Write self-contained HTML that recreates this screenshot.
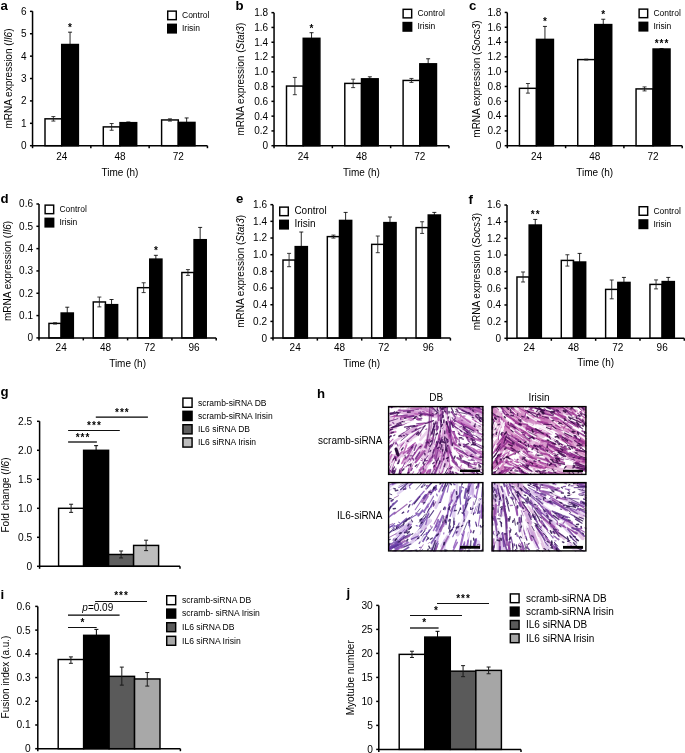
<!DOCTYPE html><html><head><meta charset="utf-8"><style>html,body{margin:0;padding:0;background:#fff;width:685px;height:753px;overflow:hidden;}svg text{font-family:"Liberation Sans",sans-serif;}</style></head><body><svg width="685" height="753" viewBox="0 0 685 753" font-family='"Liberation Sans", sans-serif' style="position:absolute;left:0;top:0;will-change:transform"><defs><filter id="bl" x="0" y="0" width="1" height="1"><feGaussianBlur stdDeviation="0.55"/></filter></defs>
<clipPath id="cp1"><rect x="388" y="406" width="95.5" height="69"/></clipPath>
<g clip-path="url(#cp1)"><g filter="url(#bl)" stroke-linecap="round">
<rect x="386" y="404" width="99.5" height="73" fill="#fff"/>
<path d="M462 406.2l9.1 7" stroke="#c880c8" stroke-width="4.5" opacity="0.5"/>
<path d="M442.5 470.6l7.5 -18" stroke="#d8a0d8" stroke-width="3" opacity="0.5"/>
<path d="M446 433.1l9 14.8" stroke="#c880c8" stroke-width="3.2" opacity="0.5"/>
<path d="M452.1 421.7l11 9.7" stroke="#d8a0d8" stroke-width="2.7" opacity="0.5"/>
<path d="M418.2 477.3l14.2 -21" stroke="#d8a0d8" stroke-width="4.6" opacity="0.5"/>
<path d="M426.7 455.9l1.3 -20.8" stroke="#d090d0" stroke-width="3.3" opacity="0.5"/>
<path d="M390.3 422.3l10.7 -2.2" stroke="#d8a0d8" stroke-width="4.5" opacity="0.5"/>
<path d="M445.6 452.4l1.8 -12.2" stroke="#d8a0d8" stroke-width="3.6" opacity="0.5"/>
<path d="M460 424.1l8.9 6.8" stroke="#c880c8" stroke-width="2.7" opacity="0.5"/>
<path d="M417.3 458.3l9.3 -17" stroke="#d8a0d8" stroke-width="4.6" opacity="0.5"/>
<path d="M463.8 410l21 12.8" stroke="#d8a0d8" stroke-width="4.5" opacity="0.5"/>
<path d="M448.9 436.5l0.8 16.2" stroke="#d8a0d8" stroke-width="3.7" opacity="0.5"/>
<path d="M416.1 404.7l22.7 11.4" stroke="#c880c8" stroke-width="3.1" opacity="0.5"/>
<path d="M472.3 474.5l17.1 4.4" stroke="#c880c8" stroke-width="4.1" opacity="0.5"/>
<path d="M396.1 404.2l17.1 -0.7" stroke="#d8a0d8" stroke-width="2.7" opacity="0.5"/>
<path d="M477.3 406.7l16.2 5.8" stroke="#c880c8" stroke-width="3.3" opacity="0.5"/>
<path d="M452.9 442.6l6 8.7" stroke="#d090d0" stroke-width="2.5" opacity="0.5"/>
<path d="M377.1 457.8l16.6 -13.9" stroke="#d8a0d8" stroke-width="3.3" opacity="0.5"/>
<path d="M457 467.8l19.2 8.4" stroke="#d090d0" stroke-width="4.8" opacity="0.5"/>
<path d="M431.8 396.7l7.9 14" stroke="#d8a0d8" stroke-width="2.5" opacity="0.5"/>
<path d="M466.8 451.5l17.7 12.6" stroke="#d090d0" stroke-width="4" opacity="0.5"/>
<path d="M436.6 447.2l2.3 -11.2" stroke="#c880c8" stroke-width="2.6" opacity="0.5"/>
<path d="M431.9 476.3l4.8 -11.3" stroke="#c880c8" stroke-width="4" opacity="0.5"/>
<path d="M415.1 461.2l4.9 -16.2" stroke="#d8a0d8" stroke-width="4.5" opacity="0.5"/>
<path d="M405.3 416.2l22.4 -6.7" stroke="#c880c8" stroke-width="4.6" opacity="0.5"/>
<path d="M457.9 406.8l23.2 8.7" stroke="#d090d0" stroke-width="4.6" opacity="0.5"/>
<path d="M448.9 428.3l0.2 23.4" stroke="#d090d0" stroke-width="5" opacity="0.5"/>
<path d="M442.8 457.7l-0.6 -13" stroke="#d090d0" stroke-width="4.4" opacity="0.5"/>
<path d="M398.3 411.6l19.8 3.4" stroke="#c880c8" stroke-width="3.6" opacity="0.5"/>
<path d="M410.8 405.4l22.3 6.2" stroke="#c880c8" stroke-width="3.1" opacity="0.5"/>
<path d="M392.1 426.8l19.9 -7.2" stroke="#c880c8" stroke-width="3.8" opacity="0.5"/>
<path d="M465.1 451.7l14.6 7.9" stroke="#d090d0" stroke-width="4.7" opacity="0.5"/>
<path d="M428.9 462.3l6 -20.7" stroke="#c880c8" stroke-width="4.5" opacity="0.5"/>
<path d="M402 435.5l13.4 -6.6" stroke="#d090d0" stroke-width="4.9" opacity="0.5"/>
<path d="M403.9 463l13.6 -11.9" stroke="#d090d0" stroke-width="2.6" opacity="0.5"/>
<path d="M386.5 470.1l6.8 -13.8" stroke="#d8a0d8" stroke-width="4.5" opacity="0.5"/>
<path d="M435.1 465.8l5.1 -23.5" stroke="#c880c8" stroke-width="3.9" opacity="0.5"/>
<path d="M441.1 437.9l1.9 -23.4" stroke="#d8a0d8" stroke-width="4.8" opacity="0.5"/>
<path d="M408.2 411.5l13.9 3.5" stroke="#d090d0" stroke-width="3.7" opacity="0.5"/>
<path d="M441.3 445.2l2.1 -10.9" stroke="#d090d0" stroke-width="3.8" opacity="0.5"/>
<path d="M399.1 447l20 -14.1" stroke="#d090d0" stroke-width="4.8" opacity="0.5"/>
<path d="M417.3 401.1l19.9 7.3" stroke="#d8a0d8" stroke-width="4.9" opacity="0.5"/>
<path d="M389.7 465.9l9.1 -15.7" stroke="#d8a0d8" stroke-width="3.1" opacity="0.5"/>
<path d="M435.5 427.7l7.6 -17.1" stroke="#d8a0d8" stroke-width="4" opacity="0.5"/>
<path d="M467.3 420.3l21.5 12.4" stroke="#d8a0d8" stroke-width="3" opacity="0.5"/>
<path d="M405 462.4l6.8 -9.4" stroke="#d090d0" stroke-width="4.6" opacity="0.5"/>
<path d="M438.1 465.8l4.5 -19.5" stroke="#d8a0d8" stroke-width="4.5" opacity="0.5"/>
<path d="M470 474.9l17.9 2.4" stroke="#c880c8" stroke-width="4.4" opacity="0.5"/>
<path d="M447.5 477.8l0.3 -13" stroke="#d8a0d8" stroke-width="2.8" opacity="0.5"/>
<path d="M472.8 399.8l15.5 19.9" stroke="#d8a0d8" stroke-width="3.7" opacity="0.5"/>
<path d="M423.6 457.6l9.6 -18.9" stroke="#d8a0d8" stroke-width="4.6" opacity="0.5"/>
<path d="M419.1 477.4l6.1 -9.8" stroke="#d090d0" stroke-width="4.5" opacity="0.5"/>
<path d="M465 445.7l17.3 9.3" stroke="#d090d0" stroke-width="3.8" opacity="0.5"/>
<path d="M385.7 429.5l10 -2.1" stroke="#c880c8" stroke-width="3.4" opacity="0.5"/>
<path d="M467.8 398.9l20.5 14.9" stroke="#d8a0d8" stroke-width="3.2" opacity="0.5"/>
<path d="M456.9 418.3l7.8 7.4" stroke="#d090d0" stroke-width="3" opacity="0.5"/>
<path d="M377.4 425.5l14 -6.6" stroke="#d090d0" stroke-width="3.9" opacity="0.5"/>
<path d="M384.6 481.3l6.7 -16.2" stroke="#d090d0" stroke-width="2.9" opacity="0.5"/>
<path d="M437.3 456.3l5.8 -17" stroke="#d090d0" stroke-width="3.2" opacity="0.5"/>
<path d="M409.7 460.9l6.5 -7.9" stroke="#d8a0d8" stroke-width="3.1" opacity="0.5"/>
<path d="M446.5 429.2l6.5 8.7" stroke="#d090d0" stroke-width="3.3" opacity="0.5"/>
<path d="M460.1 443.9l17.9 8.8" stroke="#d8a0d8" stroke-width="3.6" opacity="0.5"/>
<path d="M467.7 424.4l11.9 10.4" stroke="#d090d0" stroke-width="2.8" opacity="0.5"/>
<path d="M444 443.6l0.9 -18.5" stroke="#d090d0" stroke-width="5" opacity="0.5"/>
<path d="M449.8 414.7l21.1 11.9" stroke="#c880c8" stroke-width="4.5" opacity="0.5"/>
<path d="M445.7 463.9l3.1 -12.7" stroke="#d8a0d8" stroke-width="3.2" opacity="0.5"/>
<path d="M474.2 467.6l10.5 3.3" stroke="#d090d0" stroke-width="3.2" opacity="0.5"/>
<path d="M468 408.4l22.3 12.7" stroke="#d090d0" stroke-width="3.7" opacity="0.5"/>
<path d="M463 400.3l16.7 15.8" stroke="#d8a0d8" stroke-width="4.1" opacity="0.5"/>
<path d="M412.7 411.8l23 4.4" stroke="#d090d0" stroke-width="4" opacity="0.5"/>
<path d="M420.4 439.7l15.6 -18.3" stroke="#d8a0d8" stroke-width="2.7" opacity="0.5"/>
<path d="M446 466.4l1.4 -22.2" stroke="#d8a0d8" stroke-width="3.3" opacity="0.5"/>
<path d="M396.6 460l19.3 -15.1" stroke="#d090d0" stroke-width="3.3" opacity="0.5"/>
<path d="M461.6 420.1l12 11.2" stroke="#c880c8" stroke-width="4.8" opacity="0.5"/>
<path d="M437.6 472l4.8 -11.9" stroke="#d090d0" stroke-width="4.4" opacity="0.5"/>
<path d="M384.1 415l10.3 -0.8" stroke="#d090d0" stroke-width="4.6" opacity="0.5"/>
<path d="M435.9 468l4.2 -14.8" stroke="#c880c8" stroke-width="4.9" opacity="0.5"/>
<path d="M414.2 402.6l11.4 0.5" stroke="#c880c8" stroke-width="3.7" opacity="0.5"/>
<path d="M462.8 430.5l9.3 8.1" stroke="#c880c8" stroke-width="4.4" opacity="0.5"/>
<path d="M394.1 441.9l21.3 -14.1" stroke="#d090d0" stroke-width="2.6" opacity="0.5"/>
<path d="M448.9 420.1l22.1 11" stroke="#d090d0" stroke-width="4.8" opacity="0.5"/>
<path d="M460.8 421.9l13 8.8" stroke="#c880c8" stroke-width="4" opacity="0.5"/>
<path d="M455.6 446.3l6 2.8" stroke="#903898" stroke-width="1.2" opacity="0.8"/>
<path d="M446.1 481.5l5.9 -14.8" stroke="#7a2a8a" stroke-width="1.5" opacity="0.8"/>
<path d="M481.5 438.5l4.5 1.4" stroke="#7a2a8a" stroke-width="2.1" opacity="0.8"/>
<path d="M457.3 457.9l14.4 8.9" stroke="#7a2a8a" stroke-width="2" opacity="0.8"/>
<path d="M474 434.3l8.6 4.9" stroke="#7a2a8a" stroke-width="2" opacity="0.8"/>
<path d="M408 474.5l5 -11.9" stroke="#b858b0" stroke-width="2.2" opacity="0.8"/>
<path d="M437.1 403.3l0.7 6.5" stroke="#903898" stroke-width="1.1" opacity="0.8"/>
<path d="M408.2 461.1l6.7 -8.4" stroke="#6a2080" stroke-width="1.5" opacity="0.8"/>
<path d="M439.8 444.2l1.1 -6.5" stroke="#a848a8" stroke-width="1.1" opacity="0.8"/>
<path d="M378.8 436.1l16.7 -4.3" stroke="#b858b0" stroke-width="2.1" opacity="0.8"/>
<path d="M410.6 408.3l10.5 0.1" stroke="#b858b0" stroke-width="1.8" opacity="0.8"/>
<path d="M458.5 408l14.2 7.5" stroke="#7a2a8a" stroke-width="1.8" opacity="0.8"/>
<path d="M403.2 453.6l3.4 -8.6" stroke="#b858b0" stroke-width="1.6" opacity="0.8"/>
<path d="M440.6 413.7l2 -9.1" stroke="#b858b0" stroke-width="1" opacity="0.8"/>
<path d="M416.6 467.9l3 -5.2" stroke="#903898" stroke-width="0.9" opacity="0.8"/>
<path d="M467.9 446l6.5 3.1" stroke="#a848a8" stroke-width="1" opacity="0.8"/>
<path d="M423.6 466.9l10.3 -11.6" stroke="#903898" stroke-width="2.1" opacity="0.8"/>
<path d="M466.3 428.2l6.5 7.3" stroke="#7a2a8a" stroke-width="0.8" opacity="0.8"/>
<path d="M407 480.6l3.9 -6.6" stroke="#b858b0" stroke-width="1.1" opacity="0.8"/>
<path d="M464 444.5l11.8 8.8" stroke="#6a2080" stroke-width="2.1" opacity="0.8"/>
<path d="M440.1 411.5l5.4 -13.9" stroke="#7a2a8a" stroke-width="1" opacity="0.8"/>
<path d="M414.4 477.1l6.7 -8" stroke="#903898" stroke-width="1" opacity="0.8"/>
<path d="M387 478.6l5.8 -13.2" stroke="#b858b0" stroke-width="2.1" opacity="0.8"/>
<path d="M401.1 445.7l3.2 -3.1" stroke="#903898" stroke-width="1.1" opacity="0.8"/>
<path d="M382 418l6 -0.6" stroke="#6a2080" stroke-width="1.3" opacity="0.8"/>
<path d="M463.7 431.7l4.5 3" stroke="#6a2080" stroke-width="1.3" opacity="0.8"/>
<path d="M475.5 443.9l7.4 3" stroke="#7a2a8a" stroke-width="2" opacity="0.8"/>
<path d="M426.7 472.6l3.8 -2.8" stroke="#7a2a8a" stroke-width="1.8" opacity="0.8"/>
<path d="M414.2 450.3l2.1 -5.3" stroke="#6a2080" stroke-width="1.4" opacity="0.8"/>
<path d="M440.3 419.5l4.3 -8.9" stroke="#a848a8" stroke-width="1" opacity="0.8"/>
<path d="M391 467.9l5.1 -10.4" stroke="#a848a8" stroke-width="2.1" opacity="0.8"/>
<path d="M381 417.7l9.4 -4.2" stroke="#903898" stroke-width="1.5" opacity="0.8"/>
<path d="M419.5 448.9l2.4 -3.7" stroke="#b858b0" stroke-width="2.1" opacity="0.8"/>
<path d="M453.8 442.6l5.4 4.9" stroke="#a848a8" stroke-width="2.1" opacity="0.8"/>
<path d="M477.7 418.4l13 9.8" stroke="#7a2a8a" stroke-width="1.3" opacity="0.8"/>
<path d="M438.6 420.2l-0.6 -17.7" stroke="#903898" stroke-width="2.1" opacity="0.8"/>
<path d="M451.7 421.5l3.2 4.2" stroke="#7a2a8a" stroke-width="2.2" opacity="0.8"/>
<path d="M439 437.8l1.4 -6.1" stroke="#903898" stroke-width="2.2" opacity="0.8"/>
<path d="M421.5 475.5l4.3 -4.9" stroke="#b858b0" stroke-width="1.6" opacity="0.8"/>
<path d="M440.9 429l-0.2 -14.1" stroke="#6a2080" stroke-width="1.2" opacity="0.8"/>
<path d="M442.5 471.7l1.8 -5.9" stroke="#7a2a8a" stroke-width="0.8" opacity="0.8"/>
<path d="M457 465.8l4.3 3.6" stroke="#6a2080" stroke-width="1" opacity="0.8"/>
<path d="M443.8 459.7l0.7 -4.7" stroke="#b858b0" stroke-width="1.4" opacity="0.8"/>
<path d="M451 437.6l1 7.4" stroke="#6a2080" stroke-width="1.5" opacity="0.8"/>
<path d="M461.6 405.6l8.6 3.1" stroke="#a848a8" stroke-width="1.1" opacity="0.8"/>
<path d="M446.8 418.4l-0.9 -11.3" stroke="#a848a8" stroke-width="2.2" opacity="0.8"/>
<path d="M407.9 474.8l1.1 -9.4" stroke="#7a2a8a" stroke-width="1.2" opacity="0.8"/>
<path d="M448.6 417.1l-2 15.9" stroke="#a848a8" stroke-width="1.4" opacity="0.8"/>
<path d="M473.4 426l15.6 8.4" stroke="#a848a8" stroke-width="1.7" opacity="0.8"/>
<path d="M401.6 434.1l8.1 -5.7" stroke="#6a2080" stroke-width="1.1" opacity="0.8"/>
<path d="M464.8 433.6l5.8 10.9" stroke="#7a2a8a" stroke-width="1.9" opacity="0.8"/>
<path d="M450.5 465.8l8.2 4.5" stroke="#b858b0" stroke-width="0.9" opacity="0.8"/>
<path d="M418.1 423.7l6.5 -0.6" stroke="#7a2a8a" stroke-width="1.2" opacity="0.8"/>
<path d="M399 410.2l14.2 0.4" stroke="#903898" stroke-width="1.9" opacity="0.8"/>
<path d="M382.9 427.7l5 -1.5" stroke="#b858b0" stroke-width="2" opacity="0.8"/>
<path d="M449.3 422.2l8.5 6.7" stroke="#6a2080" stroke-width="1.1" opacity="0.8"/>
<path d="M444.3 409.7l3 -9.5" stroke="#903898" stroke-width="1.6" opacity="0.8"/>
<path d="M426.3 411.1l8.2 3.6" stroke="#b858b0" stroke-width="0.9" opacity="0.8"/>
<path d="M417.4 419.4l4.2 -1" stroke="#6a2080" stroke-width="1.7" opacity="0.8"/>
<path d="M454.8 448l12.9 9.3" stroke="#b858b0" stroke-width="1.6" opacity="0.8"/>
<path d="M403.7 453.3l8.3 -5.5" stroke="#a848a8" stroke-width="1.3" opacity="0.8"/>
<path d="M408.4 462.9l9.5 -14" stroke="#903898" stroke-width="1.1" opacity="0.8"/>
<path d="M415.6 462.2l9 -11.2" stroke="#903898" stroke-width="2.1" opacity="0.8"/>
<path d="M472.3 419l13.5 8.3" stroke="#b858b0" stroke-width="1.2" opacity="0.8"/>
<path d="M472.7 405.8l7.3 4.4" stroke="#b858b0" stroke-width="1.3" opacity="0.8"/>
<path d="M447.1 430l2.7 7.4" stroke="#7a2a8a" stroke-width="2" opacity="0.8"/>
<path d="M421.2 473.6l4.3 -4" stroke="#b858b0" stroke-width="1.5" opacity="0.8"/>
<path d="M383.5 451.8l3.9 -6.5" stroke="#6a2080" stroke-width="1.1" opacity="0.8"/>
<path d="M381.7 447.1l3.3 -6.6" stroke="#6a2080" stroke-width="1.5" opacity="0.8"/>
<path d="M403.4 411.5l15.1 -2.2" stroke="#7a2a8a" stroke-width="1.1" opacity="0.8"/>
<path d="M396.1 454.2l7.8 -9" stroke="#b858b0" stroke-width="1.3" opacity="0.8"/>
<path d="M434.7 458.5l1.9 -13.8" stroke="#903898" stroke-width="2.1" opacity="0.8"/>
<path d="M435.7 460.3l2.6 -12.4" stroke="#7a2a8a" stroke-width="1.4" opacity="0.8"/>
<path d="M433.7 469.4l5.7 -12.8" stroke="#b858b0" stroke-width="1.2" opacity="0.8"/>
<path d="M399.8 472.8l5.4 -10.6" stroke="#7a2a8a" stroke-width="1" opacity="0.8"/>
<path d="M458.3 420.9l5.4 4.2" stroke="#b858b0" stroke-width="1.7" opacity="0.8"/>
<path d="M401.4 417l12.2 -1" stroke="#903898" stroke-width="2.1" opacity="0.8"/>
<path d="M406.4 459l6.7 -11.7" stroke="#903898" stroke-width="1" opacity="0.8"/>
<path d="M455.4 408.6l5.4 5.9" stroke="#a848a8" stroke-width="1.8" opacity="0.8"/>
<path d="M468.3 467l4.8 1.1" stroke="#b858b0" stroke-width="1.4" opacity="0.8"/>
<path d="M404.5 459.4l4.4 -4.1" stroke="#903898" stroke-width="1.6" opacity="0.8"/>
<path d="M390.2 416.6l17 -1.4" stroke="#7a2a8a" stroke-width="1.2" opacity="0.8"/>
<path d="M407.8 448.7l7.5 -5.9" stroke="#a848a8" stroke-width="1.3" opacity="0.8"/>
<path d="M402.2 406.7l16.5 -0.5" stroke="#a848a8" stroke-width="1.2" opacity="0.8"/>
<path d="M376.2 429.2l14.9 -2.3" stroke="#7a2a8a" stroke-width="2.2" opacity="0.8"/>
<path d="M463.3 429.1l9.4 6.9" stroke="#6a2080" stroke-width="1.7" opacity="0.8"/>
<path d="M406.1 417.6l7.3 -1.5" stroke="#6a2080" stroke-width="1.9" opacity="0.8"/>
<path d="M398.9 404.3l5.6 0.5" stroke="#b858b0" stroke-width="0.9" opacity="0.8"/>
<path d="M382.5 448.9l6.4 -8.3" stroke="#a848a8" stroke-width="2" opacity="0.8"/>
<path d="M391.4 481.2l4.8 -13" stroke="#6a2080" stroke-width="1.2" opacity="0.8"/>
<path d="M383.2 450.3l5 -8" stroke="#b858b0" stroke-width="1.3" opacity="0.8"/>
<path d="M449.2 421.2l2.2 16.5" stroke="#a848a8" stroke-width="1.3" opacity="0.8"/>
<path d="M408.7 419l4.6 -0.4" stroke="#b858b0" stroke-width="1" opacity="0.8"/>
<path d="M389.3 413.8l10 -0.9" stroke="#6a2080" stroke-width="0.8" opacity="0.8"/>
<path d="M468.2 460l6.4 0.7" stroke="#6a2080" stroke-width="0.9" opacity="0.8"/>
<path d="M426.5 480.1l3.8 -8.9" stroke="#903898" stroke-width="1.8" opacity="0.8"/>
<path d="M461.4 403.5l14.4 8.8" stroke="#b858b0" stroke-width="2" opacity="0.8"/>
<path d="M386.5 453.7l5.1 -8.8" stroke="#7a2a8a" stroke-width="1.8" opacity="0.8"/>
<path d="M433.1 452.8l6.4 -14.4" stroke="#7a2a8a" stroke-width="1.8" opacity="0.8"/>
<path d="M466.1 437.7l9.9 5.9" stroke="#a848a8" stroke-width="0.9" opacity="0.8"/>
<path d="M438.4 439.1l0.6 -4.6" stroke="#b858b0" stroke-width="0.9" opacity="0.8"/>
<path d="M480.7 456.5l13.7 4.1" stroke="#7a2a8a" stroke-width="2.2" opacity="0.8"/>
<path d="M469.7 407.7l15.6 6.5" stroke="#903898" stroke-width="1.9" opacity="0.8"/>
<path d="M431.6 484l10.8 -12" stroke="#b858b0" stroke-width="1.8" opacity="0.8"/>
<path d="M437 431l1.1 -4" stroke="#7a2a8a" stroke-width="1.4" opacity="0.8"/>
<path d="M473.9 462.2l9 1.6" stroke="#a848a8" stroke-width="0.9" opacity="0.8"/>
<path d="M477.4 472.9l6.8 4.4" stroke="#6a2080" stroke-width="1.4" opacity="0.8"/>
<path d="M447.5 479.9l1.1 -17.8" stroke="#b858b0" stroke-width="1.1" opacity="0.8"/>
<path d="M469 455.5l12.6 4.5" stroke="#a848a8" stroke-width="1.4" opacity="0.8"/>
<path d="M398.2 449.2l6 -5.1" stroke="#b858b0" stroke-width="1.2" opacity="0.8"/>
<path d="M445.3 420.9l4 17.5" stroke="#b858b0" stroke-width="1.8" opacity="0.8"/>
<path d="M399.7 407.5l9.2 1" stroke="#b858b0" stroke-width="1.7" opacity="0.8"/>
<path d="M416.7 461.3l5.8 -10.6" stroke="#b858b0" stroke-width="1.2" opacity="0.8"/>
<path d="M450.2 416.5l2.4 6.4" stroke="#903898" stroke-width="1.4" opacity="0.8"/>
<path d="M426.8 405.7l7.1 3.5" stroke="#b858b0" stroke-width="1.4" opacity="0.8"/>
<path d="M451.5 419.3l4.6 3.7" stroke="#b858b0" stroke-width="2.1" opacity="0.8"/>
<path d="M416.2 426l15.6 -4.7" stroke="#a848a8" stroke-width="1.9" opacity="0.8"/>
<path d="M473.4 406.9l7.9 4.8" stroke="#b858b0" stroke-width="1.8" opacity="0.8"/>
<path d="M451.6 411.7l3.6 5.2" stroke="#7a2a8a" stroke-width="1.5" opacity="0.8"/>
<path d="M419.6 470.1l10.2 -9.3" stroke="#a848a8" stroke-width="2.2" opacity="0.8"/>
<path d="M434.4 468l2.1 -4.9" stroke="#a848a8" stroke-width="1.9" opacity="0.8"/>
<path d="M449.6 466.5l-1.8 -15.3" stroke="#a848a8" stroke-width="1.8" opacity="0.8"/>
<path d="M424.3 413.3l8.9 2.2" stroke="#a848a8" stroke-width="2" opacity="0.8"/>
<path d="M392.5 480.8l1.2 -4.8" stroke="#a848a8" stroke-width="1.1" opacity="0.8"/>
<path d="M436.3 429.7l1 -7.4" stroke="#7a2a8a" stroke-width="1.6" opacity="0.8"/>
<path d="M428.2 452.5l4.9 -15.1" stroke="#6a2080" stroke-width="0.9" opacity="0.8"/>
<path d="M397.6 480.6l3.8 -8.9" stroke="#a848a8" stroke-width="1.7" opacity="0.8"/>
<path d="M456.2 413.3l3.8 2.3" stroke="#b858b0" stroke-width="1" opacity="0.8"/>
<path d="M462.1 429.7l5.1 4.8" stroke="#7a2a8a" stroke-width="1.6" opacity="0.8"/>
<path d="M432.2 434.8l2.2 -10.1" stroke="#6a2080" stroke-width="0.9" opacity="0.8"/>
<path d="M386.3 446l6.7 -6.8" stroke="#a848a8" stroke-width="1.1" opacity="0.8"/>
<path d="M417.5 479.2l7 -9" stroke="#b858b0" stroke-width="1.8" opacity="0.8"/>
<path d="M423.2 481.4l5.4 -11.1" stroke="#b858b0" stroke-width="2.1" opacity="0.8"/>
<path d="M381.9 417.5l14.5 -2" stroke="#a848a8" stroke-width="1.3" opacity="0.8"/>
<path d="M479.8 451.3l5.2 0.7" stroke="#a848a8" stroke-width="1.6" opacity="0.8"/>
<path d="M463.4 424.5l14.3 5.9" stroke="#b858b0" stroke-width="1.9" opacity="0.8"/>
<path d="M386.5 466.3l5.3 -11.6" stroke="#b858b0" stroke-width="1.6" opacity="0.8"/>
<path d="M380.9 464.6l5.9 -12.2" stroke="#a848a8" stroke-width="2.2" opacity="0.8"/>
<path d="M385.1 429.4l16.7 -4.5" stroke="#b858b0" stroke-width="1" opacity="0.8"/>
<path d="M420 467.6l8 -12" stroke="#6a2080" stroke-width="1" opacity="0.8"/>
<path d="M453.8 431.8l2.6 10.2" stroke="#903898" stroke-width="1.9" opacity="0.8"/>
<path d="M415.8 458.8l3.8 -6.6" stroke="#6a2080" stroke-width="1.8" opacity="0.8"/>
<path d="M402.7 425.2l14.5 -8.3" stroke="#903898" stroke-width="0.9" opacity="0.8"/>
<path d="M428.1 446.1l6.1 -13.2" stroke="#b858b0" stroke-width="0.9" opacity="0.8"/>
<path d="M414.8 413.8l10.7 1.7" stroke="#b858b0" stroke-width="1.4" opacity="0.8"/>
<path d="M460.9 415.8l9.3 6.7" stroke="#a848a8" stroke-width="1.7" opacity="0.8"/>
<path d="M391.4 416.3l17.9 1.4" stroke="#b858b0" stroke-width="1.3" opacity="0.8"/>
<path d="M457.6 422l4.1 1.4" stroke="#b858b0" stroke-width="1.6" opacity="0.8"/>
<path d="M451.3 421.1l4.1 6.5" stroke="#a848a8" stroke-width="0.9" opacity="0.8"/>
<path d="M433.7 476.3l6 -14.9" stroke="#6a2080" stroke-width="2" opacity="0.8"/>
<path d="M390 470.1l5.1 -13.6" stroke="#6a2080" stroke-width="1.8" opacity="0.8"/>
<path d="M385.6 480.4l6.7 -13.4" stroke="#7a2a8a" stroke-width="1.1" opacity="0.8"/>
<path d="M450.9 424.1l8.9 9.4" stroke="#b858b0" stroke-width="1.2" opacity="0.8"/>
<path d="M454.5 420.2l13.4 10.6" stroke="#903898" stroke-width="2.1" opacity="0.8"/>
<path d="M388.4 454.9l2.6 -3.5" stroke="#6a2080" stroke-width="1.6" opacity="0.8"/>
<path d="M387.1 414l13.6 -1.8" stroke="#6a2080" stroke-width="0.8" opacity="0.8"/>
<path d="M392.6 474.3l-0.1 -7.1" stroke="#903898" stroke-width="1.2" opacity="0.8"/>
<path d="M379.8 443.6l11.2 -7.7" stroke="#6a2080" stroke-width="1.7" opacity="0.8"/>
<path d="M397.9 475.5l3.7 -7.3" stroke="#a848a8" stroke-width="1.2" opacity="0.8"/>
<path d="M459.9 451l7.8 4.9" stroke="#903898" stroke-width="2.1" opacity="0.8"/>
<path d="M411.8 432.1l13.3 -6.5" stroke="#6a2080" stroke-width="1.2" opacity="0.8"/>
<path d="M477.9 432.6l6.3 2.9" stroke="#903898" stroke-width="1.4" opacity="0.8"/>
<path d="M461 423.1l9.1 9.5" stroke="#6a2080" stroke-width="1.2" opacity="0.8"/>
<path d="M380.1 427.3l10.9 -2.2" stroke="#903898" stroke-width="1.8" opacity="0.8"/>
<path d="M452.3 460.6l3.4 3.8" stroke="#903898" stroke-width="1.9" opacity="0.8"/>
<path d="M441.4 415.5l0.6 -4.9" stroke="#7a2a8a" stroke-width="0.9" opacity="0.8"/>
<path d="M402 484l11.4 -12.2" stroke="#a848a8" stroke-width="1.6" opacity="0.8"/>
<path d="M382.9 442.1l3.6 -3.3" stroke="#903898" stroke-width="2.1" opacity="0.8"/>
<path d="M386.9 415.6l6.9 -1.8" stroke="#903898" stroke-width="1.2" opacity="0.8"/>
<path d="M455.8 472.7l4.9 3.2" stroke="#7a2a8a" stroke-width="1.7" opacity="0.8"/>
<path d="M456.6 450.7l5.7 6.3" stroke="#b858b0" stroke-width="1.6" opacity="0.8"/>
<path d="M440 468.6l5.7 -16.3" stroke="#903898" stroke-width="0.9" opacity="0.8"/>
<path d="M473.9 449.4l14.9 9.1" stroke="#a848a8" stroke-width="1.7" opacity="0.8"/>
<path d="M464 434.9l16.2 5.9" stroke="#a848a8" stroke-width="2.2" opacity="0.8"/>
<path d="M405.1 406.2l15.5 -0.5" stroke="#a848a8" stroke-width="2.1" opacity="0.8"/>
<path d="M435.5 455.4l0.3 -6.6" stroke="#b858b0" stroke-width="0.8" opacity="0.8"/>
<path d="M441.5 461.9l1.5 -14.3" stroke="#903898" stroke-width="1" opacity="0.8"/>
<path d="M424.8 447.2l4.6 -7.4" stroke="#903898" stroke-width="2.1" opacity="0.8"/>
<path d="M448.6 430.5l7.5 15.1" stroke="#b858b0" stroke-width="1.9" opacity="0.8"/>
<path d="M399.3 477.1l1 -5.3" stroke="#b858b0" stroke-width="1.8" opacity="0.8"/>
<path d="M448.1 426.6l9.5 12.7" stroke="#a848a8" stroke-width="1.6" opacity="0.8"/>
<path d="M407 441.2l11.4 -10.1" stroke="#7a2a8a" stroke-width="1.1" opacity="0.8"/>
<path d="M434.4 443.3l3.6 -16.9" stroke="#7a2a8a" stroke-width="1.5" opacity="0.8"/>
<path d="M449.6 451.1l3 7.6" stroke="#903898" stroke-width="1.7" opacity="0.8"/>
<path d="M460.7 461.9l15.1 3" stroke="#903898" stroke-width="1.2" opacity="0.8"/>
<path d="M448.2 445.7l5.4 16.3" stroke="#903898" stroke-width="2" opacity="0.8"/>
<path d="M390.8 463.5l11.2 -11.6" stroke="#a848a8" stroke-width="1.9" opacity="0.8"/>
<path d="M449.9 435.4l0.9 8.9" stroke="#903898" stroke-width="0.8" opacity="0.8"/>
<path d="M431.9 481.9l7.7 -10" stroke="#903898" stroke-width="1" opacity="0.8"/>
<path d="M448.5 469l13.7 10" stroke="#b858b0" stroke-width="2.1" opacity="0.8"/>
<path d="M437.9 451.7l2.6 -10.2" stroke="#a848a8" stroke-width="0.9" opacity="0.8"/>
<path d="M406.6 428.7l4 -2.5" stroke="#6a2080" stroke-width="1.3" opacity="0.8"/>
<path d="M474.6 406.5l9.8 4.2" stroke="#6a2080" stroke-width="1.4" opacity="0.8"/>
<path d="M432.1 477.7l7.4 -6.6" stroke="#a848a8" stroke-width="0.8" opacity="0.8"/>
<path d="M401.8 463.5l2.6 -5.5" stroke="#b858b0" stroke-width="1.6" opacity="0.8"/>
<path d="M378.8 406.8l17.7 0.3" stroke="#903898" stroke-width="2.1" opacity="0.8"/>
<path d="M481.2 469l4.6 2" stroke="#6a2080" stroke-width="1.2" opacity="0.8"/>
<path d="M447.9 409l-0.1 -5.8" stroke="#7a2a8a" stroke-width="0.9" opacity="0.8"/>
<path d="M456.6 447.9l6.7 3.2" stroke="#6a2080" stroke-width="1.8" opacity="0.8"/>
<path d="M450.1 420.2l0.2 15.7" stroke="#6a2080" stroke-width="1.8" opacity="0.8"/>
<path d="M450.5 452.5l6.5 12.6" stroke="#7a2a8a" stroke-width="2.1" opacity="0.8"/>
<path d="M407.8 453.1l5.4 -7.9" stroke="#903898" stroke-width="2.2" opacity="0.8"/>
<path d="M459.5 434.8l4.5 1.4" stroke="#7a2a8a" stroke-width="1.1" opacity="0.8"/>
<path d="M453.5 425.6l9.1 5.6" stroke="#6a2080" stroke-width="1.2" opacity="0.8"/>
<path d="M418.9 413l14.3 2.9" stroke="#6a2080" stroke-width="1.6" opacity="0.8"/>
<path d="M441.3 446.8l1.7 -8.8" stroke="#fff" stroke-width="1" opacity="0.85"/>
<path d="M446.5 472.8l2.4 -10.4" stroke="#fff" stroke-width="1.1" opacity="0.85"/>
<path d="M399 451l5.7 -6.5" stroke="#fff" stroke-width="1.3" opacity="0.85"/>
<path d="M476.9 441.8l11.6 7" stroke="#fff" stroke-width="1.2" opacity="0.85"/>
<path d="M413.5 458.1l6.4 -8.8" stroke="#fff" stroke-width="1.6" opacity="0.85"/>
<path d="M421.3 427.1l6.1 -4.5" stroke="#fff" stroke-width="1.3" opacity="0.85"/>
<path d="M449.7 412.9l2.1 6.8" stroke="#fff" stroke-width="1.7" opacity="0.85"/>
<path d="M474.5 422.1l5.3 2.3" stroke="#fff" stroke-width="0.9" opacity="0.85"/>
<path d="M454.8 421.9l7.5 4.7" stroke="#fff" stroke-width="1.5" opacity="0.85"/>
<path d="M388 468.2l5.3 -11.4" stroke="#fff" stroke-width="1" opacity="0.85"/>
<path d="M418.1 468.8l4.3 -4.5" stroke="#fff" stroke-width="1.3" opacity="0.85"/>
<path d="M412.9 439.8l10.2 -6.5" stroke="#fff" stroke-width="1.4" opacity="0.85"/>
<path d="M404.2 421.5l10.2 -0.2" stroke="#fff" stroke-width="1" opacity="0.85"/>
<path d="M476.4 427.6l7.4 4" stroke="#fff" stroke-width="1.2" opacity="0.85"/>
<path d="M451.3 414.3l2.7 7" stroke="#fff" stroke-width="1.5" opacity="0.85"/>
<path d="M405.4 472.4l6.5 -10.9" stroke="#fff" stroke-width="1" opacity="0.85"/>
<path d="M452 406.3l9.3 5.8" stroke="#fff" stroke-width="0.9" opacity="0.85"/>
<path d="M464.1 441l8.5 5" stroke="#fff" stroke-width="0.9" opacity="0.85"/>
<path d="M476.5 444.3l11 6.1" stroke="#fff" stroke-width="0.9" opacity="0.85"/>
<path d="M392.3 408.2l10.9 -1.5" stroke="#fff" stroke-width="1" opacity="0.85"/>
<path d="M451.3 425.2l6.2 6" stroke="#fff" stroke-width="1.1" opacity="0.85"/>
<path d="M441 434.3l1.2 -7.5" stroke="#fff" stroke-width="1" opacity="0.85"/>
<path d="M384.9 429.3l9.2 -3.7" stroke="#fff" stroke-width="1.1" opacity="0.85"/>
<path d="M396.8 468.2l4 -7.7" stroke="#fff" stroke-width="1.3" opacity="0.85"/>
<path d="M455.4 446.4l9.3 5.1" stroke="#fff" stroke-width="1.5" opacity="0.85"/>
<path d="M434.2 438.1l3.2 -7.2" stroke="#fff" stroke-width="1.3" opacity="0.85"/>
<path d="M436.7 466.5l4.4 -12.1" stroke="#fff" stroke-width="1" opacity="0.85"/>
<path d="M388 427.3l4.2 -1" stroke="#fff" stroke-width="1.6" opacity="0.85"/>
<path d="M403.2 471.3l6.2 -10.7" stroke="#fff" stroke-width="1.5" opacity="0.85"/>
<path d="M452 453.6l4 7.5" stroke="#fff" stroke-width="1.2" opacity="0.85"/>
<path d="M477 466.8l11.3 5" stroke="#fff" stroke-width="0.9" opacity="0.85"/>
<path d="M408.9 476.9l5.3 -7.8" stroke="#fff" stroke-width="1.3" opacity="0.85"/>
<path d="M436.6 476.6l1.4 -4.5" stroke="#fff" stroke-width="1.8" opacity="0.85"/>
<path d="M385.5 417.4l7.6 -2.3" stroke="#fff" stroke-width="1.4" opacity="0.85"/>
<path d="M472.6 433.2l10.2 5.6" stroke="#fff" stroke-width="1.4" opacity="0.85"/>
<path d="M442.8 422.2l1.6 -8.5" stroke="#fff" stroke-width="1.7" opacity="0.85"/>
<path d="M429.2 446.9l3 -6.7" stroke="#fff" stroke-width="1.4" opacity="0.85"/>
<path d="M448.3 404.1l0.1 6.2" stroke="#fff" stroke-width="1.5" opacity="0.85"/>
<path d="M455.3 425.1l11 8" stroke="#fff" stroke-width="1.4" opacity="0.85"/>
<path d="M395.9 452.7l3.5 -5.6" stroke="#fff" stroke-width="1.6" opacity="0.85"/>
<path d="M387.5 408.4l12 -0.1" stroke="#fff" stroke-width="0.9" opacity="0.85"/>
<path d="M404.5 408.4l5.6 -0.8" stroke="#fff" stroke-width="1.3" opacity="0.85"/>
<path d="M411.2 465.6l3.2 -4.9" stroke="#fff" stroke-width="1.4" opacity="0.85"/>
<path d="M445.8 472.5l1.9 -4" stroke="#fff" stroke-width="1.4" opacity="0.85"/>
<path d="M410.7 457.9l2.8 -5.1" stroke="#fff" stroke-width="1.3" opacity="0.85"/>
<path d="M477.6 420.7l5.7 3.7" stroke="#fff" stroke-width="1.7" opacity="0.85"/>
<path d="M402.4 423.1l6.8 -1.4" stroke="#fff" stroke-width="1.6" opacity="0.85"/>
<path d="M451 469.9l7.8 7.4" stroke="#fff" stroke-width="1.4" opacity="0.85"/>
<path d="M431.8 407.1l6.6 6" stroke="#fff" stroke-width="1.2" opacity="0.85"/>
<path d="M438.5 411.5l0.4 -4.3" stroke="#fff" stroke-width="1.8" opacity="0.85"/>
<path d="M398.5 452.3l7.3 -10.9" stroke="#fff" stroke-width="1" opacity="0.85"/>
<path d="M434.2 446.1l3.2 -11.2" stroke="#fff" stroke-width="1.4" opacity="0.85"/>
<path d="M451.7 408.2l10.9 6.3" stroke="#fff" stroke-width="0.8" opacity="0.85"/>
<path d="M401.1 441.9l10.1 -7.3" stroke="#fff" stroke-width="1.4" opacity="0.85"/>
<path d="M452.6 405.3l8.8 8.5" stroke="#fff" stroke-width="0.9" opacity="0.85"/>
<path d="M401.4 408.7l4.3 -0.3" stroke="#fff" stroke-width="1.7" opacity="0.85"/>
<path d="M390.8 469.1l3.3 -9.4" stroke="#fff" stroke-width="1.7" opacity="0.85"/>
<path d="M388.2 414.5l6.7 -1.5" stroke="#fff" stroke-width="1" opacity="0.85"/>
<path d="M448.7 414.8l0.8 5.6" stroke="#fff" stroke-width="1.3" opacity="0.85"/>
<path d="M419.3 414.8l9.2 3" stroke="#fff" stroke-width="1.3" opacity="0.85"/>
<path d="M390.5 451.1l2.7 -5.3" stroke="#fff" stroke-width="1.1" opacity="0.85"/>
<path d="M386.2 471.4l5.4 -8.3" stroke="#fff" stroke-width="1.2" opacity="0.85"/>
<path d="M395.4 434.4l10.4 -3.8" stroke="#fff" stroke-width="1.2" opacity="0.85"/>
<path d="M453.8 467.3l3.5 2.7" stroke="#fff" stroke-width="1.1" opacity="0.85"/>
<path d="M456.9 451.4l11.9 5.8" stroke="#fff" stroke-width="1" opacity="0.85"/>
<path d="M422.8 470l5.5 -10.3" stroke="#fff" stroke-width="0.9" opacity="0.85"/>
<path d="M466.7 427.9l8 6.1" stroke="#fff" stroke-width="1.8" opacity="0.85"/>
<path d="M468 442.8l11.4 6" stroke="#fff" stroke-width="1.8" opacity="0.85"/>
<path d="M476.5 413.5l6.4 4.9" stroke="#fff" stroke-width="1.4" opacity="0.85"/>
<path d="M399.5 461.9l2.1 -4.1" stroke="#fff" stroke-width="1.4" opacity="0.85"/>
<path d="M446 423.4l-0 -8.5" stroke="#fff" stroke-width="1.7" opacity="0.85"/>
<path d="M482.7 420.2l8.4 4.6" stroke="#501868" stroke-width="0.8" opacity="0.85"/>
<path d="M416.9 402.7l4 -0.1" stroke="#501868" stroke-width="0.9" opacity="0.85"/>
<path d="M431.5 444.6l2 -7.2" stroke="#501868" stroke-width="1.3" opacity="0.85"/>
<path d="M432.1 457.7l1.8 -8.3" stroke="#501868" stroke-width="0.9" opacity="0.85"/>
<path d="M450.3 471.3l3.5 8.1" stroke="#501868" stroke-width="1.2" opacity="0.85"/>
<path d="M483 406l3.8 2" stroke="#501868" stroke-width="1" opacity="0.85"/>
<path d="M383.4 420.9l4.9 -1.9" stroke="#501868" stroke-width="0.7" opacity="0.85"/>
<path d="M465.6 426.6l8.3 4.3" stroke="#501868" stroke-width="1.2" opacity="0.85"/>
<path d="M450.3 473.5l8.2 6.1" stroke="#501868" stroke-width="1.1" opacity="0.85"/>
<path d="M396.5 424.1l6.3 -2.7" stroke="#40105a" stroke-width="1" opacity="0.85"/>
<path d="M484.2 460.4l6.1 4.6" stroke="#501868" stroke-width="1.1" opacity="0.85"/>
<path d="M433.6 436.2l1 -6.8" stroke="#40105a" stroke-width="1.4" opacity="0.85"/>
<path d="M389.1 421.4l8.8 -2.8" stroke="#501868" stroke-width="0.9" opacity="0.85"/>
<path d="M383.4 472.1l2 -4.6" stroke="#40105a" stroke-width="0.8" opacity="0.85"/>
<path d="M442.6 417l0.2 -5.5" stroke="#501868" stroke-width="1.4" opacity="0.85"/>
<path d="M397.4 463.7l2 -3.8" stroke="#501868" stroke-width="1.2" opacity="0.85"/>
<path d="M466.5 470.3l7.5 2.7" stroke="#501868" stroke-width="0.9" opacity="0.85"/>
<path d="M446.5 421.5l3.2 10.8" stroke="#40105a" stroke-width="1.3" opacity="0.85"/>
<path d="M436.4 446.6l1.8 -5.1" stroke="#40105a" stroke-width="1.1" opacity="0.85"/>
<path d="M478.4 417.2l6.6 4.7" stroke="#40105a" stroke-width="0.9" opacity="0.85"/>
<path d="M418.1 435.4l6.8 -9.6" stroke="#40105a" stroke-width="1.1" opacity="0.85"/>
<path d="M463.8 460.8l5.4 2.3" stroke="#501868" stroke-width="1.4" opacity="0.85"/>
<path d="M461.9 410.2l6.9 3.4" stroke="#501868" stroke-width="1.1" opacity="0.85"/>
<path d="M404.5 427.2l10.3 -1.5" stroke="#501868" stroke-width="1.3" opacity="0.85"/>
<path d="M443.1 456.3l4.5 -10.9" stroke="#40105a" stroke-width="1.1" opacity="0.85"/>
<path d="M431.2 406.4l6.9 6.7" stroke="#501868" stroke-width="1.4" opacity="0.85"/>
<path d="M477.6 462.2l7.2 3" stroke="#501868" stroke-width="0.8" opacity="0.85"/>
<path d="M440.9 424.8l1.1 -7.8" stroke="#501868" stroke-width="0.9" opacity="0.85"/>
<path d="M425.1 423.7l8.4 -3.1" stroke="#40105a" stroke-width="1.2" opacity="0.85"/>
<path d="M391.6 446.9l2.2 -4.2" stroke="#40105a" stroke-width="1" opacity="0.85"/>
<path d="M411.6 427.6l6.1 -1.9" stroke="#501868" stroke-width="0.8" opacity="0.85"/>
<path d="M461.9 450.6l6.1 5.5" stroke="#501868" stroke-width="1" opacity="0.85"/>
<path d="M390.4 414.2l5.1 -1.2" stroke="#501868" stroke-width="1.4" opacity="0.85"/>
<path d="M447.3 414.1l0 -7.4" stroke="#501868" stroke-width="1" opacity="0.85"/>
<path d="M391.5 472.3l3 -5.4" stroke="#40105a" stroke-width="1.2" opacity="0.85"/>
<path d="M401 440.7l7.2 -6.1" stroke="#40105a" stroke-width="0.8" opacity="0.85"/>
<path d="M445.8 449.5l0.1 -7.9" stroke="#40105a" stroke-width="1.4" opacity="0.85"/>
<path d="M479.6 416.7l4.2 3.3" stroke="#40105a" stroke-width="0.9" opacity="0.85"/>
<path d="M476.3 436.2l5.1 4.5" stroke="#501868" stroke-width="0.9" opacity="0.85"/>
<path d="M430.8 435.1l3.1 -8.9" stroke="#501868" stroke-width="1.2" opacity="0.85"/>
<path d="M482.3 452.7l5.9 5.7" stroke="#40105a" stroke-width="1.1" opacity="0.85"/>
<path d="M452.2 417.6l2.4 4" stroke="#40105a" stroke-width="0.9" opacity="0.85"/>
<path d="M469.3 430.3l4.2 2.4" stroke="#40105a" stroke-width="0.7" opacity="0.85"/>
<path d="M478.5 416.6l7.4 2.2" stroke="#501868" stroke-width="0.8" opacity="0.85"/>
<path d="M386.2 441.5l3.2 -3.6" stroke="#40105a" stroke-width="1.4" opacity="0.85"/>
<path d="M478.6 471.2l10.8 5.2" stroke="#40105a" stroke-width="0.8" opacity="0.85"/>
<path d="M391.1 427.7l9.8 -4.3" stroke="#40105a" stroke-width="1.2" opacity="0.85"/>
<path d="M463.2 402.7l10.2 4.8" stroke="#501868" stroke-width="1.3" opacity="0.85"/>
<path d="M416.8 419.6l4.4 0.5" stroke="#501868" stroke-width="1" opacity="0.85"/>
<path d="M408.4 406.9l6.3 -0.7" stroke="#40105a" stroke-width="0.8" opacity="0.85"/>
<path d="M383.6 403.7l5.2 -1.1" stroke="#501868" stroke-width="1" opacity="0.85"/>
<path d="M444.2 474.9l3.7 -6.8" stroke="#40105a" stroke-width="1" opacity="0.85"/>
<path d="M464.4 432.7l9.9 5.2" stroke="#501868" stroke-width="1" opacity="0.85"/>
<path d="M428.8 477l5.8 -7.6" stroke="#501868" stroke-width="0.8" opacity="0.85"/>
<path d="M431.8 433.5l3.5 -10.5" stroke="#40105a" stroke-width="1.4" opacity="0.85"/>
<path d="M440.4 444l1.7 -6.9" stroke="#501868" stroke-width="1.1" opacity="0.85"/>
<path d="M392.4 427.5l9.5 -2.6" stroke="#40105a" stroke-width="1.3" opacity="0.85"/>
<path d="M451.3 422.6l1.8 4.7" stroke="#40105a" stroke-width="1.4" opacity="0.85"/>
<path d="M451.4 408l2 4.2" stroke="#40105a" stroke-width="1.3" opacity="0.85"/>
<path d="M475.4 445l6 3.2" stroke="#501868" stroke-width="1.3" opacity="0.85"/>
<path d="M455.5 411.7l11.4 2.3" stroke="#40105a" stroke-width="0.8" opacity="0.85"/>
<path d="M442.1 409.3l1.2 -2.2" stroke="#34084a" stroke-width="1.6" opacity="0.85"/>
<path d="M472.2 417.2l1.7 0.9" stroke="#34084a" stroke-width="1.1" opacity="0.85"/>
<path d="M478.9 464.9l1.8 2" stroke="#34084a" stroke-width="1.6" opacity="0.85"/>
<path d="M446.4 458.5l1.5 -0.9" stroke="#34084a" stroke-width="1.3" opacity="0.85"/>
<path d="M471.7 444.8l1.6 -1.2" stroke="#34084a" stroke-width="1.4" opacity="0.85"/>
<path d="M449.5 468.5l1.6 -0.9" stroke="#44145a" stroke-width="1.1" opacity="0.85"/>
<path d="M424.7 402.6l0.4 1.7" stroke="#44145a" stroke-width="1.7" opacity="0.85"/>
<path d="M443.6 459.7l0.2 -1.3" stroke="#44145a" stroke-width="1.4" opacity="0.85"/>
<path d="M405.8 403.1l2.4 1" stroke="#44145a" stroke-width="1.3" opacity="0.85"/>
<path d="M487 412.2l1.6 0.9" stroke="#34084a" stroke-width="1.3" opacity="0.85"/>
<path d="M486.9 460.4l0.4 2.1" stroke="#44145a" stroke-width="1.5" opacity="0.85"/>
<path d="M397.3 476.9l0 -1.6" stroke="#44145a" stroke-width="1.7" opacity="0.85"/>
<path d="M384.8 409.3l1.6 1" stroke="#34084a" stroke-width="1.4" opacity="0.85"/>
<path d="M475.9 471.5l1.5 2" stroke="#34084a" stroke-width="1.2" opacity="0.85"/>
<path d="M444.3 466.4l0.7 -2.5" stroke="#44145a" stroke-width="1.6" opacity="0.85"/>
<path d="M472.5 440.2l1.6 -0.1" stroke="#34084a" stroke-width="1.5" opacity="0.85"/>
<path d="M426.1 443l1.2 -1.2" stroke="#44145a" stroke-width="1.6" opacity="0.85"/>
<path d="M391 433.1l2.5 -1" stroke="#34084a" stroke-width="1.2" opacity="0.85"/>
<path d="M444.5 407.3l1.3 -0" stroke="#44145a" stroke-width="1.5" opacity="0.85"/>
<path d="M482.8 424.8l1.5 0.3" stroke="#34084a" stroke-width="1.2" opacity="0.85"/>
<path d="M414.6 417.4l1.7 -1" stroke="#34084a" stroke-width="1.3" opacity="0.85"/>
<path d="M407.6 412.1l2.6 -0.1" stroke="#34084a" stroke-width="1.6" opacity="0.85"/>
<path d="M440.3 407.8l-0.5 -2.6" stroke="#44145a" stroke-width="1.1" opacity="0.85"/>
<path d="M473.1 468.5l2.7 -0.4" stroke="#34084a" stroke-width="1.2" opacity="0.85"/>
<path d="M410.6 465.9l0.3 -1.8" stroke="#34084a" stroke-width="1.6" opacity="0.85"/>
<path d="M440.3 432l0.2 -1.9" stroke="#44145a" stroke-width="1.2" opacity="0.85"/>
<path d="M433.9 424.6l-0.1 -1.3" stroke="#44145a" stroke-width="1.5" opacity="0.85"/>
<path d="M472.5 442.5l2.2 0.5" stroke="#44145a" stroke-width="1.4" opacity="0.85"/>
<path d="M388.6 437.4l2.5 -1.3" stroke="#44145a" stroke-width="1.2" opacity="0.85"/>
<path d="M396.5 412.3l2.1 0.7" stroke="#34084a" stroke-width="1.6" opacity="0.85"/>
<path d="M475.6 415.9l1.6 1.7" stroke="#44145a" stroke-width="1.6" opacity="0.85"/>
<path d="M432.5 478.2l1 -1.6" stroke="#44145a" stroke-width="1.6" opacity="0.85"/>
<path d="M436.8 413.1l-0.9 1" stroke="#34084a" stroke-width="1.4" opacity="0.85"/>
<path d="M462 438.8l1.3 0.4" stroke="#44145a" stroke-width="1.3" opacity="0.85"/>
<path d="M455 456.3l-0.8 1.8" stroke="#34084a" stroke-width="1.5" opacity="0.85"/>
<path d="M473.5 444.5l1.6 0.2" stroke="#34084a" stroke-width="1.6" opacity="0.85"/>
<path d="M393.1 460l0.5 -1.2" stroke="#34084a" stroke-width="1.2" opacity="0.85"/>
<path d="M404.3 418.2l1.2 -0.2" stroke="#44145a" stroke-width="1.6" opacity="0.85"/>
<path d="M443.7 422.6l0.2 -2.7" stroke="#44145a" stroke-width="1.5" opacity="0.85"/>
<path d="M459 444.9l1.4 0.5" stroke="#34084a" stroke-width="1.5" opacity="0.85"/>
<path d="M482.7 445.9l1.5 1.6" stroke="#34084a" stroke-width="1.3" opacity="0.85"/>
<path d="M463.6 446.6l1.3 0.3" stroke="#34084a" stroke-width="1.2" opacity="0.85"/>
<path d="M402.3 470.5l1.5 -1.6" stroke="#34084a" stroke-width="1.5" opacity="0.85"/>
<path d="M446 474.4l1.2 -1.7" stroke="#44145a" stroke-width="1.3" opacity="0.85"/>
<path d="M486.3 431.4l1.7 2" stroke="#34084a" stroke-width="1.5" opacity="0.85"/>
<path d="M440.3 442.8l0.7 -1.9" stroke="#34084a" stroke-width="1.5" opacity="0.85"/>
<path d="M432.8 476.3l-0.1 -2.3" stroke="#34084a" stroke-width="1.5" opacity="0.85"/>
<path d="M383.2 453.6l1.6 -1.7" stroke="#44145a" stroke-width="1.5" opacity="0.85"/>
<path d="M436.3 443.2l0.4 -1.6" stroke="#44145a" stroke-width="1.2" opacity="0.85"/>
<path d="M459.7 455.9l1.3 2.4" stroke="#44145a" stroke-width="1.7" opacity="0.85"/>
<path d="M398.9 436.2l1.5 -0.8" stroke="#34084a" stroke-width="1.6" opacity="0.85"/>
<path d="M447 451.8l-0.7 -2.2" stroke="#34084a" stroke-width="1.4" opacity="0.85"/>
<path d="M413.5 404l2.1 1.3" stroke="#34084a" stroke-width="1.2" opacity="0.85"/>
<path d="M429.9 451.6l0.8 -1.2" stroke="#44145a" stroke-width="1.3" opacity="0.85"/>
<path d="M383.8 446.1l-0.3 -1.5" stroke="#44145a" stroke-width="1.7" opacity="0.85"/>
<path d="M479.3 419.7l1 1.7" stroke="#34084a" stroke-width="1.4" opacity="0.85"/>
<path d="M446.6 424l-0.3 -1.9" stroke="#34084a" stroke-width="1.6" opacity="0.85"/>
<path d="M407.4 476.3l1.5 0.8" stroke="#44145a" stroke-width="1.3" opacity="0.85"/>
<path d="M447 451.2l0.1 -2.8" stroke="#44145a" stroke-width="1.3" opacity="0.85"/>
<path d="M444.8 442.7l-1.9 -0.9" stroke="#34084a" stroke-width="1.7" opacity="0.85"/>
<path d="M411.5 405.5l1.4 -1.4" stroke="#34084a" stroke-width="1.6" opacity="0.85"/>
<path d="M447.7 458.5l0.7 -1.2" stroke="#34084a" stroke-width="1.1" opacity="0.85"/>
<path d="M458.3 433.5l1.2 0.9" stroke="#44145a" stroke-width="1.2" opacity="0.85"/>
<path d="M411.3 447.7l1.2 -1" stroke="#44145a" stroke-width="1.2" opacity="0.85"/>
<path d="M430.6 441.7l0.9 -1" stroke="#34084a" stroke-width="1.5" opacity="0.85"/>
<path d="M472.6 410.4l0.9 0.9" stroke="#44145a" stroke-width="1.6" opacity="0.85"/>
<path d="M472.7 444.6l2.3 0.2" stroke="#44145a" stroke-width="1.2" opacity="0.85"/>
<path d="M393.5 412.7l1.2 -0.9" stroke="#44145a" stroke-width="1.4" opacity="0.85"/>
<path d="M416.6 434.3l1.9 -1.7" stroke="#34084a" stroke-width="1.6" opacity="0.85"/>
<path d="M463.5 402.6l1.8 0.9" stroke="#44145a" stroke-width="1.2" opacity="0.85"/>
<path d="M439.8 443.2l0.6 -2.3" stroke="#44145a" stroke-width="1.4" opacity="0.85"/>
<path d="M390.2 429.9l2.5 -0.8" stroke="#34084a" stroke-width="1.3" opacity="0.85"/>
<path d="M441.3 426.6l1 -2.2" stroke="#34084a" stroke-width="1.4" opacity="0.85"/>
<path d="M387.6 461.4l0.8 -1.4" stroke="#34084a" stroke-width="1.6" opacity="0.85"/>
<path d="M443 417.4l0.2 -1.5" stroke="#44145a" stroke-width="1.6" opacity="0.85"/>
<path d="M437.4 448.3l1.9 -1.1" stroke="#44145a" stroke-width="1.4" opacity="0.85"/>
<path d="M441.6 422.4l-0.8 -2.1" stroke="#34084a" stroke-width="1.2" opacity="0.85"/>
<path d="M441 449.4l-0.2 -1.6" stroke="#34084a" stroke-width="1.3" opacity="0.85"/>
<path d="M415.4 466.2l1.6 -1.4" stroke="#44145a" stroke-width="1.4" opacity="0.85"/>
<path d="M439.6 463.6l0.5 -2.8" stroke="#44145a" stroke-width="1.1" opacity="0.85"/>
<path d="M398.5 474.7l2 -1" stroke="#34084a" stroke-width="1.4" opacity="0.85"/>
<path d="M452.7 472l0.6 2.4" stroke="#44145a" stroke-width="1.7" opacity="0.85"/>
<path d="M437.6 460.6l0.8 -2.5" stroke="#44145a" stroke-width="1.3" opacity="0.85"/>
<path d="M388.1 475l-0.1 -1.5" stroke="#34084a" stroke-width="1.6" opacity="0.85"/>
<path d="M419.5 447l1.4 -0.8" stroke="#34084a" stroke-width="1.2" opacity="0.85"/>
<path d="M468.7 412.7l1.5 0.9" stroke="#44145a" stroke-width="1.5" opacity="0.85"/>
<path d="M403.1 435.3l1.3 0.3" stroke="#44145a" stroke-width="1.2" opacity="0.85"/>
<path d="M420.6 414.6l1.3 0.3" stroke="#44145a" stroke-width="1.6" opacity="0.85"/>
<path d="M479.2 418l1.9 0.5" stroke="#44145a" stroke-width="1.3" opacity="0.85"/>
<path d="M389.7 431l1.5 -1.6" stroke="#44145a" stroke-width="1.1" opacity="0.85"/>
<path d="M433.9 467.1l0.5 -1.4" stroke="#34084a" stroke-width="1.5" opacity="0.85"/>
<path d="M454.3 413.9l2.2 0.9" stroke="#44145a" stroke-width="1.2" opacity="0.85"/>
<path d="M449.3 430.2l-0.3 1.8" stroke="#44145a" stroke-width="1.5" opacity="0.85"/>
<path d="M390.7 413.3l1.7 -0.2" stroke="#44145a" stroke-width="1.6" opacity="0.85"/>
<path d="M393.7 435.7l1.2 -0.8" stroke="#44145a" stroke-width="1.1" opacity="0.85"/>
<path d="M447 439.7l-1.3 -1.8" stroke="#34084a" stroke-width="1.4" opacity="0.85"/>
<path d="M466.2 431.7l1.3 0.9" stroke="#44145a" stroke-width="1.3" opacity="0.85"/>
<path d="M414.6 479.5l0.9 -2.3" stroke="#44145a" stroke-width="1.6" opacity="0.85"/>
<path d="M392.5 471.7l1.9 -1.2" stroke="#44145a" stroke-width="1.6" opacity="0.85"/>
<path d="M428.8 443l-1.2 -1" stroke="#34084a" stroke-width="1.5" opacity="0.85"/>
<path d="M463.4 426.9l1.3 1.5" stroke="#44145a" stroke-width="1.5" opacity="0.85"/>
<path d="M424.6 460.8l0.4 -1.9" stroke="#34084a" stroke-width="1.3" opacity="0.85"/>
<path d="M436.4 434.4l1 -1.1" stroke="#34084a" stroke-width="1.6" opacity="0.85"/>
<path d="M470.6 456.1l2.6 0.6" stroke="#34084a" stroke-width="1.4" opacity="0.85"/>
<path d="M430.8 415.2l1.5 -0.2" stroke="#34084a" stroke-width="1.2" opacity="0.85"/>
<path d="M477.1 406.7l2.2 0.8" stroke="#44145a" stroke-width="1.5" opacity="0.85"/>
<path d="M440 476.9l0.6 -2.4" stroke="#44145a" stroke-width="1.7" opacity="0.85"/>
<path d="M396 460.2l-0.9 -2.3" stroke="#34084a" stroke-width="1.5" opacity="0.85"/>
<path d="M442.4 451l0.4 -1.3" stroke="#34084a" stroke-width="1.5" opacity="0.85"/>
<path d="M424 464.5l-0.6 -1.9" stroke="#44145a" stroke-width="1.6" opacity="0.85"/>
<path d="M460.2 430.3l1.3 1.4" stroke="#44145a" stroke-width="1.2" opacity="0.85"/>
<path d="M441.6 409l2.2 -0.1" stroke="#44145a" stroke-width="1.6" opacity="0.85"/>
<path d="M448 476.5l0.6 -2.3" stroke="#34084a" stroke-width="1.6" opacity="0.85"/>
<path d="M482.7 403.6l2 1.6" stroke="#44145a" stroke-width="1.5" opacity="0.85"/>
<path d="M440.1 408.9l0.1 -2" stroke="#34084a" stroke-width="1.3" opacity="0.85"/>
<path d="M441.6 446.8l-0 -2" stroke="#44145a" stroke-width="1.7" opacity="0.85"/>
<path d="M447.8 461.3l-0.5 -1.6" stroke="#44145a" stroke-width="1.1" opacity="0.85"/>
<path d="M449 411.6l0.1 1.3" stroke="#44145a" stroke-width="1.5" opacity="0.85"/>
<path d="M471.7 438.6l1 2.6" stroke="#44145a" stroke-width="1.2" opacity="0.85"/>
<path d="M475.2 423.8l-0.7 2.7" stroke="#34084a" stroke-width="1.3" opacity="0.85"/>
<path d="M385.8 473.3l-0.1 -2.3" stroke="#34084a" stroke-width="1.1" opacity="0.85"/>
<path d="M459.4 437.9l2.2 -0.1" stroke="#44145a" stroke-width="1.6" opacity="0.85"/>
<path d="M436.5 463l-0.1 -2.1" stroke="#34084a" stroke-width="1.2" opacity="0.85"/>
<path d="M444.7 433.5l0.1 -2.4" stroke="#44145a" stroke-width="1.5" opacity="0.85"/>
<path d="M393.5 473.5l1.2 -1.8" stroke="#44145a" stroke-width="1.5" opacity="0.85"/>
<path d="M398.4 463.6l0.9 -2.6" stroke="#44145a" stroke-width="1.1" opacity="0.85"/>
<path d="M448.5 416.9l-0.2 1.2" stroke="#34084a" stroke-width="1.4" opacity="0.85"/>
<path d="M444.9 441l-0.4 -1.8" stroke="#44145a" stroke-width="1.6" opacity="0.85"/>
<path d="M392.5 472.4l1.3 -1.3" stroke="#44145a" stroke-width="1.1" opacity="0.85"/>
<path d="M401.5 450l1.6 -2.2" stroke="#34084a" stroke-width="1.3" opacity="0.85"/>
<path d="M442 442.3l0.5 -2.7" stroke="#44145a" stroke-width="1.3" opacity="0.85"/>
<path d="M391.7 407.5l0.8 -1.1" stroke="#44145a" stroke-width="1.6" opacity="0.85"/>
<path d="M448 402.6l1.6 0.8" stroke="#34084a" stroke-width="1.3" opacity="0.85"/>
<path d="M470.1 438.8l2.1 0.4" stroke="#44145a" stroke-width="1.3" opacity="0.85"/>
<path d="M419.5 415.3l1.2 0.7" stroke="#44145a" stroke-width="1.5" opacity="0.85"/>
<path d="M432.7 463.7l1.5 -1.4" stroke="#44145a" stroke-width="1.2" opacity="0.85"/>
<path d="M453 443l-0.8 2.6" stroke="#34084a" stroke-width="1.3" opacity="0.85"/>
<path d="M389.4 447.2l0.8 -1.6" stroke="#44145a" stroke-width="1.4" opacity="0.85"/>
<path d="M425 454.8l-0.3 -1.4" stroke="#44145a" stroke-width="1.5" opacity="0.85"/>
<path d="M447.6 439.5l-0.1 2.8" stroke="#44145a" stroke-width="1.6" opacity="0.85"/>
<path d="M486 405.8l1.9 -0.9" stroke="#44145a" stroke-width="1.6" opacity="0.85"/>
<path d="M476.4 414.4l2.4 0.9" stroke="#34084a" stroke-width="1.5" opacity="0.85"/>
<path d="M395.9 404.8l2 -0.5" stroke="#34084a" stroke-width="1.3" opacity="0.85"/>
<path d="M463.1 473l0.9 0.7" stroke="#7a2a8a" stroke-width="1.2" opacity="0.8"/>
<path d="M459.7 427.1l2.4 -0.8" stroke="#7a2a8a" stroke-width="1" opacity="0.8"/>
<path d="M442.1 428.8l0.8 -1" stroke="#7a2a8a" stroke-width="0.9" opacity="0.8"/>
<path d="M470.1 408l1.3 0.5" stroke="#7a2a8a" stroke-width="0.9" opacity="0.8"/>
<path d="M464.3 407.4l2.4 0.5" stroke="#7a2a8a" stroke-width="1.3" opacity="0.8"/>
<path d="M474.3 440.3l1.1 1.4" stroke="#6a2080" stroke-width="1.3" opacity="0.8"/>
<path d="M401.4 418.9l1.7 0.2" stroke="#b858b0" stroke-width="1.3" opacity="0.8"/>
<path d="M445.7 412l-1.1 -1" stroke="#34084a" stroke-width="1.2" opacity="0.8"/>
<path d="M393.5 419.7l0.8 -2.4" stroke="#b858b0" stroke-width="1.2" opacity="0.8"/>
<path d="M477.8 449.8l2.5 0" stroke="#b858b0" stroke-width="1" opacity="0.8"/>
<path d="M454.1 419.9l1.3 -1.8" stroke="#6a2080" stroke-width="1.3" opacity="0.8"/>
<path d="M400.6 435.9l1 0.5" stroke="#44145a" stroke-width="1.2" opacity="0.8"/>
<path d="M389.5 465.4l-0.2 -2" stroke="#b858b0" stroke-width="1.1" opacity="0.8"/>
<path d="M437.1 409l1.1 2" stroke="#34084a" stroke-width="1.3" opacity="0.8"/>
<path d="M482.5 433.4l0.8 0.8" stroke="#34084a" stroke-width="1.2" opacity="0.8"/>
<path d="M440.7 452.1l-1.4 -2" stroke="#a848a8" stroke-width="1.1" opacity="0.8"/>
<path d="M436.1 423.7l-0.2 -2.2" stroke="#34084a" stroke-width="0.9" opacity="0.8"/>
<path d="M466.7 436.4l2.3 -0.3" stroke="#b858b0" stroke-width="1.1" opacity="0.8"/>
<path d="M469.6 462.5l0.9 1.5" stroke="#7a2a8a" stroke-width="1" opacity="0.8"/>
<path d="M415.3 429.8l1 -0.9" stroke="#34084a" stroke-width="1.2" opacity="0.8"/>
<path d="M407.9 465.4l1.9 -0.8" stroke="#44145a" stroke-width="1.3" opacity="0.8"/>
<path d="M400.5 418.2l0.3 1.5" stroke="#6a2080" stroke-width="1.2" opacity="0.8"/>
<path d="M404.9 467.7l0.2 -1.1" stroke="#a848a8" stroke-width="0.9" opacity="0.8"/>
<path d="M418.7 448.7l-0.1 -1" stroke="#903898" stroke-width="1.2" opacity="0.8"/>
<path d="M417.4 417.4l2 1.3" stroke="#903898" stroke-width="1" opacity="0.8"/>
<path d="M397 415.4l0.3 -1.5" stroke="#34084a" stroke-width="1.3" opacity="0.8"/>
<path d="M480.6 472l1.6 1.2" stroke="#34084a" stroke-width="1" opacity="0.8"/>
<path d="M413.6 418.6l1.9 -0.6" stroke="#34084a" stroke-width="1.2" opacity="0.8"/>
<path d="M481.7 447.9l0.7 0.8" stroke="#6a2080" stroke-width="1" opacity="0.8"/>
<path d="M451.8 473.6l-0.7 2" stroke="#7a2a8a" stroke-width="1.1" opacity="0.8"/>
<path d="M440.2 440.3l-1.4 -1.2" stroke="#6a2080" stroke-width="1.4" opacity="0.8"/>
<path d="M411.2 470.3l1.1 -1.9" stroke="#6a2080" stroke-width="1.3" opacity="0.8"/>
<path d="M425.8 407.3l1.1 -2.3" stroke="#903898" stroke-width="1.3" opacity="0.8"/>
<path d="M460.5 467l1.1 -2.1" stroke="#b858b0" stroke-width="1.1" opacity="0.8"/>
<path d="M448.5 441.2l-2.1 -1" stroke="#6a2080" stroke-width="1.1" opacity="0.8"/>
<path d="M412.8 458.2l-0.8 -0.8" stroke="#b858b0" stroke-width="1.4" opacity="0.8"/>
<path d="M482.4 431.3l1.2 -1.5" stroke="#903898" stroke-width="1" opacity="0.8"/>
<path d="M421 460.2l2 0.8" stroke="#903898" stroke-width="1.2" opacity="0.8"/>
<path d="M452.9 431.5l1.6 0.1" stroke="#6a2080" stroke-width="1" opacity="0.8"/>
<path d="M454.9 420.8l1 0.3" stroke="#6a2080" stroke-width="1.3" opacity="0.8"/>
<path d="M413.6 460.1l-0.9 -1.7" stroke="#6a2080" stroke-width="1.4" opacity="0.8"/>
<path d="M454.3 437.7l2.5 0.4" stroke="#903898" stroke-width="1.2" opacity="0.8"/>
<path d="M405.9 433.9l1.4 0.5" stroke="#6a2080" stroke-width="1.1" opacity="0.8"/>
<path d="M407.7 473l1.3 -0.8" stroke="#34084a" stroke-width="1.1" opacity="0.8"/>
<path d="M456.6 409.3l1.2 1.9" stroke="#44145a" stroke-width="1.4" opacity="0.8"/>
<path d="M395.6 443.8l0.5 -1.5" stroke="#7a2a8a" stroke-width="1.4" opacity="0.8"/>
<path d="M399.4 469.4l1.5 -0.8" stroke="#a848a8" stroke-width="0.9" opacity="0.8"/>
<path d="M435.4 435.1l1.9 -1.5" stroke="#44145a" stroke-width="0.9" opacity="0.8"/>
<path d="M430.7 461.5l1.8 -1.4" stroke="#7a2a8a" stroke-width="0.9" opacity="0.8"/>
<path d="M397.7 445.2l-1.2 -1.8" stroke="#7a2a8a" stroke-width="1.1" opacity="0.8"/>
<path d="M410.6 455.8l1.8 0.1" stroke="#44145a" stroke-width="1" opacity="0.8"/>
<path d="M431.7 407.9l1.2 1.4" stroke="#a848a8" stroke-width="1.3" opacity="0.8"/>
<path d="M466 444.6l2.4 -0.9" stroke="#34084a" stroke-width="1.4" opacity="0.8"/>
<path d="M471.3 459.3l1.9 -0.1" stroke="#6a2080" stroke-width="1.3" opacity="0.8"/>
<path d="M454.5 447.9l-0.1 1.1" stroke="#b858b0" stroke-width="1.1" opacity="0.8"/>
<path d="M420.3 411.6l0.7 1.3" stroke="#7a2a8a" stroke-width="1" opacity="0.8"/>
<path d="M477.1 430.5l1.2 0.7" stroke="#34084a" stroke-width="1.2" opacity="0.8"/>
<path d="M423.1 469.9l0.5 -1.7" stroke="#44145a" stroke-width="1.3" opacity="0.8"/>
<path d="M475.8 415l0.2 2.4" stroke="#a848a8" stroke-width="1" opacity="0.8"/>
<path d="M389.6 430.4l2.4 0.9" stroke="#a848a8" stroke-width="1.1" opacity="0.8"/>
<path d="M440.4 456.1l1.7 -1.5" stroke="#b858b0" stroke-width="1" opacity="0.8"/>
<path d="M413.6 426l1.3 0.2" stroke="#34084a" stroke-width="1.2" opacity="0.8"/>
<path d="M434.2 467.6l1.7 -0.7" stroke="#b858b0" stroke-width="1.4" opacity="0.8"/>
<path d="M407.2 441l0.9 0.4" stroke="#34084a" stroke-width="1.2" opacity="0.8"/>
<path d="M466.8 437.2l0.9 0.6" stroke="#34084a" stroke-width="1.3" opacity="0.8"/>
<path d="M399.5 472.8l0.2 -2.6" stroke="#44145a" stroke-width="1.4" opacity="0.8"/>
<path d="M440.1 406.4l1.4 -0.3" stroke="#903898" stroke-width="1.3" opacity="0.8"/>
<path d="M476.7 463.6l-0.7 1.3" stroke="#a848a8" stroke-width="1.3" opacity="0.8"/>
<path d="M473.3 473.9l1.3 -1.8" stroke="#7a2a8a" stroke-width="1.3" opacity="0.8"/>
<path d="M481.4 436.3l1 0.3" stroke="#7a2a8a" stroke-width="1" opacity="0.8"/>
<path d="M470.4 455.4l1.5 -0.9" stroke="#6a2080" stroke-width="1.4" opacity="0.8"/>
<path d="M478.8 466.5l0.6 1.6" stroke="#34084a" stroke-width="0.9" opacity="0.8"/>
<path d="M468.5 406.3l1 1.1" stroke="#44145a" stroke-width="1.1" opacity="0.8"/>
<path d="M469.4 408.1l1.4 1.5" stroke="#6a2080" stroke-width="1.3" opacity="0.8"/>
<path d="M425.2 460.8l2.2 -0.2" stroke="#6a2080" stroke-width="1.4" opacity="0.8"/>
<path d="M463.6 462.1l1.6 1.4" stroke="#6a2080" stroke-width="0.9" opacity="0.8"/>
<path d="M420.5 474.7l0.1 -2.5" stroke="#44145a" stroke-width="1.3" opacity="0.8"/>
<path d="M459.9 417.8l0.8 -1" stroke="#b858b0" stroke-width="1.2" opacity="0.8"/>
<path d="M478 438.8l2.5 0.5" stroke="#7a2a8a" stroke-width="1.1" opacity="0.8"/>
<path d="M454.3 442.9l1.2 2.1" stroke="#903898" stroke-width="1.1" opacity="0.8"/>
<path d="M464.2 470.4l0.5 -1.1" stroke="#b858b0" stroke-width="1.2" opacity="0.8"/>
<path d="M389.7 457.2l0.2 -2.5" stroke="#b858b0" stroke-width="1.1" opacity="0.8"/>
<path d="M450.5 469l-0.1 -1.9" stroke="#6a2080" stroke-width="1.1" opacity="0.8"/>
<path d="M402.4 421.9l2.3 -0.1" stroke="#34084a" stroke-width="0.9" opacity="0.8"/>
<path d="M432.1 413.4l1.8 0.8" stroke="#44145a" stroke-width="1" opacity="0.8"/>
<path d="M422.8 459.6l-1.4 -1.5" stroke="#903898" stroke-width="0.9" opacity="0.8"/>
<path d="M447.1 452.7l1.1 -0.9" stroke="#a848a8" stroke-width="1.1" opacity="0.8"/>
<path d="M466.4 453l1.3 0" stroke="#a848a8" stroke-width="1" opacity="0.8"/>
<path d="M406.4 466.7l1.3 -1.5" stroke="#903898" stroke-width="1.1" opacity="0.8"/>
<path d="M459 439.4l0.3 2.5" stroke="#7a2a8a" stroke-width="1.2" opacity="0.8"/>
<path d="M468.4 463.8l0.1 2.3" stroke="#44145a" stroke-width="1.3" opacity="0.8"/>
<path d="M461.2 420.2l1.6 0.1" stroke="#903898" stroke-width="1" opacity="0.8"/>
<path d="M411.7 426.2l2.4 0.1" stroke="#44145a" stroke-width="1" opacity="0.8"/>
<path d="M422.7 411.6l1.6 0.4" stroke="#903898" stroke-width="1.1" opacity="0.8"/>
<path d="M425.8 429.5l1 -0.6" stroke="#7a2a8a" stroke-width="1.1" opacity="0.8"/>
<path d="M426.3 440.3l1.6 -0.4" stroke="#b858b0" stroke-width="1.2" opacity="0.8"/>
<path d="M387.6 419.3l0.9 1.6" stroke="#44145a" stroke-width="1.3" opacity="0.8"/>
<path d="M479.1 457.1l2 0.3" stroke="#34084a" stroke-width="1.2" opacity="0.8"/>
<path d="M444.4 438.6l0.5 -2.1" stroke="#34084a" stroke-width="1.1" opacity="0.8"/>
<path d="M440.6 473.3l-1 -0.4" stroke="#a848a8" stroke-width="1.1" opacity="0.8"/>
<path d="M439.5 415.9l1.8 -1.7" stroke="#6a2080" stroke-width="1.1" opacity="0.8"/>
<path d="M458.9 443.9l1.3 0.6" stroke="#44145a" stroke-width="1.4" opacity="0.8"/>
<path d="M420.5 436.1l0.5 -2.1" stroke="#b858b0" stroke-width="0.9" opacity="0.8"/>
<path d="M436.2 426.3l1.2 -0.4" stroke="#6a2080" stroke-width="1.1" opacity="0.8"/>
<path d="M416.9 418.4l2 1.6" stroke="#a848a8" stroke-width="1.4" opacity="0.8"/>
<path d="M474.2 463l0.9 1" stroke="#7a2a8a" stroke-width="1.4" opacity="0.8"/>
<path d="M434.8 444.8l1.2 -0.7" stroke="#b858b0" stroke-width="1.1" opacity="0.8"/>
<path d="M416.3 423.8l1.7 -0.2" stroke="#6a2080" stroke-width="0.9" opacity="0.8"/>
<path d="M450.8 412.3l1.7 0.6" stroke="#7a2a8a" stroke-width="1" opacity="0.8"/>
<path d="M463.3 416.2l1.7 -0.1" stroke="#a848a8" stroke-width="1.3" opacity="0.8"/>
<path d="M449 449.5l0.4 2.2" stroke="#903898" stroke-width="1.1" opacity="0.8"/>
<path d="M388.4 448.9l0.8 -0.7" stroke="#7a2a8a" stroke-width="1.3" opacity="0.8"/>
<path d="M475 421.1l1 0.7" stroke="#a848a8" stroke-width="1.2" opacity="0.8"/>
<path d="M462.4 424l2.4 0.7" stroke="#903898" stroke-width="1" opacity="0.8"/>
<path d="M461.5 455l1.5 1.5" stroke="#903898" stroke-width="1.3" opacity="0.8"/>
<path d="M434 411l1.1 0.1" stroke="#6a2080" stroke-width="0.9" opacity="0.8"/>
<path d="M478.8 425.8l1.7 0.4" stroke="#44145a" stroke-width="1.1" opacity="0.8"/>
<path d="M448.1 430.4l0.9 1.2" stroke="#7a2a8a" stroke-width="1" opacity="0.8"/>
<path d="M429.8 446.5l0.8 -1.2" stroke="#34084a" stroke-width="1.4" opacity="0.8"/>
<path d="M392.8 422.5l1 0.9" stroke="#7a2a8a" stroke-width="1.3" opacity="0.8"/>
<path d="M467.5 407.8l1.3 0.5" stroke="#a848a8" stroke-width="1.4" opacity="0.8"/>
<path d="M405.4 457.8l-0.4 -2.3" stroke="#34084a" stroke-width="1" opacity="0.8"/>
<path d="M433.3 439l-0.1 -1.3" stroke="#b858b0" stroke-width="1.2" opacity="0.8"/>
<path d="M430 406L429 430L426 448" stroke="#6a2078" stroke-width="1.6" fill="none" opacity="0.7"/>
<path d="M432 406L431 428L429 446" stroke="#8a3090" stroke-width="1.2" fill="none" opacity="0.6"/>
<path d="M396 449l2 6" stroke="#2a0a3a" stroke-width="3"/>
</g></g>
<rect x="388.6" y="406.6" width="94.3" height="67.8" fill="none" stroke="#000" stroke-width="1.4"/>
<clipPath id="cp2"><rect x="491.5" y="406" width="95" height="69"/></clipPath>
<g clip-path="url(#cp2)"><g filter="url(#bl)" stroke-linecap="round">
<rect x="489.5" y="404" width="99" height="73" fill="#fff"/>
<path d="M577.1 404.7l19.6 17.1" stroke="#c868b0" stroke-width="3" opacity="0.5"/>
<path d="M566.2 404.3l6.7 8.5" stroke="#c868b0" stroke-width="4.9" opacity="0.5"/>
<path d="M537.1 422.5l22.5 7.2" stroke="#b85aa8" stroke-width="4" opacity="0.5"/>
<path d="M540.9 450.6l10 10" stroke="#d080c0" stroke-width="4.9" opacity="0.5"/>
<path d="M530.8 419.8l19.5 7.9" stroke="#d080c0" stroke-width="3.6" opacity="0.5"/>
<path d="M576.5 436.5l13.9 9" stroke="#c868b0" stroke-width="4.2" opacity="0.5"/>
<path d="M513.8 425.5l10 10.8" stroke="#b85aa8" stroke-width="4" opacity="0.5"/>
<path d="M573.8 429.9l13.7 10.2" stroke="#d080c0" stroke-width="2.7" opacity="0.5"/>
<path d="M488.8 472l8.1 -11.2" stroke="#d080c0" stroke-width="2.5" opacity="0.5"/>
<path d="M536.8 425.6l14.1 6.9" stroke="#c868b0" stroke-width="3" opacity="0.5"/>
<path d="M557.6 450.6l12.7 3.4" stroke="#c868b0" stroke-width="2.8" opacity="0.5"/>
<path d="M567.4 434.7l15.7 11.4" stroke="#b85aa8" stroke-width="5" opacity="0.5"/>
<path d="M566.9 433.8l19 9.8" stroke="#c868b0" stroke-width="4.9" opacity="0.5"/>
<path d="M578.9 396.1l12.8 15.6" stroke="#c868b0" stroke-width="3.4" opacity="0.5"/>
<path d="M546.8 444.9l11.4 6" stroke="#c868b0" stroke-width="2.7" opacity="0.5"/>
<path d="M499.5 417.3l12.3 12.5" stroke="#d080c0" stroke-width="3" opacity="0.5"/>
<path d="M495.4 476.8l7.3 -10.6" stroke="#b85aa8" stroke-width="3.1" opacity="0.5"/>
<path d="M528.1 427.3l19.7 8.6" stroke="#c868b0" stroke-width="3.7" opacity="0.5"/>
<path d="M574.7 436.9l18.6 17.2" stroke="#c868b0" stroke-width="3.3" opacity="0.5"/>
<path d="M485.2 448.9l11.8 -18.9" stroke="#b85aa8" stroke-width="2.5" opacity="0.5"/>
<path d="M565.1 431.4l13 11.1" stroke="#d080c0" stroke-width="3.6" opacity="0.5"/>
<path d="M562.8 399.5l18.8 7.5" stroke="#b85aa8" stroke-width="2.9" opacity="0.5"/>
<path d="M534.7 414.1l11.3 5.4" stroke="#b85aa8" stroke-width="4.6" opacity="0.5"/>
<path d="M496.7 449.9l8.5 -12.9" stroke="#c868b0" stroke-width="4.7" opacity="0.5"/>
<path d="M521.6 449.4l11.1 5.9" stroke="#d080c0" stroke-width="2.6" opacity="0.5"/>
<path d="M534.1 464.5l14.9 5.2" stroke="#c868b0" stroke-width="4.9" opacity="0.5"/>
<path d="M530.1 456.3l23.5 9" stroke="#b85aa8" stroke-width="4.2" opacity="0.5"/>
<path d="M485.7 406.5l16.1 19.1" stroke="#d080c0" stroke-width="4.8" opacity="0.5"/>
<path d="M539.7 440l14.3 4.9" stroke="#b85aa8" stroke-width="4.2" opacity="0.5"/>
<path d="M535.5 473.1l9.4 3.5" stroke="#c868b0" stroke-width="3.1" opacity="0.5"/>
<path d="M576.9 421.6l13.3 7.1" stroke="#d080c0" stroke-width="2.8" opacity="0.5"/>
<path d="M502.2 418.2l2.5 12" stroke="#c868b0" stroke-width="3.5" opacity="0.5"/>
<path d="M534.1 416.4l12.7 5.4" stroke="#c868b0" stroke-width="3.3" opacity="0.5"/>
<path d="M506.3 409.4l11.9 9.5" stroke="#d080c0" stroke-width="2.9" opacity="0.5"/>
<path d="M486.9 438.4l14.1 -20.2" stroke="#d080c0" stroke-width="4" opacity="0.5"/>
<path d="M520.7 415l24 6.9" stroke="#d080c0" stroke-width="2.8" opacity="0.5"/>
<path d="M554.4 406.1l22.1 4.9" stroke="#c868b0" stroke-width="3.2" opacity="0.5"/>
<path d="M537.9 422.4l20 6.4" stroke="#d080c0" stroke-width="4.8" opacity="0.5"/>
<path d="M555.8 428.8l16.1 15.6" stroke="#d080c0" stroke-width="4.2" opacity="0.5"/>
<path d="M502.6 437.1l15.4 11.3" stroke="#c868b0" stroke-width="4" opacity="0.5"/>
<path d="M540.1 416.2l20.9 9.4" stroke="#c868b0" stroke-width="5" opacity="0.5"/>
<path d="M525.3 410.1l9.8 4.4" stroke="#d080c0" stroke-width="4" opacity="0.5"/>
<path d="M534.6 470l10.8 4.4" stroke="#b85aa8" stroke-width="3.8" opacity="0.5"/>
<path d="M521.4 459l23 9.9" stroke="#c868b0" stroke-width="3.8" opacity="0.5"/>
<path d="M555.3 418.8l10.4 7.3" stroke="#b85aa8" stroke-width="4.3" opacity="0.5"/>
<path d="M524.5 432.7l17.4 8.1" stroke="#c868b0" stroke-width="3.1" opacity="0.5"/>
<path d="M558.8 445.5l11.5 10.8" stroke="#b85aa8" stroke-width="2.5" opacity="0.5"/>
<path d="M542.7 422.7l18.9 10.7" stroke="#d080c0" stroke-width="3.1" opacity="0.5"/>
<path d="M507.6 443.1l13.4 5.3" stroke="#d080c0" stroke-width="4.3" opacity="0.5"/>
<path d="M575.8 451.8l10.9 6.2" stroke="#c868b0" stroke-width="4.9" opacity="0.5"/>
<path d="M524.9 427.7l18.2 8.1" stroke="#d080c0" stroke-width="4.6" opacity="0.5"/>
<path d="M585.8 407l10.7 7.8" stroke="#c868b0" stroke-width="3.5" opacity="0.5"/>
<path d="M528.6 413.6l11.4 3" stroke="#b85aa8" stroke-width="3.2" opacity="0.5"/>
<path d="M512.8 447.8l12.1 10.3" stroke="#d080c0" stroke-width="2.7" opacity="0.5"/>
<path d="M583.8 409.3l9.6 8" stroke="#d080c0" stroke-width="4.5" opacity="0.5"/>
<path d="M529.3 445.5l10.9 7.1" stroke="#b85aa8" stroke-width="3" opacity="0.5"/>
<path d="M496.3 435.4l5.5 -12.5" stroke="#d080c0" stroke-width="3.4" opacity="0.5"/>
<path d="M571.8 459.5l20.4 4.7" stroke="#d080c0" stroke-width="2.8" opacity="0.5"/>
<path d="M513.6 474l19.1 8" stroke="#b85aa8" stroke-width="4.2" opacity="0.5"/>
<path d="M499.9 405.4l17.9 18" stroke="#c868b0" stroke-width="4.8" opacity="0.5"/>
<path d="M508.5 403.2l17.8 16.8" stroke="#c868b0" stroke-width="4.4" opacity="0.5"/>
<path d="M532.9 433.9l9.5 7.6" stroke="#c868b0" stroke-width="3.8" opacity="0.5"/>
<path d="M501.2 418.4l7.6 8.5" stroke="#d080c0" stroke-width="4.4" opacity="0.5"/>
<path d="M529.7 419l19.4 2.4" stroke="#b85aa8" stroke-width="4.2" opacity="0.5"/>
<path d="M488 403.5l7 7.8" stroke="#b85aa8" stroke-width="4.9" opacity="0.5"/>
<path d="M525.3 463.6l10.9 4.5" stroke="#d080c0" stroke-width="3.7" opacity="0.5"/>
<path d="M522.5 418.7l10.2 5.4" stroke="#b85aa8" stroke-width="3.2" opacity="0.5"/>
<path d="M551.9 469.2l20.7 12.4" stroke="#c868b0" stroke-width="3.4" opacity="0.5"/>
<path d="M510.1 424.7l12.1 8.2" stroke="#c868b0" stroke-width="3.9" opacity="0.5"/>
<path d="M506.1 429.1l10.3 12.2" stroke="#d080c0" stroke-width="4.5" opacity="0.5"/>
<path d="M524.2 469.4l18.1 13.8" stroke="#c868b0" stroke-width="4.9" opacity="0.5"/>
<path d="M574.7 460.3l20 6.1" stroke="#d080c0" stroke-width="3.8" opacity="0.5"/>
<path d="M541.8 443.5l14.5 8.2" stroke="#d080c0" stroke-width="4.4" opacity="0.5"/>
<path d="M493.1 481.7l10 -11.9" stroke="#c868b0" stroke-width="4.4" opacity="0.5"/>
<path d="M485 415.4l5.6 12.2" stroke="#c868b0" stroke-width="3.5" opacity="0.5"/>
<path d="M505.1 423.8l18.4 12.3" stroke="#b85aa8" stroke-width="3.6" opacity="0.5"/>
<path d="M555.5 435.7l19.2 11.8" stroke="#c868b0" stroke-width="2.8" opacity="0.5"/>
<path d="M536.8 403.8l12.6 3.3" stroke="#c868b0" stroke-width="2.7" opacity="0.5"/>
<path d="M498.5 447.9l17.6 -12.5" stroke="#b85aa8" stroke-width="3.1" opacity="0.5"/>
<path d="M507.8 423.9l14.3 8.3" stroke="#d080c0" stroke-width="3.5" opacity="0.5"/>
<path d="M517.8 429.1l13 7.5" stroke="#d080c0" stroke-width="3.1" opacity="0.5"/>
<path d="M495.1 481.8l15.7 -18.4" stroke="#d080c0" stroke-width="5" opacity="0.5"/>
<path d="M535.9 457.9l11.2 2.6" stroke="#b85aa8" stroke-width="3.7" opacity="0.5"/>
<path d="M574.7 417l18.4 15.4" stroke="#b85aa8" stroke-width="2.5" opacity="0.5"/>
<path d="M536.2 443.3l10.3 9" stroke="#c868b0" stroke-width="2.7" opacity="0.5"/>
<path d="M505.1 405.8l19.7 9.9" stroke="#d080c0" stroke-width="3.2" opacity="0.5"/>
<path d="M539.4 464.8l12.2 2.9" stroke="#b85aa8" stroke-width="4.7" opacity="0.5"/>
<path d="M483.9 478.6l14.9 -19" stroke="#c868b0" stroke-width="4.3" opacity="0.5"/>
<path d="M553.3 420.6l21.3 14.1" stroke="#c868b0" stroke-width="4.3" opacity="0.5"/>
<path d="M496.4 450.1l21.9 -3.7" stroke="#d080c0" stroke-width="4" opacity="0.5"/>
<path d="M573 433.5l15.4 11.9" stroke="#b85aa8" stroke-width="4.6" opacity="0.5"/>
<path d="M528.9 416.6l20.7 5.7" stroke="#d080c0" stroke-width="3.2" opacity="0.5"/>
<path d="M503.8 419.8l18.1 11.8" stroke="#d080c0" stroke-width="3.1" opacity="0.5"/>
<path d="M493.5 465.9l11.2 -20.8" stroke="#b85aa8" stroke-width="3.7" opacity="0.5"/>
<path d="M482.6 458.2l14.7 -18.1" stroke="#c868b0" stroke-width="2.8" opacity="0.5"/>
<path d="M530.4 460.9l21 10.8" stroke="#b85aa8" stroke-width="3.6" opacity="0.5"/>
<path d="M567.2 466.7l14.5 2" stroke="#c868b0" stroke-width="3.8" opacity="0.5"/>
<path d="M572.5 455.9l18 9" stroke="#c868b0" stroke-width="4.5" opacity="0.5"/>
<path d="M505.8 437.7l9.4 6.2" stroke="#d080c0" stroke-width="4.8" opacity="0.5"/>
<path d="M516.1 437.4l14.2 2.9" stroke="#b85aa8" stroke-width="3.5" opacity="0.5"/>
<path d="M551.5 406.5l19.3 16.2" stroke="#b85aa8" stroke-width="3.1" opacity="0.5"/>
<path d="M579.5 474.6l20.5 6.4" stroke="#d080c0" stroke-width="3.5" opacity="0.5"/>
<path d="M561.3 473.9l10.6 1.8" stroke="#c868b0" stroke-width="4.8" opacity="0.5"/>
<path d="M583.8 418.8l14 7.4" stroke="#c868b0" stroke-width="3.4" opacity="0.5"/>
<path d="M551.3 400.9l20.1 11" stroke="#b85aa8" stroke-width="3" opacity="0.5"/>
<path d="M510.8 393.5l13 18.2" stroke="#c868b0" stroke-width="4.9" opacity="0.5"/>
<path d="M503.8 465.7l15.6 13.5" stroke="#c868b0" stroke-width="4.1" opacity="0.5"/>
<path d="M564.1 454.3l14.6 9.8" stroke="#b85aa8" stroke-width="2.8" opacity="0.5"/>
<path d="M562.5 439.1l19.2 8.1" stroke="#c868b0" stroke-width="3.7" opacity="0.5"/>
<path d="M560.4 450l18.3 8" stroke="#d080c0" stroke-width="3.2" opacity="0.5"/>
<path d="M572.6 435.8l10.1 3.6" stroke="#c868b0" stroke-width="4.4" opacity="0.5"/>
<path d="M554.4 468l22.6 5.3" stroke="#d080c0" stroke-width="3.4" opacity="0.5"/>
<path d="M571.3 447.1l16.2 8.1" stroke="#c868b0" stroke-width="3.3" opacity="0.5"/>
<path d="M487.7 433l2.9 -11.9" stroke="#d080c0" stroke-width="3" opacity="0.5"/>
<path d="M531.5 429.2l11.9 3.9" stroke="#d080c0" stroke-width="4.2" opacity="0.5"/>
<path d="M520.1 457.1l10.3 5.1" stroke="#b85aa8" stroke-width="2.6" opacity="0.5"/>
<path d="M556.8 421.8l19.8 11.2" stroke="#c868b0" stroke-width="4.8" opacity="0.5"/>
<path d="M517.2 421.7l12.7 6.5" stroke="#b85aa8" stroke-width="4.3" opacity="0.5"/>
<path d="M537.8 462.7l9.6 5.9" stroke="#c868b0" stroke-width="3.9" opacity="0.5"/>
<path d="M501.8 460.6l5 -9.9" stroke="#d080c0" stroke-width="2.7" opacity="0.5"/>
<path d="M539.3 412.1l14.2 1.6" stroke="#b85aa8" stroke-width="4.7" opacity="0.5"/>
<path d="M500.2 468.3l6.2 -10" stroke="#c868b0" stroke-width="4.5" opacity="0.5"/>
<path d="M489.8 407.2l10.5 8.1" stroke="#c868b0" stroke-width="5" opacity="0.5"/>
<path d="M568 475.4l10.8 3.1" stroke="#d080c0" stroke-width="3.4" opacity="0.5"/>
<path d="M481.5 460.2l10.5 -19.2" stroke="#b85aa8" stroke-width="3.4" opacity="0.5"/>
<path d="M511.3 441.7l14.8 6.6" stroke="#c868b0" stroke-width="3.6" opacity="0.5"/>
<path d="M489.8 434.8l-0.1 -21.4" stroke="#c868b0" stroke-width="4.4" opacity="0.5"/>
<path d="M530.8 441.9l16.6 5" stroke="#d080c0" stroke-width="4.2" opacity="0.5"/>
<path d="M549.4 403.9l22.7 9.4" stroke="#b85aa8" stroke-width="4.1" opacity="0.5"/>
<path d="M549.6 475.9l11.2 2.9" stroke="#c868b0" stroke-width="4.1" opacity="0.5"/>
<path d="M546.4 464.3l11.3 1.4" stroke="#b85aa8" stroke-width="4.1" opacity="0.5"/>
<path d="M547 404.3l20.4 10.3" stroke="#b85aa8" stroke-width="3.6" opacity="0.5"/>
<path d="M552.8 398.7l18.5 9.2" stroke="#d080c0" stroke-width="4.4" opacity="0.5"/>
<path d="M507.5 428.6l15.8 14.3" stroke="#c868b0" stroke-width="4.7" opacity="0.5"/>
<path d="M518.5 408.8l16.5 6.3" stroke="#d080c0" stroke-width="4.5" opacity="0.5"/>
<path d="M506.2 405.1l13 12.4" stroke="#d080c0" stroke-width="2.9" opacity="0.5"/>
<path d="M503.4 420.3l2.4 14.5" stroke="#d080c0" stroke-width="4" opacity="0.5"/>
<path d="M504.9 442.7l12.9 6.9" stroke="#c868b0" stroke-width="4.1" opacity="0.5"/>
<path d="M545.5 413.1l15.4 2.9" stroke="#c868b0" stroke-width="4.5" opacity="0.5"/>
<path d="M555.7 448.8l10.4 6.3" stroke="#d080c0" stroke-width="3.2" opacity="0.5"/>
<path d="M542.9 410.4l12 1.9" stroke="#d080c0" stroke-width="2.8" opacity="0.5"/>
<path d="M520.2 415.4l17.6 8.6" stroke="#d080c0" stroke-width="3.6" opacity="0.5"/>
<path d="M511.1 423.8l6.9 7.2" stroke="#7a2080" stroke-width="2.1" opacity="0.8"/>
<path d="M518 402.4l8.3 5.1" stroke="#8a2a8a" stroke-width="0.9" opacity="0.8"/>
<path d="M540.8 462.6l14.3 2.1" stroke="#7a2080" stroke-width="1.4" opacity="0.8"/>
<path d="M497.6 446.9l8 -7.3" stroke="#a83a98" stroke-width="1.5" opacity="0.8"/>
<path d="M562.9 449.4l4.1 1.1" stroke="#7a2080" stroke-width="2.1" opacity="0.8"/>
<path d="M500 459.9l14.3 -6.4" stroke="#9a3090" stroke-width="1.6" opacity="0.8"/>
<path d="M556.4 446.5l13 10.1" stroke="#9a3090" stroke-width="0.9" opacity="0.8"/>
<path d="M522.6 443l14.2 7.2" stroke="#a83a98" stroke-width="0.9" opacity="0.8"/>
<path d="M501.7 472.7l8.2 -4.5" stroke="#7a2080" stroke-width="1.7" opacity="0.8"/>
<path d="M556.5 398.9l15.9 7.3" stroke="#9a3090" stroke-width="1.4" opacity="0.8"/>
<path d="M501.4 411.6l5.7 4.5" stroke="#7a2080" stroke-width="1.8" opacity="0.8"/>
<path d="M534.3 403.3l10.4 2" stroke="#b050a8" stroke-width="1.7" opacity="0.8"/>
<path d="M522.2 453.7l6.9 4" stroke="#b050a8" stroke-width="0.9" opacity="0.8"/>
<path d="M549.3 455.6l11 9.6" stroke="#9a3090" stroke-width="2" opacity="0.8"/>
<path d="M482.2 480.8l9.2 -15.3" stroke="#b050a8" stroke-width="1.9" opacity="0.8"/>
<path d="M531.1 465.3l10.1 2.8" stroke="#a83a98" stroke-width="1.3" opacity="0.8"/>
<path d="M492.6 477l2.3 -3.5" stroke="#7a2080" stroke-width="1.6" opacity="0.8"/>
<path d="M527.9 464l4.1 2.1" stroke="#a83a98" stroke-width="1.4" opacity="0.8"/>
<path d="M579 402.1l3 3.1" stroke="#a83a98" stroke-width="1" opacity="0.8"/>
<path d="M576.5 437.7l15.3 7.9" stroke="#9a3090" stroke-width="1" opacity="0.8"/>
<path d="M569.6 456.1l15.3 3.9" stroke="#8a2a8a" stroke-width="2" opacity="0.8"/>
<path d="M490 456.3l11.7 -12.7" stroke="#b050a8" stroke-width="1.8" opacity="0.8"/>
<path d="M517.3 469.4l7.3 6.9" stroke="#b050a8" stroke-width="1.4" opacity="0.8"/>
<path d="M537.1 421.2l11.1 3.3" stroke="#8a2a8a" stroke-width="1.4" opacity="0.8"/>
<path d="M515.2 438.7l11.3 7.2" stroke="#7a2080" stroke-width="1.5" opacity="0.8"/>
<path d="M526.9 412.8l5 0.6" stroke="#9a3090" stroke-width="1.1" opacity="0.8"/>
<path d="M570 399.1l11.9 11.6" stroke="#7a2080" stroke-width="0.9" opacity="0.8"/>
<path d="M578.3 418.1l11.5 10.8" stroke="#9a3090" stroke-width="1.2" opacity="0.8"/>
<path d="M586.1 448.5l3.4 2.1" stroke="#b050a8" stroke-width="1.4" opacity="0.8"/>
<path d="M502.1 407.9l11.6 12.8" stroke="#8a2a8a" stroke-width="1.1" opacity="0.8"/>
<path d="M526 429.3l14 3.7" stroke="#7a2080" stroke-width="1.2" opacity="0.8"/>
<path d="M535.3 414.2l5.4 1.3" stroke="#a83a98" stroke-width="1.1" opacity="0.8"/>
<path d="M512.7 418.9l9.1 11.7" stroke="#7a2080" stroke-width="0.9" opacity="0.8"/>
<path d="M578.8 417.7l11.8 8.4" stroke="#b050a8" stroke-width="1.2" opacity="0.8"/>
<path d="M565.1 437.8l6.7 4" stroke="#9a3090" stroke-width="1.6" opacity="0.8"/>
<path d="M483.1 470.6l14.3 -10.4" stroke="#a83a98" stroke-width="0.9" opacity="0.8"/>
<path d="M551.6 451.7l13 3.9" stroke="#7a2080" stroke-width="2" opacity="0.8"/>
<path d="M526.5 428l3.7 2.9" stroke="#9a3090" stroke-width="1.7" opacity="0.8"/>
<path d="M576.3 439.3l5.9 2.3" stroke="#b050a8" stroke-width="2.2" opacity="0.8"/>
<path d="M517.8 459.4l6.4 3.2" stroke="#b050a8" stroke-width="1.8" opacity="0.8"/>
<path d="M518.1 443.8l8.8 5.5" stroke="#9a3090" stroke-width="1.7" opacity="0.8"/>
<path d="M506.3 462.2l9.6 4" stroke="#9a3090" stroke-width="1.7" opacity="0.8"/>
<path d="M571.5 454.3l14.5 6.2" stroke="#b050a8" stroke-width="2" opacity="0.8"/>
<path d="M567.8 472.8l9.8 4.9" stroke="#9a3090" stroke-width="0.9" opacity="0.8"/>
<path d="M582.3 461.6l12.4 1.7" stroke="#9a3090" stroke-width="1.5" opacity="0.8"/>
<path d="M485.7 443l5.5 -10.1" stroke="#8a2a8a" stroke-width="1.6" opacity="0.8"/>
<path d="M541.6 421.9l6.1 1.6" stroke="#a83a98" stroke-width="1.9" opacity="0.8"/>
<path d="M542.3 474.1l11.6 5.6" stroke="#8a2a8a" stroke-width="1.1" opacity="0.8"/>
<path d="M485.2 436.8l6.9 -10.5" stroke="#8a2a8a" stroke-width="1.2" opacity="0.8"/>
<path d="M555.4 449.8l16.5 5.4" stroke="#7a2080" stroke-width="2" opacity="0.8"/>
<path d="M541.2 453.2l7.8 1.5" stroke="#9a3090" stroke-width="2" opacity="0.8"/>
<path d="M557 474.1l7.5 2" stroke="#8a2a8a" stroke-width="1.7" opacity="0.8"/>
<path d="M496.3 466.6l7.8 -9.5" stroke="#8a2a8a" stroke-width="1.7" opacity="0.8"/>
<path d="M501.3 442.4l3.7 -5.3" stroke="#a83a98" stroke-width="1.5" opacity="0.8"/>
<path d="M567.6 415.2l6.8 4.3" stroke="#8a2a8a" stroke-width="1.4" opacity="0.8"/>
<path d="M486.7 415.7l6.1 11.9" stroke="#8a2a8a" stroke-width="1.5" opacity="0.8"/>
<path d="M583.5 470.1l9.9 4.1" stroke="#8a2a8a" stroke-width="2.1" opacity="0.8"/>
<path d="M505.4 459.5l13.1 8.8" stroke="#a83a98" stroke-width="1.4" opacity="0.8"/>
<path d="M548.2 443.9l9.6 7.1" stroke="#9a3090" stroke-width="1.9" opacity="0.8"/>
<path d="M494.8 461.8l6.9 -8.3" stroke="#a83a98" stroke-width="1.2" opacity="0.8"/>
<path d="M530 435.6l8.9 4.9" stroke="#9a3090" stroke-width="2" opacity="0.8"/>
<path d="M506.1 456l6.8 4.2" stroke="#b050a8" stroke-width="1.2" opacity="0.8"/>
<path d="M565.7 441.1l5 3.5" stroke="#b050a8" stroke-width="1.3" opacity="0.8"/>
<path d="M547.2 447.6l12.6 10.1" stroke="#9a3090" stroke-width="1.1" opacity="0.8"/>
<path d="M582.2 430.9l14.1 6.9" stroke="#7a2080" stroke-width="1.7" opacity="0.8"/>
<path d="M498.8 477.1l3.1 -6.2" stroke="#7a2080" stroke-width="1.9" opacity="0.8"/>
<path d="M486.9 482.8l8.2 -10.9" stroke="#9a3090" stroke-width="1.7" opacity="0.8"/>
<path d="M521.4 471.3l6.8 1.4" stroke="#9a3090" stroke-width="1.1" opacity="0.8"/>
<path d="M543.6 413.2l9.6 2.5" stroke="#7a2080" stroke-width="1.6" opacity="0.8"/>
<path d="M531.8 414.8l12.7 4" stroke="#a83a98" stroke-width="1.1" opacity="0.8"/>
<path d="M573.1 467.2l10.5 2.5" stroke="#7a2080" stroke-width="2" opacity="0.8"/>
<path d="M539.8 448.9l5.7 2.4" stroke="#9a3090" stroke-width="1" opacity="0.8"/>
<path d="M495 469.1l7.5 -9.8" stroke="#9a3090" stroke-width="1.4" opacity="0.8"/>
<path d="M586.2 467.1l7.7 0.7" stroke="#9a3090" stroke-width="1.4" opacity="0.8"/>
<path d="M551.1 403.8l15.6 4.3" stroke="#9a3090" stroke-width="2.1" opacity="0.8"/>
<path d="M545.5 417.2l15.6 1.7" stroke="#9a3090" stroke-width="2.1" opacity="0.8"/>
<path d="M561 420.5l10.6 6.6" stroke="#b050a8" stroke-width="2.1" opacity="0.8"/>
<path d="M500.1 421.5l11.5 8.7" stroke="#9a3090" stroke-width="1.5" opacity="0.8"/>
<path d="M541.9 440.5l12.9 3.4" stroke="#8a2a8a" stroke-width="1.5" opacity="0.8"/>
<path d="M516.1 443.8l6.1 4.5" stroke="#7a2080" stroke-width="1.7" opacity="0.8"/>
<path d="M502.4 445.4l13.3 6.9" stroke="#9a3090" stroke-width="2" opacity="0.8"/>
<path d="M540.1 465.5l4.6 3.8" stroke="#b050a8" stroke-width="1.1" opacity="0.8"/>
<path d="M556.2 403.7l3.9 2.2" stroke="#8a2a8a" stroke-width="0.9" opacity="0.8"/>
<path d="M513.6 404.8l13.1 7.7" stroke="#a83a98" stroke-width="1.1" opacity="0.8"/>
<path d="M563.7 458.3l10.6 1.9" stroke="#7a2080" stroke-width="1.4" opacity="0.8"/>
<path d="M579.7 465.9l15.7 7.2" stroke="#a83a98" stroke-width="1.2" opacity="0.8"/>
<path d="M586.1 417.6l4.7 2.8" stroke="#7a2080" stroke-width="1.1" opacity="0.8"/>
<path d="M488.8 434.3l2.7 -3.3" stroke="#9a3090" stroke-width="0.8" opacity="0.8"/>
<path d="M555.5 425.2l4.3 2" stroke="#9a3090" stroke-width="1.4" opacity="0.8"/>
<path d="M500.9 476.7l9.9 -8.6" stroke="#b050a8" stroke-width="1.5" opacity="0.8"/>
<path d="M545.9 458.3l4.4 5.3" stroke="#7a2080" stroke-width="2.1" opacity="0.8"/>
<path d="M491.4 452.4l2.9 -7.8" stroke="#b050a8" stroke-width="1.1" opacity="0.8"/>
<path d="M508.5 462.8l14 3.8" stroke="#b050a8" stroke-width="2.1" opacity="0.8"/>
<path d="M493.4 462.8l7.4 -8.8" stroke="#9a3090" stroke-width="1.9" opacity="0.8"/>
<path d="M519.9 461.5l9.3 7.1" stroke="#8a2a8a" stroke-width="2" opacity="0.8"/>
<path d="M525.5 428l16.2 2.6" stroke="#9a3090" stroke-width="1" opacity="0.8"/>
<path d="M530.9 456.5l13.5 7" stroke="#b050a8" stroke-width="1.7" opacity="0.8"/>
<path d="M499.5 417.5l6.3 7.1" stroke="#b050a8" stroke-width="1.9" opacity="0.8"/>
<path d="M575.9 401.4l3.8 4.4" stroke="#7a2080" stroke-width="2" opacity="0.8"/>
<path d="M513.4 419.7l7.9 5.8" stroke="#9a3090" stroke-width="1.6" opacity="0.8"/>
<path d="M497.5 444.4l4 -5.2" stroke="#9a3090" stroke-width="2.1" opacity="0.8"/>
<path d="M496.5 454.8l8.5 -14.8" stroke="#b050a8" stroke-width="2" opacity="0.8"/>
<path d="M562 439.4l3.8 1.4" stroke="#a83a98" stroke-width="1.4" opacity="0.8"/>
<path d="M540.1 458.6l8.2 1.8" stroke="#8a2a8a" stroke-width="1" opacity="0.8"/>
<path d="M500.1 449.5l7.7 -8.3" stroke="#8a2a8a" stroke-width="1.4" opacity="0.8"/>
<path d="M511.4 409.1l4.1 6" stroke="#b050a8" stroke-width="0.9" opacity="0.8"/>
<path d="M516.3 416l3.4 3.1" stroke="#b050a8" stroke-width="1" opacity="0.8"/>
<path d="M543 433.3l12.6 7.4" stroke="#8a2a8a" stroke-width="1.6" opacity="0.8"/>
<path d="M491.8 413.8l4.9 4.2" stroke="#b050a8" stroke-width="1.6" opacity="0.8"/>
<path d="M524.5 449.8l7.7 2.8" stroke="#b050a8" stroke-width="1.1" opacity="0.8"/>
<path d="M518.2 464.7l8.1 4.4" stroke="#a83a98" stroke-width="1.2" opacity="0.8"/>
<path d="M507 447.5l4.2 1.1" stroke="#b050a8" stroke-width="1.4" opacity="0.8"/>
<path d="M561.9 417.6l13.4 8.7" stroke="#7a2080" stroke-width="0.8" opacity="0.8"/>
<path d="M523.4 400.4l9.8 5.8" stroke="#7a2080" stroke-width="1.5" opacity="0.8"/>
<path d="M555.6 440.6l11 7.4" stroke="#7a2080" stroke-width="1.2" opacity="0.8"/>
<path d="M545.6 440.5l10.9 4.3" stroke="#a83a98" stroke-width="1.1" opacity="0.8"/>
<path d="M549.2 406.1l4.2 0.8" stroke="#8a2a8a" stroke-width="1.3" opacity="0.8"/>
<path d="M577.5 413.2l7.4 4.5" stroke="#9a3090" stroke-width="1.2" opacity="0.8"/>
<path d="M577.4 431.6l7.5 4.4" stroke="#7a2080" stroke-width="1.5" opacity="0.8"/>
<path d="M560 404.1l11.2 11.3" stroke="#7a2080" stroke-width="1.5" opacity="0.8"/>
<path d="M552.1 426.7l15.5 6" stroke="#9a3090" stroke-width="0.9" opacity="0.8"/>
<path d="M534.3 445.2l9 3.9" stroke="#7a2080" stroke-width="2.1" opacity="0.8"/>
<path d="M563.4 446.9l5.5 2.3" stroke="#a83a98" stroke-width="2.2" opacity="0.8"/>
<path d="M574.8 452.3l3.8 2.7" stroke="#b050a8" stroke-width="1.3" opacity="0.8"/>
<path d="M495.7 480.9l10 -12.5" stroke="#9a3090" stroke-width="1.7" opacity="0.8"/>
<path d="M570.1 406l5.6 5.5" stroke="#8a2a8a" stroke-width="1.2" opacity="0.8"/>
<path d="M546.2 418.2l12 0.7" stroke="#b050a8" stroke-width="1.5" opacity="0.8"/>
<path d="M555.6 472.6l14.9 6.5" stroke="#9a3090" stroke-width="1.3" opacity="0.8"/>
<path d="M541.2 433.6l10.7 -0" stroke="#b050a8" stroke-width="2" opacity="0.8"/>
<path d="M574.9 433.8l8.1 8.4" stroke="#8a2a8a" stroke-width="0.9" opacity="0.8"/>
<path d="M511.1 447.8l8.2 5.1" stroke="#9a3090" stroke-width="2.1" opacity="0.8"/>
<path d="M556.7 411.9l10.4 9.4" stroke="#9a3090" stroke-width="1" opacity="0.8"/>
<path d="M507.7 409.1l15 9.7" stroke="#a83a98" stroke-width="0.8" opacity="0.8"/>
<path d="M493.8 453.3l2.7 -5.1" stroke="#b050a8" stroke-width="1" opacity="0.8"/>
<path d="M489.9 471l7.6 -5.2" stroke="#a83a98" stroke-width="2.1" opacity="0.8"/>
<path d="M497 464.8l7.3 -9.3" stroke="#a83a98" stroke-width="1.1" opacity="0.8"/>
<path d="M580.5 411.7l10.4 9.1" stroke="#8a2a8a" stroke-width="1.2" opacity="0.8"/>
<path d="M529.9 407.5l16.8 3.4" stroke="#b050a8" stroke-width="1.7" opacity="0.8"/>
<path d="M506.7 402l3.2 3.4" stroke="#7a2080" stroke-width="1.4" opacity="0.8"/>
<path d="M555.4 441.8l11.4 4.9" stroke="#8a2a8a" stroke-width="1.5" opacity="0.8"/>
<path d="M582 406.1l3.4 3.1" stroke="#8a2a8a" stroke-width="1.6" opacity="0.8"/>
<path d="M503.9 460.6l14.2 10.1" stroke="#b050a8" stroke-width="1.5" opacity="0.8"/>
<path d="M503.4 432.6l15.6 7.1" stroke="#7a2080" stroke-width="1" opacity="0.8"/>
<path d="M495.3 415.3l7 8.6" stroke="#b050a8" stroke-width="0.8" opacity="0.8"/>
<path d="M543.4 405.2l14.4 4.6" stroke="#a83a98" stroke-width="0.9" opacity="0.8"/>
<path d="M574.8 448.4l13.3 5.1" stroke="#a83a98" stroke-width="1.4" opacity="0.8"/>
<path d="M502.8 422.6l2 4.6" stroke="#b050a8" stroke-width="0.8" opacity="0.8"/>
<path d="M509.6 466.6l11.8 4" stroke="#a83a98" stroke-width="2" opacity="0.8"/>
<path d="M534.6 407.2l13.5 6.6" stroke="#b050a8" stroke-width="1" opacity="0.8"/>
<path d="M549.3 455.4l6.7 3.6" stroke="#a83a98" stroke-width="0.8" opacity="0.8"/>
<path d="M498.2 438.1l1.7 -7" stroke="#8a2a8a" stroke-width="1" opacity="0.8"/>
<path d="M566.4 432l15.3 7.8" stroke="#b050a8" stroke-width="1.4" opacity="0.8"/>
<path d="M572.5 452.3l13.1 8.9" stroke="#9a3090" stroke-width="1.3" opacity="0.8"/>
<path d="M570.7 422.3l7.8 5" stroke="#b050a8" stroke-width="2.1" opacity="0.8"/>
<path d="M519.5 470.4l8 3.9" stroke="#7a2080" stroke-width="1.4" opacity="0.8"/>
<path d="M488.8 413l5.7 8.3" stroke="#a83a98" stroke-width="1.5" opacity="0.8"/>
<path d="M501.8 434.8l15.6 7.8" stroke="#b050a8" stroke-width="2" opacity="0.8"/>
<path d="M574 436.9l9.7 5" stroke="#9a3090" stroke-width="1.1" opacity="0.8"/>
<path d="M526.7 468.7l7.5 2.8" stroke="#b050a8" stroke-width="1.8" opacity="0.8"/>
<path d="M504.7 467l6 -0.7" stroke="#8a2a8a" stroke-width="2" opacity="0.8"/>
<path d="M514 467.6l11.3 5.6" stroke="#8a2a8a" stroke-width="2.2" opacity="0.8"/>
<path d="M506.1 431.9l3.6 6.5" stroke="#8a2a8a" stroke-width="1.3" opacity="0.8"/>
<path d="M571.5 421.8l8.8 3.8" stroke="#7a2080" stroke-width="2.2" opacity="0.8"/>
<path d="M557.8 416.9l7.3 3" stroke="#9a3090" stroke-width="1.3" opacity="0.8"/>
<path d="M531.8 408.1l12 2.2" stroke="#8a2a8a" stroke-width="2" opacity="0.8"/>
<path d="M517.2 440.6l8.5 4.3" stroke="#9a3090" stroke-width="0.9" opacity="0.8"/>
<path d="M525 437.2l3.6 3.1" stroke="#9a3090" stroke-width="1.4" opacity="0.8"/>
<path d="M550.8 475.5l5.3 1" stroke="#7a2080" stroke-width="1.6" opacity="0.8"/>
<path d="M582.2 449.3l11.8 5.7" stroke="#7a2080" stroke-width="0.9" opacity="0.8"/>
<path d="M570 452.3l9.9 6" stroke="#7a2080" stroke-width="1.4" opacity="0.8"/>
<path d="M504.5 415l9.6 4.7" stroke="#a83a98" stroke-width="1.6" opacity="0.8"/>
<path d="M544.3 466.6l5.3 3.4" stroke="#7a2080" stroke-width="1" opacity="0.8"/>
<path d="M500.2 463.8l8.7 -10.4" stroke="#a83a98" stroke-width="1.3" opacity="0.8"/>
<path d="M552.4 444.2l14.4 8.6" stroke="#a83a98" stroke-width="1.3" opacity="0.8"/>
<path d="M571.9 454.8l14.5 4.9" stroke="#9a3090" stroke-width="1.1" opacity="0.8"/>
<path d="M528.5 435.3l7.5 3.7" stroke="#8a2a8a" stroke-width="2" opacity="0.8"/>
<path d="M510.8 461.2l7.4 1.2" stroke="#a83a98" stroke-width="1.6" opacity="0.8"/>
<path d="M513.4 415.5l8.8 6.1" stroke="#a83a98" stroke-width="1" opacity="0.8"/>
<path d="M578.9 440.9l7 3" stroke="#9a3090" stroke-width="1.4" opacity="0.8"/>
<path d="M540.7 445.1l12.3 8" stroke="#a83a98" stroke-width="1.4" opacity="0.8"/>
<path d="M542 471.1l14 2.2" stroke="#8a2a8a" stroke-width="1.1" opacity="0.8"/>
<path d="M563.2 413.3l14.4 7.4" stroke="#9a3090" stroke-width="0.8" opacity="0.8"/>
<path d="M502.1 439.1l2.5 -5.2" stroke="#8a2a8a" stroke-width="1.7" opacity="0.8"/>
<path d="M550.6 400.8l14.7 4" stroke="#7a2080" stroke-width="1.9" opacity="0.8"/>
<path d="M520.5 428.3l6.8 5.3" stroke="#a83a98" stroke-width="1.8" opacity="0.8"/>
<path d="M559.9 476.9l5.1 -0.6" stroke="#7a2080" stroke-width="2" opacity="0.8"/>
<path d="M534.3 428.8l5.4 2.4" stroke="#b050a8" stroke-width="1.1" opacity="0.8"/>
<path d="M493.8 479.4l8.7 -8.8" stroke="#7a2080" stroke-width="0.9" opacity="0.8"/>
<path d="M498.8 457.5l10.7 -5.8" stroke="#b050a8" stroke-width="1.1" opacity="0.8"/>
<path d="M527 461.4l8.8 2.6" stroke="#a83a98" stroke-width="1.8" opacity="0.8"/>
<path d="M523.5 451.5l12.9 9.5" stroke="#9a3090" stroke-width="2.1" opacity="0.8"/>
<path d="M552.7 413.2l12.6 4" stroke="#9a3090" stroke-width="2.2" opacity="0.8"/>
<path d="M539.7 471.7l16.5 5.8" stroke="#9a3090" stroke-width="0.9" opacity="0.8"/>
<path d="M521.4 472.5l14.4 2.9" stroke="#7a2080" stroke-width="1" opacity="0.8"/>
<path d="M514.4 459.1l3.9 3.2" stroke="#b050a8" stroke-width="1" opacity="0.8"/>
<path d="M525.8 429.7l7.8 4.3" stroke="#b050a8" stroke-width="1.7" opacity="0.8"/>
<path d="M543.8 434.1l11.6 6.6" stroke="#a83a98" stroke-width="1.5" opacity="0.8"/>
<path d="M564.9 407.4l12.1 8.8" stroke="#9a3090" stroke-width="1.8" opacity="0.8"/>
<path d="M585.9 465.7l3.7 1.7" stroke="#8a2a8a" stroke-width="1.4" opacity="0.8"/>
<path d="M515.6 465.1l3.9 3.6" stroke="#7a2080" stroke-width="1.4" opacity="0.8"/>
<path d="M547.2 451.2l13 8" stroke="#9a3090" stroke-width="0.9" opacity="0.8"/>
<path d="M513.5 465.2l15.8 8.4" stroke="#8a2a8a" stroke-width="1.1" opacity="0.8"/>
<path d="M504.9 439.9l9.3 4.9" stroke="#7a2080" stroke-width="1.5" opacity="0.8"/>
<path d="M511.5 405.6l2.6 3.9" stroke="#b050a8" stroke-width="1.7" opacity="0.8"/>
<path d="M514.7 474l13 4.7" stroke="#b050a8" stroke-width="0.9" opacity="0.8"/>
<path d="M583.1 399.8l8.9 8.2" stroke="#7a2080" stroke-width="2.2" opacity="0.8"/>
<path d="M528.9 409.3l4.6 1.5" stroke="#a83a98" stroke-width="1.5" opacity="0.8"/>
<path d="M553.4 469.2l11.7 4.4" stroke="#b050a8" stroke-width="0.9" opacity="0.8"/>
<path d="M498.1 399.5l6.4 14.9" stroke="#7a2080" stroke-width="1.7" opacity="0.8"/>
<path d="M561.4 477.3l4.4 0.9" stroke="#8a2a8a" stroke-width="0.8" opacity="0.8"/>
<path d="M577.4 400.9l12.6 8.9" stroke="#8a2a8a" stroke-width="1" opacity="0.8"/>
<path d="M515.5 423.2l12 1.3" stroke="#9a3090" stroke-width="1.6" opacity="0.8"/>
<path d="M502.6 436.9l10.1 7.4" stroke="#7a2080" stroke-width="1" opacity="0.8"/>
<path d="M517.6 402.5l8.5 3.2" stroke="#b050a8" stroke-width="1.7" opacity="0.8"/>
<path d="M574.9 462.1l12.9 6.1" stroke="#a83a98" stroke-width="1.7" opacity="0.8"/>
<path d="M567 428.4l4.3 3.6" stroke="#9a3090" stroke-width="0.9" opacity="0.8"/>
<path d="M507.4 399.2l12.4 7" stroke="#b050a8" stroke-width="1.4" opacity="0.8"/>
<path d="M554.1 456.9l9 2.8" stroke="#8a2a8a" stroke-width="1.5" opacity="0.8"/>
<path d="M576 463.4l15 8.6" stroke="#8a2a8a" stroke-width="2.2" opacity="0.8"/>
<path d="M512.9 474.7l8.2 6.2" stroke="#a83a98" stroke-width="1.3" opacity="0.8"/>
<path d="M556.9 459.8l7.1 3.2" stroke="#9a3090" stroke-width="2.2" opacity="0.8"/>
<path d="M514.9 403.4l15.6 3.5" stroke="#a83a98" stroke-width="1.6" opacity="0.8"/>
<path d="M527.1 425.8l9.2 4.8" stroke="#8a2a8a" stroke-width="1.8" opacity="0.8"/>
<path d="M515.3 431.8l11.6 11.7" stroke="#b050a8" stroke-width="2.1" opacity="0.8"/>
<path d="M519.1 425.8l6.3 6.2" stroke="#a83a98" stroke-width="1.5" opacity="0.8"/>
<path d="M544.3 405.4l15.8 7" stroke="#7a2080" stroke-width="1.6" opacity="0.8"/>
<path d="M555.8 433.7l6.5 4.2" stroke="#7a2080" stroke-width="1.6" opacity="0.8"/>
<path d="M525.1 463.6l17 4.2" stroke="#8a2a8a" stroke-width="0.9" opacity="0.8"/>
<path d="M517.5 459.6l6.8 4.3" stroke="#8a2a8a" stroke-width="2" opacity="0.8"/>
<path d="M544.5 471.7l16.6 4.7" stroke="#8a2a8a" stroke-width="1.7" opacity="0.8"/>
<path d="M530.6 445.4l7.3 4.2" stroke="#a83a98" stroke-width="1.8" opacity="0.8"/>
<path d="M494.1 405.3l4.5 4.6" stroke="#a83a98" stroke-width="1.2" opacity="0.8"/>
<path d="M510.9 405.4l4.5 2.4" stroke="#9a3090" stroke-width="1.5" opacity="0.8"/>
<path d="M547.8 444.3l10.9 4.4" stroke="#7a2080" stroke-width="1.9" opacity="0.8"/>
<path d="M563.7 434.2l4.8 3.2" stroke="#7a2080" stroke-width="1" opacity="0.8"/>
<path d="M553.2 404.9l5.5 3" stroke="#b050a8" stroke-width="2.2" opacity="0.8"/>
<path d="M552.5 402.4l8.1 3.9" stroke="#7a2080" stroke-width="2" opacity="0.8"/>
<path d="M553.1 452.4l11.6 3.2" stroke="#fff" stroke-width="1" opacity="0.85"/>
<path d="M531 434.4l4.4 2.4" stroke="#fff" stroke-width="1.6" opacity="0.85"/>
<path d="M509.1 462.6l8.2 4.1" stroke="#fff" stroke-width="1" opacity="0.85"/>
<path d="M532 448.3l6.4 2.6" stroke="#fff" stroke-width="0.8" opacity="0.85"/>
<path d="M561.1 442.3l8 2.7" stroke="#fff" stroke-width="0.9" opacity="0.85"/>
<path d="M534.7 418l5.2 2.3" stroke="#fff" stroke-width="1.5" opacity="0.85"/>
<path d="M557.4 422.4l10.4 5.7" stroke="#fff" stroke-width="1.1" opacity="0.85"/>
<path d="M500.8 411.7l8.5 8.4" stroke="#fff" stroke-width="1.2" opacity="0.85"/>
<path d="M566 458.1l9.2 3.5" stroke="#fff" stroke-width="1" opacity="0.85"/>
<path d="M515.7 408.4l4.7 4" stroke="#fff" stroke-width="0.9" opacity="0.85"/>
<path d="M497.2 434.4l3.5 -8.8" stroke="#fff" stroke-width="1" opacity="0.85"/>
<path d="M527.6 430.8l5.8 3.3" stroke="#fff" stroke-width="1.5" opacity="0.85"/>
<path d="M551.9 413.7l11.1 6.1" stroke="#fff" stroke-width="1.4" opacity="0.85"/>
<path d="M528.3 423.1l4 1.4" stroke="#fff" stroke-width="1.2" opacity="0.85"/>
<path d="M510.6 428.2l3.1 2.7" stroke="#fff" stroke-width="1.6" opacity="0.85"/>
<path d="M504.8 465.4l7.7 1.3" stroke="#fff" stroke-width="1.8" opacity="0.85"/>
<path d="M529 472.6l8.8 3.6" stroke="#fff" stroke-width="1.6" opacity="0.85"/>
<path d="M526.2 414.9l10.4 5.9" stroke="#fff" stroke-width="1.4" opacity="0.85"/>
<path d="M569.4 432.6l10.2 5.3" stroke="#fff" stroke-width="0.9" opacity="0.85"/>
<path d="M576.5 443l8.5 6" stroke="#fff" stroke-width="1.7" opacity="0.85"/>
<path d="M535.4 462.2l9.1 4.1" stroke="#fff" stroke-width="0.8" opacity="0.85"/>
<path d="M500.4 419.1l2.9 9.8" stroke="#fff" stroke-width="1.7" opacity="0.85"/>
<path d="M514.2 406.3l4 2.7" stroke="#fff" stroke-width="1.5" opacity="0.85"/>
<path d="M522.1 468.2l8.1 5.2" stroke="#fff" stroke-width="1.5" opacity="0.85"/>
<path d="M563.3 445.5l12.5 5.3" stroke="#fff" stroke-width="1.4" opacity="0.85"/>
<path d="M514.3 467.9l3.9 2.2" stroke="#fff" stroke-width="1.2" opacity="0.85"/>
<path d="M573.9 470l10.7 4.2" stroke="#fff" stroke-width="1.7" opacity="0.85"/>
<path d="M567.8 415.5l8.2 4.1" stroke="#fff" stroke-width="1.4" opacity="0.85"/>
<path d="M546.6 430.3l10.1 5.7" stroke="#fff" stroke-width="1.7" opacity="0.85"/>
<path d="M529.2 413.5l9.2 2.8" stroke="#fff" stroke-width="1.6" opacity="0.85"/>
<path d="M549.3 417.6l10.9 8.7" stroke="#fff" stroke-width="1.4" opacity="0.85"/>
<path d="M533.5 459.7l4.3 1.5" stroke="#fff" stroke-width="1.1" opacity="0.85"/>
<path d="M494.5 457l4.9 -4.9" stroke="#fff" stroke-width="1.8" opacity="0.85"/>
<path d="M556.8 455l9.6 2.8" stroke="#fff" stroke-width="1.3" opacity="0.85"/>
<path d="M575 434.6l5.6 4.5" stroke="#fff" stroke-width="1.3" opacity="0.85"/>
<path d="M555.5 445.8l6.5 3.1" stroke="#fff" stroke-width="1.1" opacity="0.85"/>
<path d="M510.5 403.9l6.7 5.9" stroke="#fff" stroke-width="1.3" opacity="0.85"/>
<path d="M502.1 421.1l2 4.2" stroke="#fff" stroke-width="1.6" opacity="0.85"/>
<path d="M543.4 408.4l9.2 1.9" stroke="#fff" stroke-width="1.2" opacity="0.85"/>
<path d="M546.2 468.7l10.5 1.9" stroke="#fff" stroke-width="1.2" opacity="0.85"/>
<path d="M523.1 408.1l5.6 2.2" stroke="#fff" stroke-width="1" opacity="0.85"/>
<path d="M498.5 468.1l7.6 -9.7" stroke="#fff" stroke-width="1.1" opacity="0.85"/>
<path d="M549.2 432l7.3 4.8" stroke="#fff" stroke-width="1.2" opacity="0.85"/>
<path d="M494.6 432.1l1.5 -8.3" stroke="#fff" stroke-width="1.6" opacity="0.85"/>
<path d="M536.1 425.5l10.4 4.4" stroke="#fff" stroke-width="1.7" opacity="0.85"/>
<path d="M545 469.5l8.4 2.1" stroke="#fff" stroke-width="1.1" opacity="0.85"/>
<path d="M550.7 437.7l9.6 7" stroke="#fff" stroke-width="1.5" opacity="0.85"/>
<path d="M541.8 469.4l5.5 2.3" stroke="#fff" stroke-width="1.5" opacity="0.85"/>
<path d="M578.4 434.3l7.4 5.2" stroke="#fff" stroke-width="1.7" opacity="0.85"/>
<path d="M515.3 456.7l6.8 4.5" stroke="#fff" stroke-width="0.9" opacity="0.85"/>
<path d="M515.6 424.7l9.8 5.6" stroke="#fff" stroke-width="1.8" opacity="0.85"/>
<path d="M529 467.9l10.5 7.1" stroke="#fff" stroke-width="1.5" opacity="0.85"/>
<path d="M512.7 431.3l10.4 7.4" stroke="#fff" stroke-width="1" opacity="0.85"/>
<path d="M546.9 410l5.1 1.2" stroke="#fff" stroke-width="1.2" opacity="0.85"/>
<path d="M563.6 431.7l9.3 4.1" stroke="#fff" stroke-width="1.7" opacity="0.85"/>
<path d="M563.7 413.9l3.5 2.2" stroke="#fff" stroke-width="1.6" opacity="0.85"/>
<path d="M515.9 429.8l5.7 3.8" stroke="#fff" stroke-width="1.3" opacity="0.85"/>
<path d="M542 423.9l3.5 2.2" stroke="#fff" stroke-width="1.4" opacity="0.85"/>
<path d="M522.8 470.3l4.4 2.4" stroke="#fff" stroke-width="1" opacity="0.85"/>
<path d="M552.5 427.3l3.3 2.3" stroke="#fff" stroke-width="1.1" opacity="0.85"/>
<path d="M499.4 408.6l5 7.1" stroke="#fff" stroke-width="0.9" opacity="0.85"/>
<path d="M518.5 460.6l6.1 3.1" stroke="#fff" stroke-width="1.7" opacity="0.85"/>
<path d="M513.1 461.7l6.3 3.6" stroke="#fff" stroke-width="1.4" opacity="0.85"/>
<path d="M572.6 467.6l8 3.4" stroke="#fff" stroke-width="0.9" opacity="0.85"/>
<path d="M534.5 426.1l3.9 1.4" stroke="#fff" stroke-width="1.5" opacity="0.85"/>
<path d="M537 424.9l12.3 3.1" stroke="#fff" stroke-width="1.6" opacity="0.85"/>
<path d="M566.5 449.7l12.4 5.8" stroke="#fff" stroke-width="1.2" opacity="0.85"/>
<path d="M533.1 409l6.2 1.9" stroke="#fff" stroke-width="1.4" opacity="0.85"/>
<path d="M509.3 407.1l6.2 6.5" stroke="#fff" stroke-width="1" opacity="0.85"/>
<path d="M550.6 430.8l6.5 2.1" stroke="#fff" stroke-width="0.8" opacity="0.85"/>
<path d="M535.5 439.2l4.3 2.4" stroke="#fff" stroke-width="1.1" opacity="0.85"/>
<path d="M580.6 423.5l6.9 5.8" stroke="#fff" stroke-width="1.7" opacity="0.85"/>
<path d="M501.9 434.7l2.5 -12.3" stroke="#fff" stroke-width="1.2" opacity="0.85"/>
<path d="M537.8 459.4l11.9 4.3" stroke="#fff" stroke-width="1.6" opacity="0.85"/>
<path d="M555.4 452.2l9.6 2.6" stroke="#fff" stroke-width="1.8" opacity="0.85"/>
<path d="M562.8 406.4l8.6 5.2" stroke="#fff" stroke-width="0.9" opacity="0.85"/>
<path d="M535.6 469l4.1 2" stroke="#fff" stroke-width="1.1" opacity="0.85"/>
<path d="M558.8 456.2l6.2 2.2" stroke="#fff" stroke-width="1.5" opacity="0.85"/>
<path d="M502 460.2l4.8 -5.8" stroke="#fff" stroke-width="1.3" opacity="0.85"/>
<path d="M495.2 403.7l6.5 6.7" stroke="#fff" stroke-width="1.1" opacity="0.85"/>
<path d="M488.6 474.5l9.7 -9.2" stroke="#fff" stroke-width="1" opacity="0.85"/>
<path d="M516.1 450.4l7.8 5.5" stroke="#fff" stroke-width="1.6" opacity="0.85"/>
<path d="M563.2 422.3l7.5 6" stroke="#3a0a48" stroke-width="0.9" opacity="0.85"/>
<path d="M556.7 450.1l5.1 1.9" stroke="#3a0a48" stroke-width="1" opacity="0.85"/>
<path d="M583.2 458.9l10 2" stroke="#4a1058" stroke-width="1.1" opacity="0.85"/>
<path d="M582.5 407.5l4 3.3" stroke="#4a1058" stroke-width="0.7" opacity="0.85"/>
<path d="M564.4 433l7.4 3.4" stroke="#3a0a48" stroke-width="1.1" opacity="0.85"/>
<path d="M525.4 410.4l10.1 3.2" stroke="#4a1058" stroke-width="0.9" opacity="0.85"/>
<path d="M511.3 447.9l7 4.5" stroke="#3a0a48" stroke-width="1.1" opacity="0.85"/>
<path d="M561.7 438.5l5.9 3.3" stroke="#4a1058" stroke-width="0.8" opacity="0.85"/>
<path d="M537.5 470.3l8.5 3.5" stroke="#3a0a48" stroke-width="0.8" opacity="0.85"/>
<path d="M524.1 435.3l5.3 4" stroke="#4a1058" stroke-width="0.8" opacity="0.85"/>
<path d="M562.1 439.5l5.5 5" stroke="#3a0a48" stroke-width="0.7" opacity="0.85"/>
<path d="M575.9 450.3l10.5 1.4" stroke="#4a1058" stroke-width="1.4" opacity="0.85"/>
<path d="M575.5 462.9l10.2 3.3" stroke="#4a1058" stroke-width="1.2" opacity="0.85"/>
<path d="M584.4 414.1l4.4 3.2" stroke="#3a0a48" stroke-width="1.2" opacity="0.85"/>
<path d="M533.9 445.7l3.9 0.8" stroke="#4a1058" stroke-width="1.4" opacity="0.85"/>
<path d="M494.4 456.8l5.7 -10" stroke="#3a0a48" stroke-width="1" opacity="0.85"/>
<path d="M526.9 410.8l8.4 5.6" stroke="#4a1058" stroke-width="1.1" opacity="0.85"/>
<path d="M552 425.5l4 3.4" stroke="#3a0a48" stroke-width="1.2" opacity="0.85"/>
<path d="M584.7 468.9l4.6 1.5" stroke="#3a0a48" stroke-width="0.9" opacity="0.85"/>
<path d="M535.7 408.2l8.9 2.5" stroke="#3a0a48" stroke-width="1.3" opacity="0.85"/>
<path d="M576.9 467.1l10.7 2.9" stroke="#3a0a48" stroke-width="1.2" opacity="0.85"/>
<path d="M570.6 418l10.6 4.7" stroke="#3a0a48" stroke-width="1.2" opacity="0.85"/>
<path d="M535.7 428.8l7.4 4.9" stroke="#3a0a48" stroke-width="1.4" opacity="0.85"/>
<path d="M486.1 413.7l3.9 5.2" stroke="#3a0a48" stroke-width="1.2" opacity="0.85"/>
<path d="M552.9 462l11.6 2.4" stroke="#4a1058" stroke-width="1.3" opacity="0.85"/>
<path d="M580.2 456.8l11.1 2.3" stroke="#3a0a48" stroke-width="1.1" opacity="0.85"/>
<path d="M546.5 427.4l4.4 1.9" stroke="#3a0a48" stroke-width="1.1" opacity="0.85"/>
<path d="M554.7 441l7.1 3.6" stroke="#4a1058" stroke-width="1" opacity="0.85"/>
<path d="M587.9 435.1l4.4 3.6" stroke="#3a0a48" stroke-width="1.4" opacity="0.85"/>
<path d="M547.3 402l5.2 1.4" stroke="#3a0a48" stroke-width="1.1" opacity="0.85"/>
<path d="M506.2 436.7l8.4 6.3" stroke="#4a1058" stroke-width="1.1" opacity="0.85"/>
<path d="M546.5 410.5l8 2.3" stroke="#4a1058" stroke-width="1.3" opacity="0.85"/>
<path d="M521.8 477l6.5 2" stroke="#4a1058" stroke-width="1" opacity="0.85"/>
<path d="M585.3 422.4l4.9 3.4" stroke="#4a1058" stroke-width="0.8" opacity="0.85"/>
<path d="M567.5 445.4l7.8 2.2" stroke="#4a1058" stroke-width="1.3" opacity="0.85"/>
<path d="M523 447.5l3.6 2.7" stroke="#3a0a48" stroke-width="0.8" opacity="0.85"/>
<path d="M573.4 463.2l6.5 3.1" stroke="#4a1058" stroke-width="0.8" opacity="0.85"/>
<path d="M549.9 401l8.7 4.1" stroke="#3a0a48" stroke-width="0.8" opacity="0.85"/>
<path d="M567.5 425.9l6.1 4.1" stroke="#4a1058" stroke-width="0.8" opacity="0.85"/>
<path d="M496.3 450.3l4 -6.4" stroke="#4a1058" stroke-width="1.2" opacity="0.85"/>
<path d="M550.9 402l7.2 3.5" stroke="#3a0a48" stroke-width="0.9" opacity="0.85"/>
<path d="M558.3 452.4l5.8 4.2" stroke="#3a0a48" stroke-width="1.3" opacity="0.85"/>
<path d="M522.5 465l9.3 6.2" stroke="#4a1058" stroke-width="1.2" opacity="0.85"/>
<path d="M559.9 435.2l7.7 5.4" stroke="#3a0a48" stroke-width="1.2" opacity="0.85"/>
<path d="M530.5 473.7l4.6 2.5" stroke="#3a0a48" stroke-width="0.9" opacity="0.85"/>
<path d="M489.6 411.2l6.2 4.3" stroke="#4a1058" stroke-width="1.3" opacity="0.85"/>
<path d="M558.4 452l5.2 2.8" stroke="#3a0a48" stroke-width="1.4" opacity="0.85"/>
<path d="M528.1 431.6l8.9 4.5" stroke="#3a0a48" stroke-width="0.7" opacity="0.85"/>
<path d="M509.5 425.4l5.7 2.3" stroke="#3a0a48" stroke-width="0.9" opacity="0.85"/>
<path d="M577.7 402.3l6.4 7.7" stroke="#4a1058" stroke-width="1.2" opacity="0.85"/>
<path d="M577 424.7l5.6 4.2" stroke="#4a1058" stroke-width="1.1" opacity="0.85"/>
<path d="M587.4 403.2l5.5 5.6" stroke="#4a1058" stroke-width="1.1" opacity="0.85"/>
<path d="M542.3 416.4l6.3 1.7" stroke="#3a0a48" stroke-width="0.8" opacity="0.85"/>
<path d="M543.8 424.3l7.8 0.2" stroke="#3a0a48" stroke-width="1.1" opacity="0.85"/>
<path d="M490.7 439.5l2.4 -5.2" stroke="#3a0a48" stroke-width="1.3" opacity="0.85"/>
<path d="M558 421.5l4.2 2.8" stroke="#3a0a48" stroke-width="1" opacity="0.85"/>
<path d="M494.2 472.9l3.9 -3.5" stroke="#3a0a48" stroke-width="1" opacity="0.85"/>
<path d="M503.9 443.3l2.4 -7.4" stroke="#4a1058" stroke-width="1.2" opacity="0.85"/>
<path d="M576.2 453.7l7.6 4.1" stroke="#3a0a48" stroke-width="0.7" opacity="0.85"/>
<path d="M575.5 465.3l9.9 1.9" stroke="#4a1058" stroke-width="0.8" opacity="0.85"/>
<path d="M560.6 446.3l6.4 3.3" stroke="#4a1058" stroke-width="0.9" opacity="0.85"/>
<path d="M579.4 446.9l8 5.6" stroke="#3a0a48" stroke-width="0.9" opacity="0.85"/>
<path d="M491.4 429.4l2.4 -7.9" stroke="#3a0a48" stroke-width="1.2" opacity="0.85"/>
<path d="M578.5 418.5l5.8 4.3" stroke="#4a1058" stroke-width="0.9" opacity="0.85"/>
<path d="M492.4 458.5l3.9 -5.1" stroke="#3a0a48" stroke-width="1.2" opacity="0.85"/>
<path d="M495.1 458.7l5.4 -4.1" stroke="#3a0a48" stroke-width="0.9" opacity="0.85"/>
<path d="M568.8 420.1l5.3 3.8" stroke="#4a1058" stroke-width="1.1" opacity="0.85"/>
<path d="M574.5 440.5l8.2 5.6" stroke="#4a1058" stroke-width="1.1" opacity="0.85"/>
<path d="M571.6 421.8l6.4 5.1" stroke="#3a0a48" stroke-width="0.9" opacity="0.85"/>
<path d="M543.4 476.6l5.6 1.5" stroke="#3a0a48" stroke-width="1.2" opacity="0.85"/>
<path d="M495.6 460.5l2.5 -5.4" stroke="#4a1058" stroke-width="1.1" opacity="0.85"/>
<path d="M487.6 460.9l0.4 -1.5" stroke="#30083e" stroke-width="1.1" opacity="0.85"/>
<path d="M585.2 422.1l0.1 1.5" stroke="#30083e" stroke-width="1.2" opacity="0.85"/>
<path d="M537.1 415l1.4 -0.7" stroke="#30083e" stroke-width="1.5" opacity="0.85"/>
<path d="M489.3 454.5l1.1 -1.3" stroke="#30083e" stroke-width="1.4" opacity="0.85"/>
<path d="M555.9 458.3l2.7 0.5" stroke="#30083e" stroke-width="1.5" opacity="0.85"/>
<path d="M518.6 419.8l1.1 0.9" stroke="#401050" stroke-width="1.4" opacity="0.85"/>
<path d="M522.3 459.2l2 -0.9" stroke="#30083e" stroke-width="1.4" opacity="0.85"/>
<path d="M510.4 444.9l1.8 1.1" stroke="#30083e" stroke-width="1.5" opacity="0.85"/>
<path d="M497.7 455.7l1.3 -1.3" stroke="#30083e" stroke-width="1.2" opacity="0.85"/>
<path d="M542.9 470.9l2.7 -0.3" stroke="#401050" stroke-width="1.1" opacity="0.85"/>
<path d="M497.2 464.2l0.1 -2.2" stroke="#30083e" stroke-width="1.3" opacity="0.85"/>
<path d="M521.7 416.2l1.4 0.7" stroke="#30083e" stroke-width="1.2" opacity="0.85"/>
<path d="M536.3 415.8l1.3 1" stroke="#401050" stroke-width="1.2" opacity="0.85"/>
<path d="M577.9 415.4l2.2 0.5" stroke="#30083e" stroke-width="1.1" opacity="0.85"/>
<path d="M568.8 417l1.8 1.9" stroke="#30083e" stroke-width="1.5" opacity="0.85"/>
<path d="M532.3 437.1l1.3 1.5" stroke="#30083e" stroke-width="1.5" opacity="0.85"/>
<path d="M514.8 470.9l2.5 0.2" stroke="#401050" stroke-width="1.3" opacity="0.85"/>
<path d="M490.2 426.4l0.2 -1.4" stroke="#401050" stroke-width="1.5" opacity="0.85"/>
<path d="M532.2 449.3l0.9 -1.2" stroke="#401050" stroke-width="1.7" opacity="0.85"/>
<path d="M489.3 417.2l1.3 0.9" stroke="#30083e" stroke-width="1.2" opacity="0.85"/>
<path d="M570.4 408.8l1.6 -0" stroke="#30083e" stroke-width="1.3" opacity="0.85"/>
<path d="M526.4 465l2.5 0.6" stroke="#401050" stroke-width="1.2" opacity="0.85"/>
<path d="M507.4 477.9l2.3 1" stroke="#30083e" stroke-width="1.2" opacity="0.85"/>
<path d="M536.2 448.5l1.5 1.5" stroke="#401050" stroke-width="1.5" opacity="0.85"/>
<path d="M536 476.2l1.9 1" stroke="#401050" stroke-width="1.1" opacity="0.85"/>
<path d="M547.3 445.9l-0.2 1.6" stroke="#30083e" stroke-width="1.4" opacity="0.85"/>
<path d="M494.9 429.7l1 -1.5" stroke="#401050" stroke-width="1.1" opacity="0.85"/>
<path d="M499 474.1l0.8 -1.3" stroke="#401050" stroke-width="1.7" opacity="0.85"/>
<path d="M585.6 445.5l1.6 0.3" stroke="#30083e" stroke-width="1.3" opacity="0.85"/>
<path d="M534.2 445.4l2.2 1.5" stroke="#401050" stroke-width="1.4" opacity="0.85"/>
<path d="M573.1 457.8l1.8 -0.8" stroke="#401050" stroke-width="1.3" opacity="0.85"/>
<path d="M488.5 461l0.6 -2.6" stroke="#30083e" stroke-width="1.4" opacity="0.85"/>
<path d="M540.5 473.2l2 0.7" stroke="#30083e" stroke-width="1.5" opacity="0.85"/>
<path d="M586.2 438.6l1.7 0.7" stroke="#30083e" stroke-width="1.1" opacity="0.85"/>
<path d="M533.9 461l1.3 0.5" stroke="#401050" stroke-width="1.4" opacity="0.85"/>
<path d="M584.9 431.4l-0.4 2.1" stroke="#30083e" stroke-width="1.2" opacity="0.85"/>
<path d="M545.7 449.6l1.8 1.3" stroke="#30083e" stroke-width="1.7" opacity="0.85"/>
<path d="M491 419l2.6 1" stroke="#401050" stroke-width="1.4" opacity="0.85"/>
<path d="M487.3 462.3l1.5 0" stroke="#401050" stroke-width="1.6" opacity="0.85"/>
<path d="M524.2 442.8l1.7 -1.1" stroke="#30083e" stroke-width="1.2" opacity="0.85"/>
<path d="M576.7 422.1l1.7 2.1" stroke="#30083e" stroke-width="1.4" opacity="0.85"/>
<path d="M584.2 424l2.2 1.7" stroke="#30083e" stroke-width="1.6" opacity="0.85"/>
<path d="M519 424.5l2 -0.1" stroke="#30083e" stroke-width="1.4" opacity="0.85"/>
<path d="M571.9 431.8l1.9 1.2" stroke="#401050" stroke-width="1.2" opacity="0.85"/>
<path d="M505 403.4l1 1.5" stroke="#30083e" stroke-width="1.5" opacity="0.85"/>
<path d="M550.8 412.3l1.2 -1" stroke="#401050" stroke-width="1.3" opacity="0.85"/>
<path d="M542 410.3l1.3 1.5" stroke="#401050" stroke-width="1.4" opacity="0.85"/>
<path d="M492.5 429.1l-0.4 -2.3" stroke="#30083e" stroke-width="1.5" opacity="0.85"/>
<path d="M538.8 412.9l1.4 2.2" stroke="#401050" stroke-width="1.2" opacity="0.85"/>
<path d="M496.9 416.2l1.9 0.7" stroke="#30083e" stroke-width="1.5" opacity="0.85"/>
<path d="M574.2 435.7l1.8 0.6" stroke="#30083e" stroke-width="1.4" opacity="0.85"/>
<path d="M510.9 415.6l2.4 0.1" stroke="#401050" stroke-width="1.5" opacity="0.85"/>
<path d="M560.7 448.5l2 1.6" stroke="#30083e" stroke-width="1.5" opacity="0.85"/>
<path d="M576.5 417.2l0.5 1.3" stroke="#30083e" stroke-width="1.6" opacity="0.85"/>
<path d="M564.6 468.1l1.3 -1.6" stroke="#30083e" stroke-width="1.4" opacity="0.85"/>
<path d="M506.9 457.6l1.6 -0.4" stroke="#30083e" stroke-width="1.5" opacity="0.85"/>
<path d="M572.2 431.2l2.8 0.3" stroke="#30083e" stroke-width="1.4" opacity="0.85"/>
<path d="M558.7 423.5l2.6 -0.2" stroke="#30083e" stroke-width="1.1" opacity="0.85"/>
<path d="M552.2 460.5l1 1" stroke="#401050" stroke-width="1.4" opacity="0.85"/>
<path d="M571.5 446.3l0.8 2.3" stroke="#401050" stroke-width="1.2" opacity="0.85"/>
<path d="M582.2 425.2l1 0.8" stroke="#30083e" stroke-width="1.7" opacity="0.85"/>
<path d="M521.7 432.3l2.3 -0.1" stroke="#401050" stroke-width="1.1" opacity="0.85"/>
<path d="M526.6 465.1l1.6 1.3" stroke="#401050" stroke-width="1.3" opacity="0.85"/>
<path d="M540.4 411.5l1.4 -0.3" stroke="#30083e" stroke-width="1.7" opacity="0.85"/>
<path d="M511.2 408.2l1.8 -0.4" stroke="#401050" stroke-width="1.3" opacity="0.85"/>
<path d="M577.7 432.6l0.8 1.8" stroke="#30083e" stroke-width="1.6" opacity="0.85"/>
<path d="M518.1 467.4l1.9 1.3" stroke="#401050" stroke-width="1.4" opacity="0.85"/>
<path d="M532.1 429.6l0.9 2.4" stroke="#30083e" stroke-width="1.6" opacity="0.85"/>
<path d="M555.4 437l2.5 -0.9" stroke="#30083e" stroke-width="1.6" opacity="0.85"/>
<path d="M487.7 450.7l-0.2 -1.9" stroke="#401050" stroke-width="1.6" opacity="0.85"/>
<path d="M587.2 439.1l2.2 0.3" stroke="#401050" stroke-width="1.3" opacity="0.85"/>
<path d="M564.6 446.4l1.2 0.6" stroke="#401050" stroke-width="1.6" opacity="0.85"/>
<path d="M589.2 472.2l2.5 1" stroke="#401050" stroke-width="1.4" opacity="0.85"/>
<path d="M508.4 458l1.6 1" stroke="#30083e" stroke-width="1.3" opacity="0.85"/>
<path d="M487.8 467.6l1.4 -1.1" stroke="#401050" stroke-width="1.4" opacity="0.85"/>
<path d="M537 455.2l1.9 0.2" stroke="#401050" stroke-width="1.6" opacity="0.85"/>
<path d="M584.7 469.1l1.5 -1.5" stroke="#401050" stroke-width="1.4" opacity="0.85"/>
<path d="M588.9 452.4l1.5 1.6" stroke="#30083e" stroke-width="1.5" opacity="0.85"/>
<path d="M488.4 432l0.7 -1.3" stroke="#401050" stroke-width="1.6" opacity="0.85"/>
<path d="M568.9 447.5l1.6 1.9" stroke="#30083e" stroke-width="1.2" opacity="0.85"/>
<path d="M575.4 435.8l0.9 2.5" stroke="#401050" stroke-width="1.3" opacity="0.85"/>
<path d="M491.7 468.1l0.8 -1.3" stroke="#401050" stroke-width="1.5" opacity="0.85"/>
<path d="M556.6 440.7l1.4 0.6" stroke="#401050" stroke-width="1.4" opacity="0.85"/>
<path d="M573.5 465.5l1.1 0.5" stroke="#30083e" stroke-width="1.7" opacity="0.85"/>
<path d="M550.6 459.3l2.3 0.8" stroke="#30083e" stroke-width="1.4" opacity="0.85"/>
<path d="M508.5 476.4l1.9 1.7" stroke="#30083e" stroke-width="1.5" opacity="0.85"/>
<path d="M520.6 419.8l-0 1.8" stroke="#401050" stroke-width="1.7" opacity="0.85"/>
<path d="M494.7 417.9l1.5 1.5" stroke="#401050" stroke-width="1.6" opacity="0.85"/>
<path d="M552.6 443l2.6 1" stroke="#30083e" stroke-width="1.5" opacity="0.85"/>
<path d="M501.2 434.2l0.9 -1.6" stroke="#401050" stroke-width="1.7" opacity="0.85"/>
<path d="M572.7 472.3l1.3 1.8" stroke="#401050" stroke-width="1.1" opacity="0.85"/>
<path d="M508.7 444.3l1.7 0.8" stroke="#30083e" stroke-width="1.3" opacity="0.85"/>
<path d="M525.9 467.2l1.7 0.5" stroke="#401050" stroke-width="1.2" opacity="0.85"/>
<path d="M556.7 410.1l1.6 0.7" stroke="#401050" stroke-width="1.5" opacity="0.85"/>
<path d="M547.2 440l1.5 0.5" stroke="#30083e" stroke-width="1.4" opacity="0.85"/>
<path d="M582.8 419.8l0.3 1.3" stroke="#30083e" stroke-width="1.3" opacity="0.85"/>
<path d="M546.4 406.3l0.7 1.4" stroke="#401050" stroke-width="1.3" opacity="0.85"/>
<path d="M535.9 471.2l1.3 0.4" stroke="#30083e" stroke-width="1.6" opacity="0.85"/>
<path d="M527.4 417.1l1.1 1.2" stroke="#30083e" stroke-width="1.6" opacity="0.85"/>
<path d="M542.1 412.2l2.1 0.9" stroke="#30083e" stroke-width="1.3" opacity="0.85"/>
<path d="M539.4 445.7l1.3 0.9" stroke="#401050" stroke-width="1.7" opacity="0.85"/>
<path d="M547.8 407.8l2.4 1.1" stroke="#401050" stroke-width="1.4" opacity="0.85"/>
<path d="M538.8 471l1.9 1.8" stroke="#30083e" stroke-width="1.3" opacity="0.85"/>
<path d="M504.8 449.1l1.2 -1.1" stroke="#30083e" stroke-width="1.6" opacity="0.85"/>
<path d="M564.4 418.7l1.2 0.4" stroke="#30083e" stroke-width="1.2" opacity="0.85"/>
<path d="M552.1 469.2l1.8 1.5" stroke="#30083e" stroke-width="1.1" opacity="0.85"/>
<path d="M519.3 423.9l1.3 0.8" stroke="#401050" stroke-width="1.7" opacity="0.85"/>
<path d="M504.4 416.8l0.8 0.9" stroke="#30083e" stroke-width="1.6" opacity="0.85"/>
<path d="M486.8 445.4l0.2 -1.9" stroke="#30083e" stroke-width="1.6" opacity="0.85"/>
<path d="M501.7 435.1l0.1 -1.6" stroke="#401050" stroke-width="1.1" opacity="0.85"/>
<path d="M510.5 470.6l1.4 -0.2" stroke="#30083e" stroke-width="1.1" opacity="0.85"/>
<path d="M511.2 430.3l2 1.7" stroke="#30083e" stroke-width="1.1" opacity="0.85"/>
<path d="M552.9 411.5l1.7 -0.3" stroke="#30083e" stroke-width="1.5" opacity="0.85"/>
<path d="M579.5 443.7l1.4 2.2" stroke="#401050" stroke-width="1.6" opacity="0.85"/>
<path d="M528.3 444.6l0.2 2" stroke="#401050" stroke-width="1.7" opacity="0.85"/>
<path d="M510.5 409.6l0.2 1.5" stroke="#401050" stroke-width="1.4" opacity="0.85"/>
<path d="M549.5 465.1l1.8 -1.6" stroke="#30083e" stroke-width="1.7" opacity="0.85"/>
<path d="M558 443.8l1.5 0.6" stroke="#30083e" stroke-width="1.3" opacity="0.85"/>
<path d="M506.2 457.3l1.1 -0.4" stroke="#30083e" stroke-width="1.7" opacity="0.85"/>
<path d="M552.2 420.7l1.5 -0.3" stroke="#401050" stroke-width="1.5" opacity="0.85"/>
<path d="M525.4 445.2l1 1" stroke="#401050" stroke-width="1.1" opacity="0.85"/>
<path d="M538 406.8l1.3 0.2" stroke="#401050" stroke-width="1.3" opacity="0.85"/>
<path d="M491.1 406.5l2 1.1" stroke="#30083e" stroke-width="1.6" opacity="0.85"/>
<path d="M580.8 413.5l0.9 1" stroke="#401050" stroke-width="1.7" opacity="0.85"/>
<path d="M493.1 472.4l2.2 -0.5" stroke="#401050" stroke-width="1.3" opacity="0.85"/>
<path d="M563.5 410.7l2 1.4" stroke="#30083e" stroke-width="1.7" opacity="0.85"/>
<path d="M511.4 402.2l2 1" stroke="#30083e" stroke-width="1.7" opacity="0.85"/>
<path d="M546.8 434.5l0.9 1.7" stroke="#401050" stroke-width="1.4" opacity="0.85"/>
<path d="M490.7 435.9l1.9 -1.6" stroke="#401050" stroke-width="1.3" opacity="0.85"/>
<path d="M504.7 434.2l1.7 -2.2" stroke="#30083e" stroke-width="1.5" opacity="0.85"/>
<path d="M508.3 422.2l-0 2.3" stroke="#30083e" stroke-width="1.2" opacity="0.85"/>
<path d="M539.1 407.9l1.9 1.3" stroke="#30083e" stroke-width="1.4" opacity="0.85"/>
<path d="M577.1 445.5l2.3 0.2" stroke="#30083e" stroke-width="1.3" opacity="0.85"/>
<path d="M541.9 412.8l1.3 1.3" stroke="#401050" stroke-width="1.4" opacity="0.85"/>
<path d="M555 403.7l1.4 0.5" stroke="#401050" stroke-width="1.2" opacity="0.85"/>
<path d="M501.5 460l-1.2 -1.1" stroke="#401050" stroke-width="1.4" opacity="0.85"/>
<path d="M518.3 441.3l2.2 -0" stroke="#401050" stroke-width="1.3" opacity="0.85"/>
<path d="M563.9 454.9l1.6 1.7" stroke="#401050" stroke-width="1.3" opacity="0.85"/>
<path d="M529.3 438.3l2.2 -0.7" stroke="#401050" stroke-width="1.5" opacity="0.85"/>
<path d="M512.5 442.9l1.1 0.6" stroke="#401050" stroke-width="1.5" opacity="0.85"/>
<path d="M541.1 403.1l1.3 0.2" stroke="#401050" stroke-width="1.6" opacity="0.85"/>
<path d="M587.5 441l2.2 1.3" stroke="#30083e" stroke-width="1.7" opacity="0.85"/>
<path d="M506.6 407.4l1.8 1.7" stroke="#30083e" stroke-width="1.7" opacity="0.85"/>
<path d="M570.5 405.6l1.4 1.8" stroke="#30083e" stroke-width="1.6" opacity="0.85"/>
<path d="M586.2 415.5l1.7 1" stroke="#30083e" stroke-width="1.2" opacity="0.85"/>
<path d="M558.7 458.9l0.5 1.6" stroke="#30083e" stroke-width="1.6" opacity="0.85"/>
<path d="M510.5 412.2l1.8 0.6" stroke="#30083e" stroke-width="1.4" opacity="0.85"/>
<path d="M556.3 460.3l1.1 1.1" stroke="#30083e" stroke-width="1.5" opacity="0.85"/>
<path d="M489.2 470.4l-0 -1.4" stroke="#30083e" stroke-width="1.6" opacity="0.85"/>
<path d="M521.7 470.7l1.7 1.7" stroke="#401050" stroke-width="1.5" opacity="0.85"/>
<path d="M557.3 436.6l1.7 1.5" stroke="#30083e" stroke-width="1.4" opacity="0.85"/>
<path d="M524.7 459.6l1.9 1.6" stroke="#401050" stroke-width="1.4" opacity="0.85"/>
<path d="M522.9 457.2l2.2 0.2" stroke="#401050" stroke-width="1.2" opacity="0.85"/>
<path d="M498 424.9l1.5 -0.7" stroke="#30083e" stroke-width="1.2" opacity="0.85"/>
<path d="M551.4 413.1l1.9 1.4" stroke="#30083e" stroke-width="1.1" opacity="0.85"/>
<path d="M496.2 434.2l0.6 -1.9" stroke="#30083e" stroke-width="1.4" opacity="0.85"/>
<path d="M565.1 410.5l1.9 0.7" stroke="#401050" stroke-width="1.4" opacity="0.85"/>
<path d="M494.6 417.4l1.1 1.4" stroke="#30083e" stroke-width="1.3" opacity="0.85"/>
<path d="M578.7 458.5l1.1 -0.6" stroke="#401050" stroke-width="1.2" opacity="0.85"/>
<path d="M577.7 406.8l2.3 0.1" stroke="#30083e" stroke-width="1.4" opacity="0.85"/>
<path d="M542.3 412.6l1.7 0.7" stroke="#30083e" stroke-width="1.1" opacity="0.85"/>
<path d="M546.2 406l1.5 -0.4" stroke="#30083e" stroke-width="1.4" opacity="0.85"/>
<path d="M548.2 475.4l2.6 0.1" stroke="#30083e" stroke-width="1.4" opacity="0.85"/>
<path d="M555.8 458.7l2.2 0.5" stroke="#401050" stroke-width="1.4" opacity="0.85"/>
<path d="M530.6 402.4l0.5 1.9" stroke="#401050" stroke-width="1.5" opacity="0.85"/>
<path d="M542.4 463l0.8 1" stroke="#b050a8" stroke-width="1" opacity="0.8"/>
<path d="M544.6 449.3l2.2 0.3" stroke="#b050a8" stroke-width="1.1" opacity="0.8"/>
<path d="M576.6 461.5l1.5 -0.6" stroke="#a83a98" stroke-width="1.1" opacity="0.8"/>
<path d="M501.6 435.6l1.1 -1.6" stroke="#7a2080" stroke-width="1" opacity="0.8"/>
<path d="M525.7 419.1l2.2 -0.9" stroke="#9a3090" stroke-width="1.1" opacity="0.8"/>
<path d="M525.6 413.6l-0.6 2.1" stroke="#7a2080" stroke-width="1.1" opacity="0.8"/>
<path d="M505.9 463l1.3 -1.3" stroke="#7a2080" stroke-width="1.1" opacity="0.8"/>
<path d="M541.2 445.7l1.7 -0.7" stroke="#8a2a8a" stroke-width="1.1" opacity="0.8"/>
<path d="M578.8 416l1.2 0.5" stroke="#401050" stroke-width="1.3" opacity="0.8"/>
<path d="M493.6 415.2l2.2 1.1" stroke="#9a3090" stroke-width="1.1" opacity="0.8"/>
<path d="M498.7 456.5l2.1 0.4" stroke="#7a2080" stroke-width="0.9" opacity="0.8"/>
<path d="M529.6 457.4l1.6 0.4" stroke="#8a2a8a" stroke-width="0.9" opacity="0.8"/>
<path d="M539.9 455.2l2.6 -0.1" stroke="#30083e" stroke-width="1" opacity="0.8"/>
<path d="M511.3 469.8l1.6 -1.5" stroke="#7a2080" stroke-width="1.3" opacity="0.8"/>
<path d="M532.3 464.6l0.5 -1.3" stroke="#30083e" stroke-width="1" opacity="0.8"/>
<path d="M576.7 442.4l2.4 -0.8" stroke="#9a3090" stroke-width="1.4" opacity="0.8"/>
<path d="M520.7 441.2l0.1 1.2" stroke="#30083e" stroke-width="1.4" opacity="0.8"/>
<path d="M508.6 407.2l0.8 1.1" stroke="#a83a98" stroke-width="1.3" opacity="0.8"/>
<path d="M497.4 468.7l1.3 -0.2" stroke="#9a3090" stroke-width="1.1" opacity="0.8"/>
<path d="M527 451.2l0.8 1.8" stroke="#7a2080" stroke-width="1.1" opacity="0.8"/>
<path d="M549.9 428.7l1.1 0.8" stroke="#a83a98" stroke-width="1" opacity="0.8"/>
<path d="M528.5 443.2l1.4 -0.2" stroke="#a83a98" stroke-width="1.1" opacity="0.8"/>
<path d="M542.3 422.5l1 1.5" stroke="#8a2a8a" stroke-width="1.2" opacity="0.8"/>
<path d="M580.3 439.1l-0.5 1.3" stroke="#401050" stroke-width="1.1" opacity="0.8"/>
<path d="M582.4 457.2l1.9 1.4" stroke="#9a3090" stroke-width="1.1" opacity="0.8"/>
<path d="M527.8 411l1.4 1.4" stroke="#30083e" stroke-width="1.1" opacity="0.8"/>
<path d="M502.9 435l0 -1.7" stroke="#a83a98" stroke-width="1" opacity="0.8"/>
<path d="M502.8 462.6l0.3 -1" stroke="#9a3090" stroke-width="1.3" opacity="0.8"/>
<path d="M495.5 416.1l-0.5 1.2" stroke="#9a3090" stroke-width="1" opacity="0.8"/>
<path d="M499.1 463.9l0.5 -1.1" stroke="#a83a98" stroke-width="1" opacity="0.8"/>
<path d="M510.2 424.7l0.6 -1.7" stroke="#9a3090" stroke-width="1.2" opacity="0.8"/>
<path d="M564.2 440.2l0.4 1.3" stroke="#a83a98" stroke-width="1.2" opacity="0.8"/>
<path d="M561.4 457.2l1.3 0.1" stroke="#b050a8" stroke-width="1.1" opacity="0.8"/>
<path d="M502 413.1l-0.3 1" stroke="#b050a8" stroke-width="1" opacity="0.8"/>
<path d="M530.6 462.4l1.7 1.1" stroke="#30083e" stroke-width="1.2" opacity="0.8"/>
<path d="M551.6 442.8l1.2 -0.5" stroke="#7a2080" stroke-width="1.4" opacity="0.8"/>
<path d="M577.1 443.7l1.3 0.6" stroke="#9a3090" stroke-width="1.4" opacity="0.8"/>
<path d="M584.8 412.4l1.9 0.4" stroke="#9a3090" stroke-width="1" opacity="0.8"/>
<path d="M578 472.9l1 -0.6" stroke="#30083e" stroke-width="1.3" opacity="0.8"/>
<path d="M503.5 441l0.9 -1.3" stroke="#b050a8" stroke-width="1.3" opacity="0.8"/>
<path d="M509.4 472.6l1.7 0.9" stroke="#30083e" stroke-width="1.4" opacity="0.8"/>
<path d="M512.7 412.5l1.2 1.8" stroke="#7a2080" stroke-width="1.4" opacity="0.8"/>
<path d="M569.1 471.8l0.6 1.6" stroke="#30083e" stroke-width="0.9" opacity="0.8"/>
<path d="M529.7 440.2l-0 1.3" stroke="#8a2a8a" stroke-width="1" opacity="0.8"/>
<path d="M575.2 424l1.1 1.6" stroke="#9a3090" stroke-width="1.1" opacity="0.8"/>
<path d="M510.4 444.6l0.9 -1.9" stroke="#a83a98" stroke-width="1.1" opacity="0.8"/>
<path d="M499.8 419.2l-1.1 2.2" stroke="#b050a8" stroke-width="1.1" opacity="0.8"/>
<path d="M552.5 424.9l-0.7 1.6" stroke="#b050a8" stroke-width="1.3" opacity="0.8"/>
<path d="M577.9 444l1 -0.5" stroke="#30083e" stroke-width="1" opacity="0.8"/>
<path d="M539.6 474.3l0.9 1.3" stroke="#a83a98" stroke-width="1.3" opacity="0.8"/>
<path d="M554.5 455.2l1.9 0.4" stroke="#30083e" stroke-width="1.2" opacity="0.8"/>
<path d="M536.5 446.5l-0.3 1.1" stroke="#b050a8" stroke-width="0.9" opacity="0.8"/>
<path d="M498.8 468.9l-0.4 -1.5" stroke="#7a2080" stroke-width="1.3" opacity="0.8"/>
<path d="M563.2 455l1.2 0" stroke="#8a2a8a" stroke-width="0.9" opacity="0.8"/>
<path d="M556 417.7l1.6 1" stroke="#a83a98" stroke-width="1.1" opacity="0.8"/>
<path d="M516.1 466.1l2.2 -0.4" stroke="#a83a98" stroke-width="1.2" opacity="0.8"/>
<path d="M516.2 450.4l1.5 0.2" stroke="#b050a8" stroke-width="1.1" opacity="0.8"/>
<path d="M581.2 444.4l1.7 -0.5" stroke="#401050" stroke-width="1" opacity="0.8"/>
<path d="M493.8 407.2l2 0" stroke="#30083e" stroke-width="1.1" opacity="0.8"/>
<path d="M572.9 467.8l1.2 -0.8" stroke="#30083e" stroke-width="1.4" opacity="0.8"/>
<path d="M540.9 471.9l0.8 1" stroke="#b050a8" stroke-width="1.3" opacity="0.8"/>
<path d="M561.6 446.9l1.3 2" stroke="#8a2a8a" stroke-width="1.3" opacity="0.8"/>
<path d="M557 456.7l1.1 -0.7" stroke="#9a3090" stroke-width="1.1" opacity="0.8"/>
<path d="M534.5 461.4l1.3 0.4" stroke="#7a2080" stroke-width="1.4" opacity="0.8"/>
<path d="M543.3 449.6l2 1.3" stroke="#7a2080" stroke-width="1" opacity="0.8"/>
<path d="M581.2 411.5l-2 0.7" stroke="#a83a98" stroke-width="1.1" opacity="0.8"/>
<path d="M580.5 472l1.5 1.7" stroke="#b050a8" stroke-width="1.3" opacity="0.8"/>
<path d="M579.6 439.4l1.2 -0.9" stroke="#30083e" stroke-width="0.9" opacity="0.8"/>
<path d="M538.8 460.4l1.1 0.5" stroke="#30083e" stroke-width="1.2" opacity="0.8"/>
<path d="M535.9 465.8l1.5 0" stroke="#30083e" stroke-width="1" opacity="0.8"/>
<path d="M504.7 440.3l0.5 -1" stroke="#30083e" stroke-width="1" opacity="0.8"/>
<path d="M585.5 436.1l1.3 0.2" stroke="#7a2080" stroke-width="1.1" opacity="0.8"/>
<path d="M518.2 451.9l1.8 -0.8" stroke="#30083e" stroke-width="1.1" opacity="0.8"/>
<path d="M536.6 454.1l-1 1.1" stroke="#b050a8" stroke-width="1.4" opacity="0.8"/>
<path d="M535.6 433.4l2 -0.9" stroke="#9a3090" stroke-width="1.3" opacity="0.8"/>
<path d="M571.7 417l1.4 0.4" stroke="#401050" stroke-width="0.9" opacity="0.8"/>
<path d="M530.3 408.7l1.1 0.5" stroke="#401050" stroke-width="1" opacity="0.8"/>
<path d="M503 459l1.5 -0.8" stroke="#30083e" stroke-width="1.1" opacity="0.8"/>
<path d="M511.9 450.4l1.5 0.4" stroke="#401050" stroke-width="1.1" opacity="0.8"/>
<path d="M561.6 406.2l-0.5 1" stroke="#8a2a8a" stroke-width="1.2" opacity="0.8"/>
<path d="M585.7 453.1l1.1 1" stroke="#8a2a8a" stroke-width="1.2" opacity="0.8"/>
<path d="M517.7 413.4l0 2" stroke="#401050" stroke-width="1.2" opacity="0.8"/>
<path d="M564.5 420.3l1.7 -0.1" stroke="#401050" stroke-width="1.2" opacity="0.8"/>
<path d="M553.6 472l2 0.6" stroke="#30083e" stroke-width="1.3" opacity="0.8"/>
<path d="M580.6 446.9l0.7 1.2" stroke="#b050a8" stroke-width="1.2" opacity="0.8"/>
<path d="M575.3 452.9l1.9 -0.1" stroke="#30083e" stroke-width="1.3" opacity="0.8"/>
<path d="M558.1 460.3l0.8 1.1" stroke="#9a3090" stroke-width="1.2" opacity="0.8"/>
<path d="M516.7 445.3l0.7 0.8" stroke="#8a2a8a" stroke-width="1.1" opacity="0.8"/>
<path d="M511.7 434.8l0.9 1.3" stroke="#8a2a8a" stroke-width="1.2" opacity="0.8"/>
<path d="M526.4 463.1l1.8 0.7" stroke="#b050a8" stroke-width="1.2" opacity="0.8"/>
<path d="M563.8 427.6l1.5 -1.4" stroke="#9a3090" stroke-width="1.1" opacity="0.8"/>
<path d="M575.7 414.5l0.7 1.3" stroke="#b050a8" stroke-width="1.3" opacity="0.8"/>
<path d="M496.2 462.9l0.6 -2.2" stroke="#30083e" stroke-width="1.3" opacity="0.8"/>
<path d="M515.6 453.2l-0.6 1.3" stroke="#401050" stroke-width="1" opacity="0.8"/>
<path d="M519.2 465.3l1 -1" stroke="#7a2080" stroke-width="0.9" opacity="0.8"/>
<path d="M542.3 423.2l1.3 -0.3" stroke="#b050a8" stroke-width="1" opacity="0.8"/>
<path d="M523.4 416.8l1.2 0.2" stroke="#7a2080" stroke-width="1.4" opacity="0.8"/>
<path d="M550 446.2l1 0.8" stroke="#8a2a8a" stroke-width="1.1" opacity="0.8"/>
<path d="M508.5 414.8l-2.1 -0.2" stroke="#30083e" stroke-width="1" opacity="0.8"/>
<path d="M549.5 436.7l0.9 2.2" stroke="#401050" stroke-width="1.2" opacity="0.8"/>
<path d="M547.4 465.1l0.4 -1.8" stroke="#7a2080" stroke-width="1.4" opacity="0.8"/>
<path d="M544.2 408.8l1.2 0.8" stroke="#7a2080" stroke-width="1.3" opacity="0.8"/>
<path d="M585.7 416.6l1.5 0.4" stroke="#30083e" stroke-width="1.1" opacity="0.8"/>
<path d="M505.5 470.6l1.1 0.3" stroke="#9a3090" stroke-width="1.2" opacity="0.8"/>
<path d="M506.6 471.3l1.9 -0.3" stroke="#9a3090" stroke-width="1" opacity="0.8"/>
<path d="M563.2 429.1l0.9 -0.8" stroke="#a83a98" stroke-width="1" opacity="0.8"/>
<path d="M560.8 408.2l1.4 -2" stroke="#a83a98" stroke-width="1.2" opacity="0.8"/>
<path d="M536.4 411.6l1.5 -1.5" stroke="#30083e" stroke-width="1.2" opacity="0.8"/>
<path d="M501.1 417.4l0.7 1.8" stroke="#8a2a8a" stroke-width="1.1" opacity="0.8"/>
<path d="M495.4 459.6l1.7 -1.5" stroke="#9a3090" stroke-width="1.1" opacity="0.8"/>
<path d="M498.6 439.9l-0.1 -1.9" stroke="#9a3090" stroke-width="1" opacity="0.8"/>
<path d="M549.7 441.2l2 0.8" stroke="#401050" stroke-width="1" opacity="0.8"/>
<path d="M523.3 407.1l-0.1 1.9" stroke="#b050a8" stroke-width="0.9" opacity="0.8"/>
<path d="M577.4 462.8l2.3 -1.1" stroke="#7a2080" stroke-width="1.1" opacity="0.8"/>
<path d="M529.1 462.2l0.4 1.5" stroke="#7a2080" stroke-width="1" opacity="0.8"/>
<path d="M540.2 465.7l2.4 0.6" stroke="#b050a8" stroke-width="1.3" opacity="0.8"/>
<path d="M559.1 435.2l2.1 0.2" stroke="#a83a98" stroke-width="1.3" opacity="0.8"/>
<path d="M504 408.4l-0.6 1.1" stroke="#a83a98" stroke-width="1.1" opacity="0.8"/>
<path d="M582.6 444.6l0.4 1.1" stroke="#a83a98" stroke-width="1.3" opacity="0.8"/>
<path d="M560.1 437.6l1.2 -1.4" stroke="#a83a98" stroke-width="1.4" opacity="0.8"/>
<path d="M580.9 447.9l-1 1.5" stroke="#401050" stroke-width="0.9" opacity="0.8"/>
<path d="M577.5 448.8l1.1 1.3" stroke="#a83a98" stroke-width="1.4" opacity="0.8"/>
<path d="M585.1 469.4l1.8 0.7" stroke="#8a2a8a" stroke-width="0.9" opacity="0.8"/>
<path d="M562.9 406.3l1 -0.6" stroke="#a83a98" stroke-width="1.2" opacity="0.8"/>
<path d="M555.9 456.1l1.8 -1.8" stroke="#401050" stroke-width="1.1" opacity="0.8"/>
<path d="M490.8 474.3l1.7 -0.7" stroke="#8a2a8a" stroke-width="1" opacity="0.8"/>
<path d="M573.5 437.9l1.1 -0.1" stroke="#8a2a8a" stroke-width="1.3" opacity="0.8"/>
<path d="M566 451.6l0.4 1.4" stroke="#b050a8" stroke-width="1.2" opacity="0.8"/>
<path d="M526.8 451.3l2.5 0.4" stroke="#7a2080" stroke-width="1.3" opacity="0.8"/>
<path d="M522.6 433.9l1.4 1.1" stroke="#7a2080" stroke-width="1.1" opacity="0.8"/>
<path d="M566.8 423.6l1.8 -1.2" stroke="#b050a8" stroke-width="1.4" opacity="0.8"/>
<path d="M537.2 451.8l0.9 0.7" stroke="#401050" stroke-width="1.2" opacity="0.8"/>
<path d="M491.8 406.5l-0.5 2.1" stroke="#401050" stroke-width="1" opacity="0.8"/>
<path d="M524 434.6l1.3 -1.3" stroke="#7a2080" stroke-width="1.3" opacity="0.8"/>
<path d="M569.6 430.6l1.7 -0.8" stroke="#b050a8" stroke-width="1.2" opacity="0.8"/>
<path d="M507.5 422.7l0.7 0.8" stroke="#a83a98" stroke-width="1.3" opacity="0.8"/>
<path d="M512.5 407.2l-0.1 2.3" stroke="#b050a8" stroke-width="1.1" opacity="0.8"/>
<path d="M577.7 439.3l1.6 0.4" stroke="#7a2080" stroke-width="1.2" opacity="0.8"/>
<path d="M539 461.5l1.4 0.9" stroke="#a83a98" stroke-width="1.1" opacity="0.8"/>
<path d="M565.1 446.4l0.8 1.9" stroke="#b050a8" stroke-width="1.1" opacity="0.8"/>
<path d="M555.1 465.5l1.2 1" stroke="#401050" stroke-width="1.2" opacity="0.8"/>
<path d="M532.9 406.4l1.5 1.1" stroke="#9a3090" stroke-width="1" opacity="0.8"/>
</g></g>
<rect x="492.1" y="406.6" width="93.8" height="67.8" fill="none" stroke="#000" stroke-width="1.4"/>
<clipPath id="cp3"><rect x="388" y="482" width="95.5" height="69.5"/></clipPath>
<g clip-path="url(#cp3)"><g filter="url(#bl)" stroke-linecap="round">
<rect x="386" y="480" width="99.5" height="73.5" fill="#fff"/>
<path d="M448.3 510.4l3.4 -17.6" stroke="#b890d8" stroke-width="2.6" opacity="0.5"/>
<path d="M464.7 510.3l8.4 -20.6" stroke="#c0a0e0" stroke-width="3.1" opacity="0.5"/>
<path d="M485.5 493.7l3.6 -20.1" stroke="#b890d8" stroke-width="4.4" opacity="0.5"/>
<path d="M435.7 507.7l5.3 -11.8" stroke="#c0a0e0" stroke-width="2.8" opacity="0.5"/>
<path d="M470.4 494.6l4.7 -22.4" stroke="#c8a8e8" stroke-width="2.5" opacity="0.5"/>
<path d="M396.9 534.3l13.2 -11.6" stroke="#b890d8" stroke-width="3.4" opacity="0.5"/>
<path d="M412.5 538.6l17.4 -18" stroke="#b890d8" stroke-width="4.1" opacity="0.5"/>
<path d="M457 500.9l0 -19.8" stroke="#c0a0e0" stroke-width="2.6" opacity="0.5"/>
<path d="M474.9 556.7l2.8 -14.2" stroke="#c8a8e8" stroke-width="4.9" opacity="0.5"/>
<path d="M485.3 523.5l-2.1 -16.2" stroke="#c8a8e8" stroke-width="4.5" opacity="0.5"/>
<path d="M395.6 540.1l11.4 -12.4" stroke="#c8a8e8" stroke-width="4.8" opacity="0.5"/>
<path d="M457.6 534.3l8.9 -21.9" stroke="#b890d8" stroke-width="4.1" opacity="0.5"/>
<path d="M473.7 496.3l-2.8 -23.6" stroke="#b890d8" stroke-width="3" opacity="0.5"/>
<path d="M389.1 488.7l17.3 -14.3" stroke="#c0a0e0" stroke-width="4.5" opacity="0.5"/>
<path d="M453.6 516.2l1.3 -24.3" stroke="#c8a8e8" stroke-width="3.7" opacity="0.5"/>
<path d="M468.1 491.3l5.9 -23.1" stroke="#c8a8e8" stroke-width="4" opacity="0.5"/>
<path d="M435.4 541l5.9 -15.1" stroke="#c8a8e8" stroke-width="4.4" opacity="0.5"/>
<path d="M398.1 493.5l13 -10.4" stroke="#c8a8e8" stroke-width="2.8" opacity="0.5"/>
<path d="M401.9 485.1l12.1 -9.6" stroke="#c8a8e8" stroke-width="3.4" opacity="0.5"/>
<path d="M441.8 562.7l3.2 -22" stroke="#c8a8e8" stroke-width="3.2" opacity="0.5"/>
<path d="M482.1 517.1l7.7 -24.3" stroke="#c8a8e8" stroke-width="4.1" opacity="0.5"/>
<path d="M435.4 550.7l4.1 -23.7" stroke="#b890d8" stroke-width="2.7" opacity="0.5"/>
<path d="M407.2 545.3l10.7 -7.3" stroke="#c0a0e0" stroke-width="3.3" opacity="0.5"/>
<path d="M433.1 544.3l5.5 -10.1" stroke="#c8a8e8" stroke-width="3.9" opacity="0.5"/>
<path d="M480.2 510.5l2.1 -10.3" stroke="#b890d8" stroke-width="3.3" opacity="0.5"/>
<path d="M442.5 545.8l5.5 -8.9" stroke="#c0a0e0" stroke-width="4.4" opacity="0.5"/>
<path d="M463.6 553.9l4.9 -13.1" stroke="#8a50b8" stroke-width="0.9" opacity="0.8"/>
<path d="M387.7 545.4l13.9 -6.3" stroke="#6a40a8" stroke-width="1.3" opacity="0.8"/>
<path d="M443.6 526.8l4.3 -15.2" stroke="#8a50b8" stroke-width="0.9" opacity="0.8"/>
<path d="M424.1 511.5l9 -15" stroke="#7a48b0" stroke-width="1.8" opacity="0.8"/>
<path d="M415.5 540.7l9.3 -9.6" stroke="#7a48b0" stroke-width="0.8" opacity="0.8"/>
<path d="M436.3 530.6l6.4 -14.8" stroke="#7a48b0" stroke-width="2.1" opacity="0.8"/>
<path d="M380.6 529l7.7 -4.2" stroke="#9050a8" stroke-width="1.8" opacity="0.8"/>
<path d="M416.1 556.1l7.1 -11.3" stroke="#9050a8" stroke-width="0.9" opacity="0.8"/>
<path d="M387.7 481.8l5.6 -2.2" stroke="#9050a8" stroke-width="1.7" opacity="0.8"/>
<path d="M474.6 512.8l4.8 -13.8" stroke="#7a48b0" stroke-width="2.1" opacity="0.8"/>
<path d="M440.2 502.1l5.5 -16" stroke="#7a48b0" stroke-width="1.9" opacity="0.8"/>
<path d="M454 511.5l2.9 -10.9" stroke="#7a48b0" stroke-width="0.8" opacity="0.8"/>
<path d="M466.8 497.3l4.4 -14.2" stroke="#6a40a8" stroke-width="1" opacity="0.8"/>
<path d="M439.6 529.9l4.7 -8.9" stroke="#5a3098" stroke-width="1.3" opacity="0.8"/>
<path d="M471.4 512.9l1.9 -10.9" stroke="#8a50b8" stroke-width="1.5" opacity="0.8"/>
<path d="M478.3 526.1l1.7 -11.3" stroke="#8a50b8" stroke-width="1" opacity="0.8"/>
<path d="M396.3 555.7l15.2 -4.9" stroke="#8a50b8" stroke-width="1.5" opacity="0.8"/>
<path d="M447.2 492.2l2.1 -9" stroke="#7a48b0" stroke-width="1.1" opacity="0.8"/>
<path d="M420.7 521.8l8.3 -7.8" stroke="#7a48b0" stroke-width="1.5" opacity="0.8"/>
<path d="M434.1 523.9l6.7 -13" stroke="#9050a8" stroke-width="1.2" opacity="0.8"/>
<path d="M380 553.5l10.8 -5.9" stroke="#9050a8" stroke-width="1.3" opacity="0.8"/>
<path d="M479.5 548.5l0.1 -4.1" stroke="#9050a8" stroke-width="1.4" opacity="0.8"/>
<path d="M474.9 545.8l1.3 -6.8" stroke="#8a50b8" stroke-width="1.9" opacity="0.8"/>
<path d="M412.2 504.8l11.9 -13.5" stroke="#7a48b0" stroke-width="1.3" opacity="0.8"/>
<path d="M383.5 520.9l11.1 -8.4" stroke="#7a48b0" stroke-width="2.1" opacity="0.8"/>
<path d="M382.4 487.8l15.1 -6.2" stroke="#7a48b0" stroke-width="1" opacity="0.8"/>
<path d="M459.5 496.9l0.5 -10.3" stroke="#6a40a8" stroke-width="1.4" opacity="0.8"/>
<path d="M390.2 548.2l14.9 -7.2" stroke="#9050a8" stroke-width="2.1" opacity="0.8"/>
<path d="M424.1 539.4l5.4 -9.5" stroke="#6a40a8" stroke-width="1.4" opacity="0.8"/>
<path d="M451.2 497.1l3.2 -7.3" stroke="#8a50b8" stroke-width="1.5" opacity="0.8"/>
<path d="M414 558.1l8.7 -8.9" stroke="#5a3098" stroke-width="0.8" opacity="0.8"/>
<path d="M464.6 498l1.6 -9.1" stroke="#5a3098" stroke-width="2.1" opacity="0.8"/>
<path d="M388.4 533.5l4 -3.7" stroke="#5a3098" stroke-width="0.9" opacity="0.8"/>
<path d="M423 541.3l3.7 -8.5" stroke="#6a40a8" stroke-width="1.7" opacity="0.8"/>
<path d="M483.6 554.6l7.7 -12.1" stroke="#8a50b8" stroke-width="1.9" opacity="0.8"/>
<path d="M432.7 490.9l3.4 -5" stroke="#5a3098" stroke-width="2" opacity="0.8"/>
<path d="M481.5 517.7l0.5 -12.4" stroke="#8a50b8" stroke-width="1.9" opacity="0.8"/>
<path d="M433 555.8l5.1 -12.3" stroke="#7a48b0" stroke-width="1.5" opacity="0.8"/>
<path d="M423.4 504.1l4.7 -7.8" stroke="#8a50b8" stroke-width="1.3" opacity="0.8"/>
<path d="M405.8 537.3l4.5 -2.8" stroke="#6a40a8" stroke-width="2.1" opacity="0.8"/>
<path d="M400.2 539.6l4.3 -3.7" stroke="#7a48b0" stroke-width="2.2" opacity="0.8"/>
<path d="M452.7 536.7l6.5 -13.8" stroke="#6a40a8" stroke-width="1.1" opacity="0.8"/>
<path d="M437.8 535.5l1.3 -4.7" stroke="#9050a8" stroke-width="0.8" opacity="0.8"/>
<path d="M404.5 532.3l6.6 -7.7" stroke="#8a50b8" stroke-width="1.5" opacity="0.8"/>
<path d="M394.2 498l4.2 -2.3" stroke="#9050a8" stroke-width="0.9" opacity="0.8"/>
<path d="M387.1 556.6l10.7 -8.2" stroke="#9050a8" stroke-width="2" opacity="0.8"/>
<path d="M464.1 548.1l0.4 -6.1" stroke="#8a50b8" stroke-width="1.6" opacity="0.8"/>
<path d="M411.5 539.2l7 -3.2" stroke="#5a3098" stroke-width="1.3" opacity="0.8"/>
<path d="M459.9 549.2l4 -17.5" stroke="#8a50b8" stroke-width="2.1" opacity="0.8"/>
<path d="M440.4 531.3l6.1 -15.4" stroke="#9050a8" stroke-width="1.9" opacity="0.8"/>
<path d="M473.8 545.4l1.7 -5.5" stroke="#5a3098" stroke-width="2.2" opacity="0.8"/>
<path d="M450.5 511l8.3 -15.5" stroke="#9050a8" stroke-width="1.3" opacity="0.8"/>
<path d="M405.5 552.6l11.3 -2.9" stroke="#5a3098" stroke-width="0.8" opacity="0.8"/>
<path d="M427.7 511.7l5.5 -9.3" stroke="#8a50b8" stroke-width="1.2" opacity="0.8"/>
<path d="M476.2 497.1l2.5 -10.9" stroke="#8a50b8" stroke-width="1.8" opacity="0.8"/>
<path d="M460.8 491.2l0.8 -6.2" stroke="#5a3098" stroke-width="0.8" opacity="0.8"/>
<path d="M417.6 532l9.6 -15" stroke="#6a40a8" stroke-width="1.2" opacity="0.8"/>
<path d="M395.7 543.4l13.5 -7.4" stroke="#9050a8" stroke-width="1.6" opacity="0.8"/>
<path d="M422.2 501.9l8.5 -11.3" stroke="#9050a8" stroke-width="2.2" opacity="0.8"/>
<path d="M445.3 484.3l1.2 -8.7" stroke="#7a48b0" stroke-width="1.2" opacity="0.8"/>
<path d="M453.5 547.5l2.9 -7.7" stroke="#8a50b8" stroke-width="1.3" opacity="0.8"/>
<path d="M430.3 508.5l3.3 -7.6" stroke="#6a40a8" stroke-width="1.7" opacity="0.8"/>
<path d="M385.9 526.8l7 -3.2" stroke="#9050a8" stroke-width="1" opacity="0.8"/>
<path d="M435.7 527l2.5 -7.2" stroke="#7a48b0" stroke-width="1.9" opacity="0.8"/>
<path d="M449.6 534.3l3.5 -7" stroke="#5a3098" stroke-width="1.2" opacity="0.8"/>
<path d="M440.2 552l8 -15.4" stroke="#9050a8" stroke-width="1.8" opacity="0.8"/>
<path d="M392 528.4l6 -3.8" stroke="#6a40a8" stroke-width="1" opacity="0.8"/>
<path d="M470.5 532.5l-1.5 -11.9" stroke="#6a40a8" stroke-width="1.6" opacity="0.8"/>
<path d="M398.9 486.9l9.8 -6.1" stroke="#6a40a8" stroke-width="2.1" opacity="0.8"/>
<path d="M480.4 534.4l4.3 -16.6" stroke="#5a3098" stroke-width="0.9" opacity="0.8"/>
<path d="M392.5 546.8l7.8 -4.8" stroke="#6a40a8" stroke-width="1.3" opacity="0.8"/>
<path d="M383.9 532.2l10.7 -8.6" stroke="#6a40a8" stroke-width="1.2" opacity="0.8"/>
<path d="M453.7 483.1l1.3 -6.8" stroke="#7a48b0" stroke-width="1.8" opacity="0.8"/>
<path d="M395.2 548.4l7 -3" stroke="#6a40a8" stroke-width="1.9" opacity="0.8"/>
<path d="M378.3 552.8l15.9 -6" stroke="#7a48b0" stroke-width="1.8" opacity="0.8"/>
<path d="M433.1 556.4l3.8 -10" stroke="#9050a8" stroke-width="1.6" opacity="0.8"/>
<path d="M381 488.9l7.5 -7.1" stroke="#9050a8" stroke-width="1.9" opacity="0.8"/>
<path d="M430.6 494.5l4.6 -7.3" stroke="#7a48b0" stroke-width="1.6" opacity="0.8"/>
<path d="M428.7 486.5l10.6 -12.4" stroke="#5a3098" stroke-width="1.1" opacity="0.8"/>
<path d="M456.2 501.5l5.5 -10.9" stroke="#6a40a8" stroke-width="1.6" opacity="0.8"/>
<path d="M409.6 556.4l8.5 -5" stroke="#7a48b0" stroke-width="1" opacity="0.8"/>
<path d="M464 518.2l-0.9 -12.8" stroke="#8a50b8" stroke-width="1.6" opacity="0.8"/>
<path d="M464.9 505.1l3.8 -8.6" stroke="#7a48b0" stroke-width="1.4" opacity="0.8"/>
<path d="M460.6 504l-0.8 -10" stroke="#6a40a8" stroke-width="1.4" opacity="0.8"/>
<path d="M467.5 545.7l1.2 -12.9" stroke="#8a50b8" stroke-width="1.9" opacity="0.8"/>
<path d="M394.3 514l12.7 -9.7" stroke="#9050a8" stroke-width="1.4" opacity="0.8"/>
<path d="M482.9 511.6l5.1 -16.6" stroke="#6a40a8" stroke-width="1.4" opacity="0.8"/>
<path d="M451.3 500.6l0.7 -5.8" stroke="#9050a8" stroke-width="1.4" opacity="0.8"/>
<path d="M415.2 509.7l9.7 -14.7" stroke="#8a50b8" stroke-width="1.1" opacity="0.8"/>
<path d="M421.2 487l5.7 -6.9" stroke="#6a40a8" stroke-width="1" opacity="0.8"/>
<path d="M419.5 526.3l4.5 -6.3" stroke="#6a40a8" stroke-width="1.5" opacity="0.8"/>
<path d="M418.3 515.6l4.4 -5.2" stroke="#6a40a8" stroke-width="2" opacity="0.8"/>
<path d="M425.8 524.3l3.5 -15.2" stroke="#7a48b0" stroke-width="1.4" opacity="0.8"/>
<path d="M392.6 484.1l13.8 -7.5" stroke="#7a48b0" stroke-width="2" opacity="0.8"/>
<path d="M411.4 483.6l10.8 -9.3" stroke="#7a48b0" stroke-width="1.6" opacity="0.8"/>
<path d="M394.2 551.6l13.5 -9.2" stroke="#8a50b8" stroke-width="2.2" opacity="0.8"/>
<path d="M394.2 555.8l9 -3.6" stroke="#5a3098" stroke-width="1.2" opacity="0.8"/>
<path d="M439 491.6l4.7 -9.4" stroke="#8a50b8" stroke-width="1.7" opacity="0.8"/>
<path d="M465.3 507.5l1 -9.3" stroke="#5a3098" stroke-width="1.5" opacity="0.8"/>
<path d="M433.4 530.6l3.5 -6.8" stroke="#8a50b8" stroke-width="1.4" opacity="0.8"/>
<path d="M452.5 557l2.7 -6.3" stroke="#5a3098" stroke-width="0.9" opacity="0.8"/>
<path d="M384.7 548.2l17 -4.5" stroke="#7a48b0" stroke-width="2.1" opacity="0.8"/>
<path d="M433.3 506.4l2.4 -4.5" stroke="#9050a8" stroke-width="1.3" opacity="0.8"/>
<path d="M378.3 491.9l11.7 -10" stroke="#9050a8" stroke-width="1.4" opacity="0.8"/>
<path d="M387.8 533.7l10.1 -5.6" stroke="#5a3098" stroke-width="0.8" opacity="0.8"/>
<path d="M383.8 540.2l12.4 -6.5" stroke="#9050a8" stroke-width="1" opacity="0.8"/>
<path d="M429 555.8l3.4 -8.3" stroke="#7a48b0" stroke-width="1.8" opacity="0.8"/>
<path d="M457.6 560.3l4.4 -11.6" stroke="#8a50b8" stroke-width="2" opacity="0.8"/>
<path d="M383.9 528.1l11 -2.5" stroke="#6a40a8" stroke-width="1.2" opacity="0.8"/>
<path d="M481.5 497l1.4 -14.6" stroke="#6a40a8" stroke-width="1" opacity="0.8"/>
<path d="M386.2 511.3l10.9 -10.4" stroke="#5a3098" stroke-width="1.6" opacity="0.8"/>
<path d="M431.3 556l2.4 -3.6" stroke="#7a48b0" stroke-width="1.6" opacity="0.8"/>
<path d="M453.2 550.3l4.1 -7.9" stroke="#8a50b8" stroke-width="1.6" opacity="0.8"/>
<path d="M395.2 531.4l8.5 -6.1" stroke="#7a48b0" stroke-width="1.1" opacity="0.8"/>
<path d="M396.7 527.4l9.8 -8.8" stroke="#6a40a8" stroke-width="1.9" opacity="0.8"/>
<path d="M449 505.1l3.2 -4.7" stroke="#7a48b0" stroke-width="1.9" opacity="0.8"/>
<path d="M448 508.8l2.8 -6.3" stroke="#8a50b8" stroke-width="0.9" opacity="0.8"/>
<path d="M393.6 547.4l7.9 -3.5" stroke="#6a40a8" stroke-width="1.5" opacity="0.8"/>
<path d="M484.9 502l-2.5 -14.4" stroke="#5a3098" stroke-width="0.9" opacity="0.8"/>
<path d="M408.9 519.6l9.3 -6.1" stroke="#6a40a8" stroke-width="1.3" opacity="0.8"/>
<path d="M384.5 551.4l13.3 -6.4" stroke="#5a3098" stroke-width="2" opacity="0.8"/>
<path d="M419.1 543.5l5.4 -9" stroke="#5a3098" stroke-width="1.4" opacity="0.8"/>
<path d="M401.3 551.9l7.5 -4.6" stroke="#5a3098" stroke-width="1.6" opacity="0.8"/>
<path d="M450.2 516.3l3.2 -10" stroke="#6a40a8" stroke-width="1.3" opacity="0.8"/>
<path d="M446 524.5l2.7 -16.3" stroke="#7a48b0" stroke-width="1.5" opacity="0.8"/>
<path d="M423.6 498.3l2.5 -3.4" stroke="#5a3098" stroke-width="2" opacity="0.8"/>
<path d="M467.6 490.3l2 -8.4" stroke="#8a50b8" stroke-width="2" opacity="0.8"/>
<path d="M467.8 555l3.4 -15.1" stroke="#5a3098" stroke-width="0.9" opacity="0.8"/>
<path d="M393.3 542.1l11.4 -12.6" stroke="#7a48b0" stroke-width="1" opacity="0.8"/>
<path d="M387.2 549.4l10 -6.9" stroke="#6a40a8" stroke-width="2.2" opacity="0.8"/>
<path d="M431.3 543l5.7 -8.6" stroke="#6a40a8" stroke-width="1.7" opacity="0.8"/>
<path d="M477.8 487l3.8 -12.7" stroke="#9050a8" stroke-width="2" opacity="0.8"/>
<path d="M440.4 515.5l1.6 -4.2" stroke="#fff" stroke-width="1" opacity="0.85"/>
<path d="M397.5 513.4l11.1 -8" stroke="#fff" stroke-width="1.5" opacity="0.85"/>
<path d="M471.7 545.5l3.5 -12.7" stroke="#fff" stroke-width="1.4" opacity="0.85"/>
<path d="M410.9 491.6l5.3 -5.1" stroke="#fff" stroke-width="1.4" opacity="0.85"/>
<path d="M426.2 490.3l4.2 -5.6" stroke="#fff" stroke-width="1.4" opacity="0.85"/>
<path d="M460.1 523.2l1.8 -7.3" stroke="#fff" stroke-width="0.8" opacity="0.85"/>
<path d="M390.1 488.8l8.8 -4.5" stroke="#fff" stroke-width="1.1" opacity="0.85"/>
<path d="M424.6 517.5l6.5 -9.5" stroke="#fff" stroke-width="1" opacity="0.85"/>
<path d="M416.8 532.8l3.4 -3.6" stroke="#fff" stroke-width="1.5" opacity="0.85"/>
<path d="M480.6 537.2l1.6 -13.8" stroke="#fff" stroke-width="1.4" opacity="0.85"/>
<path d="M412.7 544.8l6.2 -5.2" stroke="#fff" stroke-width="1.3" opacity="0.85"/>
<path d="M467 530.4l0.9 -7.5" stroke="#fff" stroke-width="1" opacity="0.85"/>
<path d="M475.1 511.8l4.4 -12.9" stroke="#fff" stroke-width="1" opacity="0.85"/>
<path d="M460.2 527.3l2.7 -10.5" stroke="#fff" stroke-width="1.3" opacity="0.85"/>
<path d="M470.9 512.6l1.9 -12.2" stroke="#fff" stroke-width="1.6" opacity="0.85"/>
<path d="M477.8 495.9l1.6 -8.8" stroke="#fff" stroke-width="1.1" opacity="0.85"/>
<path d="M391.5 487.6l8.2 -4" stroke="#fff" stroke-width="1.7" opacity="0.85"/>
<path d="M432.4 548.7l4.4 -12" stroke="#fff" stroke-width="0.8" opacity="0.85"/>
<path d="M388.8 515.9l10.5 -8.8" stroke="#fff" stroke-width="1" opacity="0.85"/>
<path d="M409.4 548.6l5.5 -2.6" stroke="#fff" stroke-width="1.3" opacity="0.85"/>
<path d="M398.6 520.7l8.5 -8.7" stroke="#fff" stroke-width="1.1" opacity="0.85"/>
<path d="M384.7 533.5l9.5 -4.7" stroke="#fff" stroke-width="1.5" opacity="0.85"/>
<path d="M427.4 549.1l2.2 -4.8" stroke="#fff" stroke-width="1.8" opacity="0.85"/>
<path d="M394.6 532l4.1 -2.2" stroke="#fff" stroke-width="1.5" opacity="0.85"/>
<path d="M430.5 520.2l2 -6.1" stroke="#fff" stroke-width="0.8" opacity="0.85"/>
<path d="M395.8 488.2l11.7 -6.7" stroke="#fff" stroke-width="1.2" opacity="0.85"/>
<path d="M388.2 532.7l4.8 -3.7" stroke="#fff" stroke-width="1.5" opacity="0.85"/>
<path d="M409.6 528.8l8.3 -8.5" stroke="#fff" stroke-width="1.5" opacity="0.85"/>
<path d="M474.7 493.3l0.9 -8.9" stroke="#fff" stroke-width="1.6" opacity="0.85"/>
<path d="M474.8 530.9l-1 -13.2" stroke="#fff" stroke-width="1.8" opacity="0.85"/>
<path d="M467.6 509l3.4 -13.2" stroke="#fff" stroke-width="1.7" opacity="0.85"/>
<path d="M428.7 502.9l3.7 -7" stroke="#fff" stroke-width="1.2" opacity="0.85"/>
<path d="M457.4 503.9l1.2 -3.9" stroke="#fff" stroke-width="1.7" opacity="0.85"/>
<path d="M431.7 539l2.5 -4.4" stroke="#fff" stroke-width="1.4" opacity="0.85"/>
<path d="M467.5 539l3.1 -11.7" stroke="#fff" stroke-width="1.6" opacity="0.85"/>
<path d="M442.7 507.9l3.1 -5.6" stroke="#fff" stroke-width="1.7" opacity="0.85"/>
<path d="M469.6 548.3l2.3 -12.1" stroke="#fff" stroke-width="1.2" opacity="0.85"/>
<path d="M420.2 540.9l5 -5.6" stroke="#fff" stroke-width="1.7" opacity="0.85"/>
<path d="M399.6 506.5l7.9 -8" stroke="#fff" stroke-width="1.3" opacity="0.85"/>
<path d="M400.7 494.4l8.8 -8.2" stroke="#fff" stroke-width="1.1" opacity="0.85"/>
<path d="M407.4 521.7l7.8 -5" stroke="#fff" stroke-width="1.2" opacity="0.85"/>
<path d="M407.7 513.7l4.9 -5.7" stroke="#fff" stroke-width="0.8" opacity="0.85"/>
<path d="M478.3 514.8l0.8 -13.7" stroke="#fff" stroke-width="1.4" opacity="0.85"/>
<path d="M450.5 491.2l2.8 -11.2" stroke="#fff" stroke-width="1.1" opacity="0.85"/>
<path d="M476.3 505.6l1.8 -8.5" stroke="#fff" stroke-width="1.8" opacity="0.85"/>
<path d="M440.4 506.1l3.6 -5.4" stroke="#fff" stroke-width="1.1" opacity="0.85"/>
<path d="M468.5 493.4l0.6 -7.2" stroke="#3a2070" stroke-width="1.3" opacity="0.85"/>
<path d="M426.9 488.3l5.9 -7" stroke="#3a2070" stroke-width="1.3" opacity="0.85"/>
<path d="M428.7 517.7l5 -7.1" stroke="#3a2070" stroke-width="1.1" opacity="0.85"/>
<path d="M458.5 556.8l2.1 -9.5" stroke="#3a2070" stroke-width="0.9" opacity="0.85"/>
<path d="M448.8 528.7l1.6 -9" stroke="#3a2070" stroke-width="1.3" opacity="0.85"/>
<path d="M463.5 512.5l4.1 -9.5" stroke="#3a2070" stroke-width="1.3" opacity="0.85"/>
<path d="M432.2 550.3l3.1 -9.6" stroke="#301860" stroke-width="1.4" opacity="0.85"/>
<path d="M442.3 491l4.4 -9.5" stroke="#301860" stroke-width="1.3" opacity="0.85"/>
<path d="M403.4 522.4l6.1 -4.7" stroke="#301860" stroke-width="1.1" opacity="0.85"/>
<path d="M400.5 489.7l8.1 -7.5" stroke="#3a2070" stroke-width="1.2" opacity="0.85"/>
<path d="M442.4 522.8l1.5 -6.4" stroke="#301860" stroke-width="0.8" opacity="0.85"/>
<path d="M421.2 535.8l3.7 -5.5" stroke="#301860" stroke-width="0.9" opacity="0.85"/>
<path d="M453.6 527.6l0.4 -9.5" stroke="#3a2070" stroke-width="1.1" opacity="0.85"/>
<path d="M478.4 485.8l-0.5 -8.1" stroke="#301860" stroke-width="1.3" opacity="0.85"/>
<path d="M446.5 486.2l4 -8.9" stroke="#301860" stroke-width="1.1" opacity="0.85"/>
<path d="M382.5 543l7.8 -3.8" stroke="#301860" stroke-width="1.1" opacity="0.85"/>
<path d="M414.3 503.7l5.6 -7.1" stroke="#301860" stroke-width="1.3" opacity="0.85"/>
<path d="M419.2 522.2l6 -7.9" stroke="#301860" stroke-width="0.8" opacity="0.85"/>
<path d="M403.6 547.1l7.3 -3.1" stroke="#3a2070" stroke-width="1.2" opacity="0.85"/>
<path d="M393.4 530.6l9.4 -5.7" stroke="#301860" stroke-width="1" opacity="0.85"/>
<path d="M424.2 519.1l5.1 -10.6" stroke="#301860" stroke-width="0.8" opacity="0.85"/>
<path d="M403.7 523.3l8.7 -7.6" stroke="#301860" stroke-width="0.7" opacity="0.85"/>
<path d="M379.4 518.4l9 -5.2" stroke="#3a2070" stroke-width="0.9" opacity="0.85"/>
<path d="M392.9 540.2l4.6 -1.1" stroke="#3a2070" stroke-width="0.7" opacity="0.85"/>
<path d="M386.8 555.6l6.2 -1.8" stroke="#3a2070" stroke-width="1" opacity="0.85"/>
<path d="M477.8 513.4l1.6 -9.5" stroke="#3a2070" stroke-width="1.3" opacity="0.85"/>
<path d="M432.9 554.4l3.4 -11.2" stroke="#301860" stroke-width="1.2" opacity="0.85"/>
<path d="M470.6 548l0.3 -7.2" stroke="#301860" stroke-width="1.1" opacity="0.85"/>
<path d="M463.8 530.7l3.6 -8.7" stroke="#3a2070" stroke-width="0.8" opacity="0.85"/>
<path d="M398.4 542.2l9 -7" stroke="#301860" stroke-width="0.8" opacity="0.85"/>
<path d="M458 514.1l2.2 -5.5" stroke="#301860" stroke-width="0.9" opacity="0.85"/>
<path d="M474.3 504.6l2.4 -6.6" stroke="#301860" stroke-width="0.7" opacity="0.85"/>
<path d="M486.1 517.4l2.2 -8.3" stroke="#301860" stroke-width="1" opacity="0.85"/>
<path d="M428.4 532.6l4.1 -5.8" stroke="#3a2070" stroke-width="0.8" opacity="0.85"/>
<path d="M416.1 513.6l4 -4.9" stroke="#3a2070" stroke-width="0.8" opacity="0.85"/>
<path d="M484.4 487.1l-0.2 -10.4" stroke="#301860" stroke-width="0.7" opacity="0.85"/>
<path d="M416.1 489.5l7.1 -7.9" stroke="#301860" stroke-width="0.7" opacity="0.85"/>
<path d="M388.9 533.2l5.3 -4.8" stroke="#3a2070" stroke-width="1.1" opacity="0.85"/>
<path d="M449.1 532.7l1.3 -6.7" stroke="#301860" stroke-width="1" opacity="0.85"/>
<path d="M427.6 550.4l0.6 -1.3" stroke="#281450" stroke-width="1.3" opacity="0.85"/>
<path d="M436.7 535.7l1.6 -1.7" stroke="#281450" stroke-width="1.6" opacity="0.85"/>
<path d="M389.8 508.7l1.1 -2.5" stroke="#341a60" stroke-width="1.3" opacity="0.85"/>
<path d="M407.9 525.8l1 -1.6" stroke="#341a60" stroke-width="1.6" opacity="0.85"/>
<path d="M461.3 526.5l1.5 -1.2" stroke="#281450" stroke-width="1.1" opacity="0.85"/>
<path d="M425.2 553.6l1.5 -0.6" stroke="#281450" stroke-width="1.6" opacity="0.85"/>
<path d="M443.9 544.6l0.4 -2.1" stroke="#281450" stroke-width="1.7" opacity="0.85"/>
<path d="M456.2 528l0.7 -1" stroke="#341a60" stroke-width="1.4" opacity="0.85"/>
<path d="M443.6 509.3l0.8 -1.7" stroke="#281450" stroke-width="1.4" opacity="0.85"/>
<path d="M404.6 532.8l2.2 -0.8" stroke="#341a60" stroke-width="1.5" opacity="0.85"/>
<path d="M467.2 553.1l0.6 -2.4" stroke="#341a60" stroke-width="1.5" opacity="0.85"/>
<path d="M387.4 520.3l0 -1.6" stroke="#281450" stroke-width="1.5" opacity="0.85"/>
<path d="M437.4 481.6l-1.1 -2.1" stroke="#281450" stroke-width="1.4" opacity="0.85"/>
<path d="M479.5 481.4l0.6 -2.5" stroke="#341a60" stroke-width="1.5" opacity="0.85"/>
<path d="M457.8 527.6l0.9 -1" stroke="#341a60" stroke-width="1.6" opacity="0.85"/>
<path d="M463.9 521.4l0.4 -1.9" stroke="#341a60" stroke-width="1.2" opacity="0.85"/>
<path d="M469.9 552.8l-0.2 -1.6" stroke="#341a60" stroke-width="1.5" opacity="0.85"/>
<path d="M451.3 484.6l-1.5 -2.2" stroke="#281450" stroke-width="1.5" opacity="0.85"/>
<path d="M480.4 527l-0 -1.8" stroke="#341a60" stroke-width="1.1" opacity="0.85"/>
<path d="M443.1 482.5l-0.9 -1.3" stroke="#341a60" stroke-width="1.6" opacity="0.85"/>
<path d="M450.2 531.2l2.1 -1.7" stroke="#341a60" stroke-width="1.5" opacity="0.85"/>
<path d="M449 509.5l0.6 -2.6" stroke="#281450" stroke-width="1.7" opacity="0.85"/>
<path d="M429 492.1l2.3 0.3" stroke="#341a60" stroke-width="1.5" opacity="0.85"/>
<path d="M440.9 553.7l0.8 -1.8" stroke="#281450" stroke-width="1.4" opacity="0.85"/>
<path d="M430 548.4l-1.2 -2.3" stroke="#281450" stroke-width="1.2" opacity="0.85"/>
<path d="M473.4 514.6l0.1 -1.6" stroke="#341a60" stroke-width="1.1" opacity="0.85"/>
<path d="M467.1 492.4l0.8 -2.4" stroke="#281450" stroke-width="1.2" opacity="0.85"/>
<path d="M403.3 524.6l0.7 -1" stroke="#281450" stroke-width="1.4" opacity="0.85"/>
<path d="M397.9 541.9l2.1 -0.2" stroke="#341a60" stroke-width="1.2" opacity="0.85"/>
<path d="M399.5 533.5l1.7 -0.8" stroke="#281450" stroke-width="1.5" opacity="0.85"/>
<path d="M444.6 552.2l1.2 -0.8" stroke="#281450" stroke-width="1.7" opacity="0.85"/>
<path d="M469.1 522.7l0.5 -1.9" stroke="#281450" stroke-width="1.5" opacity="0.85"/>
<path d="M393.3 508.7l2.1 -0.3" stroke="#281450" stroke-width="1.5" opacity="0.85"/>
<path d="M388.9 511.1l0.6 -1.7" stroke="#341a60" stroke-width="1.3" opacity="0.85"/>
<path d="M456.7 494.3l-0.2 -2.6" stroke="#281450" stroke-width="1.5" opacity="0.85"/>
<path d="M448.9 521.1l0.6 -1.7" stroke="#341a60" stroke-width="1.5" opacity="0.85"/>
<path d="M471.8 509.4l1.3 -1.3" stroke="#341a60" stroke-width="1.3" opacity="0.85"/>
<path d="M481.6 527l2 -1.5" stroke="#281450" stroke-width="1.2" opacity="0.85"/>
<path d="M417.7 538.5l1.1 -0.7" stroke="#281450" stroke-width="1.5" opacity="0.85"/>
<path d="M382.4 541.2l2 0.6" stroke="#281450" stroke-width="1.7" opacity="0.85"/>
<path d="M386 524.7l0.5 -2.3" stroke="#341a60" stroke-width="1.3" opacity="0.85"/>
<path d="M454.5 510.6l1.7 -0.1" stroke="#281450" stroke-width="1.3" opacity="0.85"/>
<path d="M462 484.4l0.4 -1.8" stroke="#341a60" stroke-width="1.4" opacity="0.85"/>
<path d="M476.6 526.2l-0.3 -1.8" stroke="#341a60" stroke-width="1.2" opacity="0.85"/>
<path d="M456.9 497.9l0.5 -1.5" stroke="#341a60" stroke-width="1.5" opacity="0.85"/>
<path d="M433.1 489.3l1 -2" stroke="#281450" stroke-width="1.4" opacity="0.85"/>
<path d="M408.7 507l1.1 -2.3" stroke="#341a60" stroke-width="1.5" opacity="0.85"/>
<path d="M464.2 514l-2.1 -1.2" stroke="#341a60" stroke-width="1.4" opacity="0.85"/>
<path d="M486.2 543.1l-0.6 -2.5" stroke="#341a60" stroke-width="1.2" opacity="0.85"/>
<path d="M470.6 509.4l0.1 -1.8" stroke="#341a60" stroke-width="1.2" opacity="0.85"/>
<path d="M407.4 533.4l1.9 -1.7" stroke="#341a60" stroke-width="1.5" opacity="0.85"/>
<path d="M394.9 550.9l1.2 0.3" stroke="#341a60" stroke-width="1.2" opacity="0.85"/>
<path d="M430.4 539.3l1.9 -1.4" stroke="#341a60" stroke-width="1.3" opacity="0.85"/>
<path d="M473.8 540.1l-0.2 -1.8" stroke="#281450" stroke-width="1.4" opacity="0.85"/>
<path d="M391.2 500.9l1.9 -1.3" stroke="#281450" stroke-width="1.6" opacity="0.85"/>
<path d="M396.3 528.4l0.8 -2.2" stroke="#341a60" stroke-width="1.2" opacity="0.85"/>
<path d="M422.7 479l1.9 -0.3" stroke="#281450" stroke-width="1.3" opacity="0.85"/>
<path d="M460.6 555.8l-0.3 -2.1" stroke="#281450" stroke-width="1.6" opacity="0.85"/>
<path d="M416 550.6l1.6 1.2" stroke="#341a60" stroke-width="1.5" opacity="0.85"/>
<path d="M454.5 524.1l-0.5 -2.7" stroke="#281450" stroke-width="1.3" opacity="0.85"/>
<path d="M440 483.9l1.4 -1.5" stroke="#281450" stroke-width="1.5" opacity="0.85"/>
<path d="M421.1 523.2l1 -1" stroke="#281450" stroke-width="1.5" opacity="0.85"/>
<path d="M408.9 529.4l2 -1.9" stroke="#281450" stroke-width="1.5" opacity="0.85"/>
<path d="M420 520.1l1.7 -1.1" stroke="#281450" stroke-width="1.7" opacity="0.85"/>
<path d="M421.6 487.3l1.1 -0.6" stroke="#341a60" stroke-width="1.3" opacity="0.85"/>
<path d="M405.7 521.6l1.5 -1.9" stroke="#341a60" stroke-width="1.1" opacity="0.85"/>
<path d="M394 488.6l1.3 0.4" stroke="#281450" stroke-width="1.5" opacity="0.85"/>
<path d="M386.3 551.7l0.4 -1.8" stroke="#341a60" stroke-width="1.2" opacity="0.85"/>
<path d="M427.4 539.2l1.2 -1.2" stroke="#341a60" stroke-width="1.5" opacity="0.85"/>
<path d="M389.1 498.5l2.1 0.1" stroke="#341a60" stroke-width="1.3" opacity="0.85"/>
<path d="M481.9 482.3l0.2 -2.8" stroke="#341a60" stroke-width="1.3" opacity="0.85"/>
<path d="M483.9 502.9l1 -1.9" stroke="#341a60" stroke-width="1.3" opacity="0.85"/>
<path d="M423.4 502.9l1.5 -0.3" stroke="#341a60" stroke-width="1.3" opacity="0.85"/>
<path d="M406.6 530.8l1.3 0.4" stroke="#281450" stroke-width="1.2" opacity="0.85"/>
<path d="M382.9 532.6l2.3 -0.5" stroke="#281450" stroke-width="1.3" opacity="0.85"/>
<path d="M395.4 490.7l2.3 -0.5" stroke="#341a60" stroke-width="1.6" opacity="0.85"/>
<path d="M466.6 481.7l0.8 -2" stroke="#341a60" stroke-width="1.4" opacity="0.85"/>
<path d="M460.6 509.4l-0.2 -1.5" stroke="#341a60" stroke-width="1.4" opacity="0.85"/>
<path d="M384.3 548.2l1.2 -0.7" stroke="#281450" stroke-width="1.4" opacity="0.85"/>
<path d="M476.1 488.6l0.7 -2.3" stroke="#341a60" stroke-width="1.2" opacity="0.85"/>
<path d="M403.6 489.3l2 -0.6" stroke="#341a60" stroke-width="1.7" opacity="0.85"/>
<path d="M473.2 532.7l0.7 -1.9" stroke="#341a60" stroke-width="1.5" opacity="0.85"/>
<path d="M410.1 528.1l1.2 -1.4" stroke="#281450" stroke-width="1.3" opacity="0.85"/>
<path d="M406.8 541l0.9 -1.6" stroke="#341a60" stroke-width="1.6" opacity="0.85"/>
<path d="M445.9 522.8l-0.7 -2.5" stroke="#281450" stroke-width="1.5" opacity="0.85"/>
<path d="M389 545.7l0.8 -2.3" stroke="#341a60" stroke-width="1.4" opacity="0.85"/>
<path d="M386.5 511.7l1.1 -1.5" stroke="#341a60" stroke-width="1.4" opacity="0.85"/>
<path d="M434.5 488.6l1.5 -1.1" stroke="#341a60" stroke-width="1.3" opacity="0.85"/>
<path d="M395.4 540.4l0.9 -1.8" stroke="#281450" stroke-width="1.3" opacity="0.85"/>
<path d="M446.7 517.7l0.6 -2.5" stroke="#341a60" stroke-width="1.5" opacity="0.85"/>
<path d="M411.8 534.4l1 -0.8" stroke="#281450" stroke-width="1.2" opacity="0.85"/>
<path d="M484.4 539.2l0.5 -1.7" stroke="#281450" stroke-width="1.6" opacity="0.85"/>
<path d="M434.8 489.9l2.1 -0.7" stroke="#9050a8" stroke-width="1.1" opacity="0.8"/>
<path d="M396.2 549.9l1.9 -1.7" stroke="#8a50b8" stroke-width="1.2" opacity="0.8"/>
<path d="M424.8 529.7l1.5 -1.7" stroke="#9050a8" stroke-width="1.2" opacity="0.8"/>
<path d="M478.2 487.4l-0.2 -2.3" stroke="#7a48b0" stroke-width="1.2" opacity="0.8"/>
<path d="M479.7 513.2l-1 -1.3" stroke="#5a3098" stroke-width="1.3" opacity="0.8"/>
<path d="M467.8 501l0.9 -1.6" stroke="#281450" stroke-width="1.3" opacity="0.8"/>
<path d="M433.7 505.3l-0.1 -2.5" stroke="#281450" stroke-width="1" opacity="0.8"/>
<path d="M390.5 550.6l1.1 -2.1" stroke="#7a48b0" stroke-width="1.4" opacity="0.8"/>
<path d="M428.4 543.4l1 -1" stroke="#9050a8" stroke-width="1" opacity="0.8"/>
<path d="M463.6 487.8l-1.2 -0.8" stroke="#5a3098" stroke-width="1.2" opacity="0.8"/>
<path d="M427.2 487l-1 -1.3" stroke="#6a40a8" stroke-width="1.2" opacity="0.8"/>
<path d="M465.2 546.1l0.9 -0.5" stroke="#7a48b0" stroke-width="1" opacity="0.8"/>
<path d="M427.3 485.4l1.5 0.3" stroke="#9050a8" stroke-width="1.3" opacity="0.8"/>
<path d="M391 544.5l1.6 -0.3" stroke="#9050a8" stroke-width="1.2" opacity="0.8"/>
<path d="M471.4 531.8l-0.7 -1.8" stroke="#9050a8" stroke-width="1.2" opacity="0.8"/>
<path d="M480.7 499.6l0.5 -1.3" stroke="#5a3098" stroke-width="1" opacity="0.8"/>
<path d="M462.7 535.6l-1 -1.6" stroke="#6a40a8" stroke-width="1.1" opacity="0.8"/>
<path d="M456.4 533.1l1.2 -1.6" stroke="#7a48b0" stroke-width="1.4" opacity="0.8"/>
<path d="M389.8 493.9l2 0.8" stroke="#341a60" stroke-width="1" opacity="0.8"/>
<path d="M474.5 483.4l-1.3 -1.8" stroke="#9050a8" stroke-width="0.9" opacity="0.8"/>
<path d="M480.8 512.5l0.4 -1.4" stroke="#8a50b8" stroke-width="1" opacity="0.8"/>
<path d="M438.8 522l1.2 -0.5" stroke="#7a48b0" stroke-width="1.4" opacity="0.8"/>
<path d="M433.3 552l0.6 -1.9" stroke="#5a3098" stroke-width="1" opacity="0.8"/>
<path d="M444.8 550l2.3 0.4" stroke="#281450" stroke-width="1.3" opacity="0.8"/>
<path d="M409.5 485.5l1.3 -1" stroke="#5a3098" stroke-width="1.3" opacity="0.8"/>
<path d="M423.9 485.8l1.2 -1.2" stroke="#281450" stroke-width="1.1" opacity="0.8"/>
<path d="M475.3 497.3l-0.9 -1.6" stroke="#7a48b0" stroke-width="1.2" opacity="0.8"/>
<path d="M462.9 545.8l1.3 -2.1" stroke="#6a40a8" stroke-width="1.1" opacity="0.8"/>
<path d="M426.2 540.8l0.9 -1.5" stroke="#7a48b0" stroke-width="1.1" opacity="0.8"/>
<path d="M423.8 512.1l1.1 0.7" stroke="#5a3098" stroke-width="1" opacity="0.8"/>
<path d="M419.4 547.5l1.5 -0.3" stroke="#5a3098" stroke-width="1" opacity="0.8"/>
<path d="M477.1 545.1l1.3 -0.7" stroke="#281450" stroke-width="1" opacity="0.8"/>
<path d="M438.9 502.9l1.4 -0.5" stroke="#281450" stroke-width="1" opacity="0.8"/>
<path d="M401.4 547.9l1.4 -0.6" stroke="#9050a8" stroke-width="1.3" opacity="0.8"/>
<path d="M468.3 493.4l0.1 -1.2" stroke="#9050a8" stroke-width="1.3" opacity="0.8"/>
<path d="M476.1 523.8l-0.5 -1.7" stroke="#5a3098" stroke-width="1.4" opacity="0.8"/>
<path d="M443.7 533.9l0.2 -1.1" stroke="#8a50b8" stroke-width="1.2" opacity="0.8"/>
<path d="M445.1 507.7l-0.2 -1.2" stroke="#7a48b0" stroke-width="1.1" opacity="0.8"/>
<path d="M454.4 505.8l1.6 -1.2" stroke="#5a3098" stroke-width="1.1" opacity="0.8"/>
<path d="M412.6 521.9l-1.3 -2" stroke="#341a60" stroke-width="1.1" opacity="0.8"/>
<path d="M403.5 538.4l0.3 -1.4" stroke="#5a3098" stroke-width="1.1" opacity="0.8"/>
<path d="M405.4 489.1l0.1 -2.3" stroke="#7a48b0" stroke-width="1.1" opacity="0.8"/>
<path d="M435.3 490.5l1.1 -1.8" stroke="#6a40a8" stroke-width="1.4" opacity="0.8"/>
<path d="M454.4 523.7l0.4 -2.5" stroke="#8a50b8" stroke-width="0.9" opacity="0.8"/>
<path d="M427.5 507.6l0.9 -1.2" stroke="#8a50b8" stroke-width="1.1" opacity="0.8"/>
<path d="M420.8 532.2l1.2 -1.6" stroke="#5a3098" stroke-width="1.3" opacity="0.8"/>
<path d="M431.2 527.2l-0.6 -1.4" stroke="#9050a8" stroke-width="1.2" opacity="0.8"/>
<path d="M464.8 515.9l-1.2 -2.2" stroke="#6a40a8" stroke-width="1.1" opacity="0.8"/>
<path d="M409.5 501.8l1.7 -1.1" stroke="#8a50b8" stroke-width="1" opacity="0.8"/>
<path d="M481.7 517.6l1.2 -2" stroke="#8a50b8" stroke-width="1.4" opacity="0.8"/>
<path d="M481.2 550.9l1.4 -1.7" stroke="#7a48b0" stroke-width="1.2" opacity="0.8"/>
<path d="M398.6 522.2l1.4 0.8" stroke="#5a3098" stroke-width="1" opacity="0.8"/>
<path d="M392.3 504.3l1.4 -1.2" stroke="#5a3098" stroke-width="1.2" opacity="0.8"/>
<path d="M426.2 489.7l-0.4 -1.4" stroke="#9050a8" stroke-width="1.1" opacity="0.8"/>
<path d="M410.1 488.3l-0.7 -1.6" stroke="#6a40a8" stroke-width="1.1" opacity="0.8"/>
<path d="M461.6 550.1l1.6 -0.4" stroke="#9050a8" stroke-width="1.2" opacity="0.8"/>
<path d="M407.7 512.1l0.9 -1.5" stroke="#5a3098" stroke-width="1.3" opacity="0.8"/>
<path d="M415.9 513.1l0.9 0.6" stroke="#8a50b8" stroke-width="1.4" opacity="0.8"/>
<path d="M416.2 525.7l1.5 0.3" stroke="#6a40a8" stroke-width="1.2" opacity="0.8"/>
<path d="M443 486.9l-0.6 -1.3" stroke="#7a48b0" stroke-width="1.1" opacity="0.8"/>
<path d="M478.3 512.6l1.7 -1.7" stroke="#6a40a8" stroke-width="1.1" opacity="0.8"/>
<path d="M469 525.4l0.1 -2.5" stroke="#5a3098" stroke-width="1.1" opacity="0.8"/>
<path d="M398.2 527.1l-0.1 -2.5" stroke="#7a48b0" stroke-width="1.3" opacity="0.8"/>
<path d="M402.1 513.1l1.7 -1.4" stroke="#6a40a8" stroke-width="1" opacity="0.8"/>
<path d="M417.6 498.7l1.2 -1.4" stroke="#7a48b0" stroke-width="1.3" opacity="0.8"/>
<path d="M435.2 542.2l-0 -1.1" stroke="#9050a8" stroke-width="1" opacity="0.8"/>
<path d="M437.2 495.9l-0.5 -1.7" stroke="#6a40a8" stroke-width="1.2" opacity="0.8"/>
<path d="M393.3 539.5l0.8 -1.3" stroke="#7a48b0" stroke-width="1" opacity="0.8"/>
<path d="M444.9 509.8l0.8 -2" stroke="#5a3098" stroke-width="1.2" opacity="0.8"/>
<path d="M391.2 501.6l1.1 -0.6" stroke="#8a50b8" stroke-width="1.3" opacity="0.8"/>
<path d="M387.3 548.8l1.4 0.2" stroke="#341a60" stroke-width="1" opacity="0.8"/>
<path d="M436.3 526.6l0.7 -1" stroke="#7a48b0" stroke-width="1.1" opacity="0.8"/>
<path d="M437.5 542.4l0.4 -1" stroke="#7a48b0" stroke-width="1.1" opacity="0.8"/>
<path d="M402.2 513.2l1.6 -0.9" stroke="#281450" stroke-width="1.2" opacity="0.8"/>
<path d="M456.1 532.8l0.4 -1" stroke="#341a60" stroke-width="1.3" opacity="0.8"/>
<path d="M469.1 499.1l1.5 -1.4" stroke="#6a40a8" stroke-width="1.3" opacity="0.8"/>
<path d="M433.7 488.1l0.5 -1.1" stroke="#281450" stroke-width="1.2" opacity="0.8"/>
<path d="M453.9 484.6l1.1 0.1" stroke="#5a3098" stroke-width="1.3" opacity="0.8"/>
<path d="M428.2 538.2l-1.5 -2" stroke="#281450" stroke-width="0.9" opacity="0.8"/>
</g></g>
<rect x="388.6" y="482.6" width="94.3" height="68.3" fill="none" stroke="#000" stroke-width="1.4"/>
<clipPath id="cp4"><rect x="491.5" y="482" width="95" height="69.5"/></clipPath>
<g clip-path="url(#cp4)"><g filter="url(#bl)" stroke-linecap="round">
<rect x="489.5" y="480" width="99" height="73.5" fill="#fff"/>
<path d="M503.2 490.2l4.1 11.1" stroke="#c098d8" stroke-width="2.5" opacity="0.5"/>
<path d="M561.7 523.9l10.1 11.6" stroke="#c098d8" stroke-width="3.2" opacity="0.5"/>
<path d="M494.5 471.8l7.9 24.1" stroke="#c888c8" stroke-width="2.8" opacity="0.5"/>
<path d="M518.5 480.9l8.5 9.9" stroke="#c888c8" stroke-width="2.8" opacity="0.5"/>
<path d="M562.4 507.4l19.4 9.1" stroke="#c888c8" stroke-width="4.3" opacity="0.5"/>
<path d="M542.2 511.1l15.2 20" stroke="#d0a8e0" stroke-width="3.9" opacity="0.5"/>
<path d="M544.8 482.4l10.7 1.2" stroke="#c098d8" stroke-width="4.1" opacity="0.5"/>
<path d="M574.6 484.2l16.9 -1.7" stroke="#c888c8" stroke-width="2.9" opacity="0.5"/>
<path d="M507.4 473.7l13.6 19.6" stroke="#c888c8" stroke-width="4" opacity="0.5"/>
<path d="M530.7 499.7l14.8 19" stroke="#d0a8e0" stroke-width="3.6" opacity="0.5"/>
<path d="M537.5 481.1l15.5 6" stroke="#d0a8e0" stroke-width="2.8" opacity="0.5"/>
<path d="M543.2 514.2l12 9.4" stroke="#c098d8" stroke-width="3.7" opacity="0.5"/>
<path d="M554.5 477.4l18.3 3" stroke="#c098d8" stroke-width="3" opacity="0.5"/>
<path d="M492.6 480.9l4.5 9.9" stroke="#d0a8e0" stroke-width="4.7" opacity="0.5"/>
<path d="M551.1 524l13.1 14.4" stroke="#c888c8" stroke-width="3.3" opacity="0.5"/>
<path d="M489.4 488l1.8 12.5" stroke="#c098d8" stroke-width="2.9" opacity="0.5"/>
<path d="M569.3 544.6l14.1 9.3" stroke="#d0a8e0" stroke-width="4.9" opacity="0.5"/>
<path d="M511.4 482.8l8.1 14.3" stroke="#c888c8" stroke-width="4.5" opacity="0.5"/>
<path d="M574.5 510.3l22.5 10" stroke="#d0a8e0" stroke-width="3.7" opacity="0.5"/>
<path d="M533.3 533.4l2.6 12.8" stroke="#d0a8e0" stroke-width="4.6" opacity="0.5"/>
<path d="M519.3 499.2l11 23.5" stroke="#c888c8" stroke-width="3.8" opacity="0.5"/>
<path d="M561.2 497.9l18.8 7.5" stroke="#d0a8e0" stroke-width="4.2" opacity="0.5"/>
<path d="M488.6 482.4l6.4 17.9" stroke="#c098d8" stroke-width="4.6" opacity="0.5"/>
<path d="M494 500.7l0.8 14.1" stroke="#c888c8" stroke-width="4.7" opacity="0.5"/>
<path d="M520 519.5l4.5 18.1" stroke="#c888c8" stroke-width="3.6" opacity="0.5"/>
<path d="M527.1 520.1l10 22.7" stroke="#c888c8" stroke-width="4" opacity="0.5"/>
<path d="M582.5 493.3l15.7 3.3" stroke="#c098d8" stroke-width="4.1" opacity="0.5"/>
<path d="M532.6 482.1l20.3 5.9" stroke="#c098d8" stroke-width="2.6" opacity="0.5"/>
<path d="M528.1 526.6l5.5 10.9" stroke="#c098d8" stroke-width="3.5" opacity="0.5"/>
<path d="M527.6 506.9l7.4 7.6" stroke="#c888c8" stroke-width="3.3" opacity="0.5"/>
<path d="M534.8 492l19.6 12.9" stroke="#d0a8e0" stroke-width="3.7" opacity="0.5"/>
<path d="M553.3 500l7.8 6.8" stroke="#d0a8e0" stroke-width="2.7" opacity="0.5"/>
<path d="M542 526.7l6.3 22.6" stroke="#c098d8" stroke-width="4.3" opacity="0.5"/>
<path d="M525.9 513.3l5.3 9.9" stroke="#c098d8" stroke-width="2.6" opacity="0.5"/>
<path d="M502.4 536.2l2.2 21.6" stroke="#c098d8" stroke-width="4.8" opacity="0.5"/>
<path d="M514.7 473.7l8.4 14.7" stroke="#d0a8e0" stroke-width="3.6" opacity="0.5"/>
<path d="M537.3 530.7l9 23.2" stroke="#c888c8" stroke-width="3" opacity="0.5"/>
<path d="M530.2 491.3l19.6 11.5" stroke="#c098d8" stroke-width="3.5" opacity="0.5"/>
<path d="M541.7 505.7l14.6 10.8" stroke="#d0a8e0" stroke-width="3.6" opacity="0.5"/>
<path d="M490.5 483.2l2 10" stroke="#c098d8" stroke-width="3.4" opacity="0.5"/>
<path d="M485.5 483.4l6 16.4" stroke="#c888c8" stroke-width="3.8" opacity="0.5"/>
<path d="M577 483.1l16.1 3.2" stroke="#c888c8" stroke-width="4.6" opacity="0.5"/>
<path d="M556.7 515.4l14.1 10.3" stroke="#c098d8" stroke-width="3.4" opacity="0.5"/>
<path d="M507.8 473.2l13.7 15.5" stroke="#c888c8" stroke-width="4.2" opacity="0.5"/>
<path d="M564.6 497.8l15.8 6.1" stroke="#c098d8" stroke-width="2.6" opacity="0.5"/>
<path d="M567.4 521.1l15.3 17.2" stroke="#c888c8" stroke-width="3.9" opacity="0.5"/>
<path d="M493.4 481.1l4.7 19.1" stroke="#c098d8" stroke-width="4.5" opacity="0.5"/>
<path d="M581.4 489.9l16.6 -0.7" stroke="#c098d8" stroke-width="4.9" opacity="0.5"/>
<path d="M497.6 530l2 24.8" stroke="#c098d8" stroke-width="4.9" opacity="0.5"/>
<path d="M568 508l10.6 4.8" stroke="#c098d8" stroke-width="3.2" opacity="0.5"/>
<path d="M542.9 517.9l17.4 18.1" stroke="#c888c8" stroke-width="3.5" opacity="0.5"/>
<path d="M509.6 484.1l3.8 14.8" stroke="#7a40a0" stroke-width="1.8" opacity="0.8"/>
<path d="M489.9 474.8l1.1 9.2" stroke="#9048a8" stroke-width="2.2" opacity="0.8"/>
<path d="M539.3 520.6l8.4 9.7" stroke="#8a389a" stroke-width="1.6" opacity="0.8"/>
<path d="M526.9 544.3l5.2 15.4" stroke="#9048a8" stroke-width="1.4" opacity="0.8"/>
<path d="M569.7 534.9l7 9" stroke="#6a3098" stroke-width="1.4" opacity="0.8"/>
<path d="M545.7 536.9l9.1 12.5" stroke="#9048a8" stroke-width="2.2" opacity="0.8"/>
<path d="M578.1 528.4l6.2 3.6" stroke="#9048a8" stroke-width="1.3" opacity="0.8"/>
<path d="M549.7 512.2l6.3 5.3" stroke="#8a389a" stroke-width="1.4" opacity="0.8"/>
<path d="M519.6 517.8l0.1 13.5" stroke="#5a2888" stroke-width="2.2" opacity="0.8"/>
<path d="M520.4 495.6l12.6 10.6" stroke="#6a3098" stroke-width="1.4" opacity="0.8"/>
<path d="M537.1 477.8l7.5 2.4" stroke="#8a389a" stroke-width="1" opacity="0.8"/>
<path d="M571.7 502.3l12.3 4.2" stroke="#6a3098" stroke-width="1.6" opacity="0.8"/>
<path d="M547.9 513.2l5 2.9" stroke="#8a389a" stroke-width="1.3" opacity="0.8"/>
<path d="M569.5 480.9l13.2 -0.7" stroke="#5a2888" stroke-width="1.3" opacity="0.8"/>
<path d="M585.8 497.8l5.5 1" stroke="#6a3098" stroke-width="1.4" opacity="0.8"/>
<path d="M548.3 511.8l5.2 7.5" stroke="#9048a8" stroke-width="1.1" opacity="0.8"/>
<path d="M516.2 488.6l4 6.8" stroke="#6a3098" stroke-width="1.1" opacity="0.8"/>
<path d="M536.2 498.5l6.3 5.1" stroke="#5a2888" stroke-width="1.8" opacity="0.8"/>
<path d="M525.5 480.6l14 8.1" stroke="#6a3098" stroke-width="1.5" opacity="0.8"/>
<path d="M495.7 489.3l1.2 4.4" stroke="#6a3098" stroke-width="1.7" opacity="0.8"/>
<path d="M499 493.2l2.1 7.4" stroke="#7a40a0" stroke-width="1.5" opacity="0.8"/>
<path d="M552.7 502.5l15.2 7.8" stroke="#5a2888" stroke-width="1.2" opacity="0.8"/>
<path d="M514 493.1l6.5 12.5" stroke="#9048a8" stroke-width="2.2" opacity="0.8"/>
<path d="M548.7 501.5l4 2.6" stroke="#5a2888" stroke-width="1.2" opacity="0.8"/>
<path d="M554.7 544.1l4.9 7.8" stroke="#5a2888" stroke-width="1.8" opacity="0.8"/>
<path d="M544.9 541.9l3.1 4" stroke="#5a2888" stroke-width="1" opacity="0.8"/>
<path d="M532.1 506.9l5.2 15" stroke="#6a3098" stroke-width="1" opacity="0.8"/>
<path d="M494.5 508.5l-0.4 11.4" stroke="#8a389a" stroke-width="2.2" opacity="0.8"/>
<path d="M576.3 518l3.5 3.2" stroke="#5a2888" stroke-width="0.8" opacity="0.8"/>
<path d="M490.8 546.1l0.4 8.3" stroke="#7a40a0" stroke-width="1.3" opacity="0.8"/>
<path d="M503.5 503.3l0 12.5" stroke="#9048a8" stroke-width="2" opacity="0.8"/>
<path d="M581 501.3l12.2 4.6" stroke="#5a2888" stroke-width="1.7" opacity="0.8"/>
<path d="M567.2 540.8l3.9 2" stroke="#8a389a" stroke-width="0.9" opacity="0.8"/>
<path d="M517.1 495.4l3.5 11" stroke="#7a40a0" stroke-width="2" opacity="0.8"/>
<path d="M540.9 516.2l13.2 11" stroke="#8a389a" stroke-width="2.2" opacity="0.8"/>
<path d="M558.9 516.2l13.1 6.9" stroke="#8a389a" stroke-width="2.2" opacity="0.8"/>
<path d="M566.2 519.4l10.4 7.3" stroke="#6a3098" stroke-width="1.2" opacity="0.8"/>
<path d="M542.9 491.1l8.8 1.6" stroke="#7a40a0" stroke-width="1.6" opacity="0.8"/>
<path d="M550.3 488.9l3.8 1.5" stroke="#5a2888" stroke-width="1" opacity="0.8"/>
<path d="M562.4 497.6l16.6 1.5" stroke="#5a2888" stroke-width="0.9" opacity="0.8"/>
<path d="M513.6 475.8l6 5.9" stroke="#8a389a" stroke-width="1.8" opacity="0.8"/>
<path d="M578.6 486l7.3 0.3" stroke="#5a2888" stroke-width="1.2" opacity="0.8"/>
<path d="M571.7 529.8l5.4 3.4" stroke="#7a40a0" stroke-width="1.9" opacity="0.8"/>
<path d="M567.5 527.3l8.8 6.6" stroke="#8a389a" stroke-width="1.5" opacity="0.8"/>
<path d="M542.1 506.2l6.9 5.1" stroke="#6a3098" stroke-width="0.8" opacity="0.8"/>
<path d="M505.1 533.8l2 11.2" stroke="#8a389a" stroke-width="2" opacity="0.8"/>
<path d="M535.5 541.7l1.7 3.8" stroke="#7a40a0" stroke-width="1" opacity="0.8"/>
<path d="M499.6 538.2l-0 11.9" stroke="#8a389a" stroke-width="1.9" opacity="0.8"/>
<path d="M517.7 497.1l4.9 10.8" stroke="#9048a8" stroke-width="1.9" opacity="0.8"/>
<path d="M570.3 509.3l7.2 4.5" stroke="#7a40a0" stroke-width="1.5" opacity="0.8"/>
<path d="M519.6 488.1l6.5 5" stroke="#6a3098" stroke-width="1.8" opacity="0.8"/>
<path d="M522.1 545.6l2.1 7.8" stroke="#5a2888" stroke-width="1.1" opacity="0.8"/>
<path d="M537.6 509.6l12.9 11.6" stroke="#6a3098" stroke-width="1.9" opacity="0.8"/>
<path d="M539.6 490.5l13.3 5.6" stroke="#9048a8" stroke-width="2.2" opacity="0.8"/>
<path d="M499.4 501.3l-1.3 10.8" stroke="#5a2888" stroke-width="1.7" opacity="0.8"/>
<path d="M562.5 517.8l3.6 2.3" stroke="#6a3098" stroke-width="2.1" opacity="0.8"/>
<path d="M494.3 516.9l2.2 12.8" stroke="#7a40a0" stroke-width="2" opacity="0.8"/>
<path d="M493.7 539.2l-2 12.2" stroke="#9048a8" stroke-width="1.8" opacity="0.8"/>
<path d="M579.2 493.8l4.3 0.4" stroke="#7a40a0" stroke-width="1.3" opacity="0.8"/>
<path d="M530.6 500.6l8.1 15.7" stroke="#7a40a0" stroke-width="2" opacity="0.8"/>
<path d="M577.8 508.2l9.3 5.2" stroke="#6a3098" stroke-width="1.8" opacity="0.8"/>
<path d="M521.9 542.9l2.5 9.5" stroke="#9048a8" stroke-width="1.8" opacity="0.8"/>
<path d="M579.5 484.5l14.6 4.4" stroke="#6a3098" stroke-width="1.9" opacity="0.8"/>
<path d="M506.1 485l3.5 8.3" stroke="#6a3098" stroke-width="1.5" opacity="0.8"/>
<path d="M557.3 523.4l6.2 2.6" stroke="#9048a8" stroke-width="2.1" opacity="0.8"/>
<path d="M533.5 538l5.4 10.6" stroke="#7a40a0" stroke-width="1.4" opacity="0.8"/>
<path d="M577.5 482.8l10.5 0.6" stroke="#5a2888" stroke-width="2.1" opacity="0.8"/>
<path d="M565.7 488.6l4 0.6" stroke="#6a3098" stroke-width="1.9" opacity="0.8"/>
<path d="M516.6 506.5l0.7 7.6" stroke="#9048a8" stroke-width="1.8" opacity="0.8"/>
<path d="M554 535.9l4.7 3.6" stroke="#7a40a0" stroke-width="1.7" opacity="0.8"/>
<path d="M557.6 481.9l8.5 -0.1" stroke="#6a3098" stroke-width="1.4" opacity="0.8"/>
<path d="M552.3 511.3l14.9 6.2" stroke="#5a2888" stroke-width="2" opacity="0.8"/>
<path d="M553.2 514.4l5.1 2.8" stroke="#8a389a" stroke-width="0.8" opacity="0.8"/>
<path d="M504.4 508l3 12.8" stroke="#9048a8" stroke-width="1.8" opacity="0.8"/>
<path d="M490.9 524.9l-1 5.6" stroke="#5a2888" stroke-width="0.8" opacity="0.8"/>
<path d="M587.1 482l6 1.9" stroke="#5a2888" stroke-width="2.1" opacity="0.8"/>
<path d="M495.1 541.8l-1.8 9.5" stroke="#8a389a" stroke-width="1.1" opacity="0.8"/>
<path d="M535 492.4l3.9 1.2" stroke="#6a3098" stroke-width="1" opacity="0.8"/>
<path d="M538.4 515.4l4.7 4.1" stroke="#8a389a" stroke-width="1.3" opacity="0.8"/>
<path d="M489.7 499.4l-1.9 7" stroke="#7a40a0" stroke-width="0.9" opacity="0.8"/>
<path d="M501.6 476.4l3.1 9.8" stroke="#5a2888" stroke-width="2" opacity="0.8"/>
<path d="M584.3 496.9l6.8 2.1" stroke="#8a389a" stroke-width="1" opacity="0.8"/>
<path d="M552.2 544l10.5 14.1" stroke="#7a40a0" stroke-width="1.1" opacity="0.8"/>
<path d="M535.3 508.7l2.2 4.1" stroke="#7a40a0" stroke-width="0.9" opacity="0.8"/>
<path d="M526.9 528.9l4.9 11.2" stroke="#8a389a" stroke-width="2" opacity="0.8"/>
<path d="M543.5 500.5l4.7 2.1" stroke="#8a389a" stroke-width="1.3" opacity="0.8"/>
<path d="M546.8 531.5l6.2 6.3" stroke="#6a3098" stroke-width="1.4" opacity="0.8"/>
<path d="M538.4 498l8.6 5.9" stroke="#6a3098" stroke-width="1.3" opacity="0.8"/>
<path d="M503.1 538l4.6 15" stroke="#5a2888" stroke-width="1.6" opacity="0.8"/>
<path d="M554.2 479.1l5 1.8" stroke="#9048a8" stroke-width="0.8" opacity="0.8"/>
<path d="M515.2 498.8l0.9 5.4" stroke="#8a389a" stroke-width="0.9" opacity="0.8"/>
<path d="M535.2 526l7.6 8.9" stroke="#9048a8" stroke-width="2.1" opacity="0.8"/>
<path d="M497.3 485.1l3.2 14.1" stroke="#6a3098" stroke-width="1" opacity="0.8"/>
<path d="M551.9 477.2l15.4 2.6" stroke="#5a2888" stroke-width="1.5" opacity="0.8"/>
<path d="M541.2 493.5l4.2 1.8" stroke="#5a2888" stroke-width="2.1" opacity="0.8"/>
<path d="M536.1 526.1l8.8 14.3" stroke="#5a2888" stroke-width="1.6" opacity="0.8"/>
<path d="M580.8 502.8l14 6.2" stroke="#6a3098" stroke-width="2" opacity="0.8"/>
<path d="M532.5 515.4l8.1 12.3" stroke="#6a3098" stroke-width="1.2" opacity="0.8"/>
<path d="M525.7 492.1l13 11" stroke="#6a3098" stroke-width="1.2" opacity="0.8"/>
<path d="M547.8 501.5l4.1 2.3" stroke="#6a3098" stroke-width="1.5" opacity="0.8"/>
<path d="M501.3 486.7l1.3 4.9" stroke="#5a2888" stroke-width="2" opacity="0.8"/>
<path d="M569.6 513.3l4.7 2.8" stroke="#5a2888" stroke-width="1.5" opacity="0.8"/>
<path d="M496.6 530.1l0.9 8" stroke="#7a40a0" stroke-width="1" opacity="0.8"/>
<path d="M573.3 476.6l12.6 4.2" stroke="#6a3098" stroke-width="0.8" opacity="0.8"/>
<path d="M490.9 511.3l1.9 13.7" stroke="#5a2888" stroke-width="1.4" opacity="0.8"/>
<path d="M550.5 499.5l4 2" stroke="#9048a8" stroke-width="1.2" opacity="0.8"/>
<path d="M495.9 504.5l-0.4 9.2" stroke="#9048a8" stroke-width="2.1" opacity="0.8"/>
<path d="M521.5 549.4l0.5 6.3" stroke="#8a389a" stroke-width="2.1" opacity="0.8"/>
<path d="M556.3 497.5l10.8 2.4" stroke="#8a389a" stroke-width="1.3" opacity="0.8"/>
<path d="M508.3 545.3l1.4 8.4" stroke="#9048a8" stroke-width="1.3" opacity="0.8"/>
<path d="M509.3 542.4l0.1 17.1" stroke="#8a389a" stroke-width="2.1" opacity="0.8"/>
<path d="M542.2 521.4l5.1 8" stroke="#6a3098" stroke-width="1.1" opacity="0.8"/>
<path d="M535.1 510.4l13.8 10.2" stroke="#7a40a0" stroke-width="1.9" opacity="0.8"/>
<path d="M561.7 506.5l13.1 3" stroke="#5a2888" stroke-width="0.8" opacity="0.8"/>
<path d="M526.4 492.2l3.3 3.2" stroke="#6a3098" stroke-width="1.3" opacity="0.8"/>
<path d="M550.7 526l7.3 6.1" stroke="#7a40a0" stroke-width="1.2" opacity="0.8"/>
<path d="M495 516.7l1.8 8" stroke="#7a40a0" stroke-width="2.1" opacity="0.8"/>
<path d="M542.1 484.9l16.9 3.5" stroke="#9048a8" stroke-width="2" opacity="0.8"/>
<path d="M520 545.8l0.3 4.1" stroke="#8a389a" stroke-width="1" opacity="0.8"/>
<path d="M552.8 493.2l6.3 3.9" stroke="#8a389a" stroke-width="2.1" opacity="0.8"/>
<path d="M583.6 515.4l13.1 8.1" stroke="#7a40a0" stroke-width="0.9" opacity="0.8"/>
<path d="M512.7 475l7.8 7.3" stroke="#8a389a" stroke-width="0.9" opacity="0.8"/>
<path d="M527.7 485l7.2 3.2" stroke="#6a3098" stroke-width="1" opacity="0.8"/>
<path d="M516.9 550.6l1.6 5.4" stroke="#8a389a" stroke-width="1" opacity="0.8"/>
<path d="M541.8 487.5l5.8 0.6" stroke="#8a389a" stroke-width="1.1" opacity="0.8"/>
<path d="M556.8 478.6l9.6 5.3" stroke="#7a40a0" stroke-width="1.3" opacity="0.8"/>
<path d="M511 536.9l2.2 10.2" stroke="#6a3098" stroke-width="1.3" opacity="0.8"/>
<path d="M550.7 497.1l13.4 7.8" stroke="#9048a8" stroke-width="1.4" opacity="0.8"/>
<path d="M517.9 535.1l7 14.2" stroke="#7a40a0" stroke-width="0.9" opacity="0.8"/>
<path d="M528.6 487.7l12.7 6.9" stroke="#6a3098" stroke-width="1" opacity="0.8"/>
<path d="M506.7 487.5l2 8.1" stroke="#9048a8" stroke-width="1.5" opacity="0.8"/>
<path d="M506.2 471.6l7.1 14" stroke="#9048a8" stroke-width="1.4" opacity="0.8"/>
<path d="M507.5 540.7l5.1 16.9" stroke="#7a40a0" stroke-width="0.9" opacity="0.8"/>
<path d="M502.6 532.8l1.3 13.5" stroke="#6a3098" stroke-width="1.8" opacity="0.8"/>
<path d="M529.6 479.1l7.7 5.5" stroke="#8a389a" stroke-width="2.2" opacity="0.8"/>
<path d="M574.8 517.5l4.6 2.6" stroke="#7a40a0" stroke-width="1.1" opacity="0.8"/>
<path d="M567.7 529.1l9 10.5" stroke="#6a3098" stroke-width="1.5" opacity="0.8"/>
<path d="M537.3 506.8l3.2 3.6" stroke="#9048a8" stroke-width="1.3" opacity="0.8"/>
<path d="M538.9 503.2l9 12.2" stroke="#6a3098" stroke-width="1.3" opacity="0.8"/>
<path d="M548.8 480.7l6.6 3.5" stroke="#9048a8" stroke-width="1.2" opacity="0.8"/>
<path d="M567.5 493l4.2 1.2" stroke="#8a389a" stroke-width="1" opacity="0.8"/>
<path d="M584.5 527.8l13.2 7" stroke="#9048a8" stroke-width="0.9" opacity="0.8"/>
<path d="M522.3 502.7l9.5 14.8" stroke="#9048a8" stroke-width="1.6" opacity="0.8"/>
<path d="M554.7 546.8l6.6 7.3" stroke="#7a40a0" stroke-width="1.6" opacity="0.8"/>
<path d="M551.7 499.4l11.8 7.4" stroke="#8a389a" stroke-width="1.2" opacity="0.8"/>
<path d="M520.4 521.8l4.5 12.4" stroke="#7a40a0" stroke-width="1.4" opacity="0.8"/>
<path d="M572.3 527.9l5.7 2.5" stroke="#5a2888" stroke-width="2.1" opacity="0.8"/>
<path d="M550 500.3l5.7 3.3" stroke="#6a3098" stroke-width="0.8" opacity="0.8"/>
<path d="M556.1 515.2l10.7 5.5" stroke="#7a40a0" stroke-width="1.5" opacity="0.8"/>
<path d="M554.3 501.9l11.8 8.2" stroke="#7a40a0" stroke-width="1.4" opacity="0.8"/>
<path d="M502.6 476.2l8 14.2" stroke="#9048a8" stroke-width="1" opacity="0.8"/>
<path d="M568.1 503.7l8.7 2.5" stroke="#7a40a0" stroke-width="1.1" opacity="0.8"/>
<path d="M488.6 511.6l1.3 16" stroke="#9048a8" stroke-width="2.2" opacity="0.8"/>
<path d="M501.5 509.2l-0.9 7.2" stroke="#6a3098" stroke-width="2.1" opacity="0.8"/>
<path d="M574.3 487.6l15.9 -0.7" stroke="#5a2888" stroke-width="1.4" opacity="0.8"/>
<path d="M584.1 480.6l13.5 9.1" stroke="#6a3098" stroke-width="0.8" opacity="0.8"/>
<path d="M578.9 504.6l6.3 4.4" stroke="#8a389a" stroke-width="1.1" opacity="0.8"/>
<path d="M509.1 484l6.7 7.2" stroke="#6a3098" stroke-width="1.1" opacity="0.8"/>
<path d="M540.2 494.9l5.6 3.5" stroke="#9048a8" stroke-width="1.2" opacity="0.8"/>
<path d="M525.5 480.9l14.2 7.1" stroke="#8a389a" stroke-width="1.9" opacity="0.8"/>
<path d="M509.3 530.4l0.7 8.3" stroke="#9048a8" stroke-width="1.2" opacity="0.8"/>
<path d="M545.9 509.4l14 10.5" stroke="#7a40a0" stroke-width="1.5" opacity="0.8"/>
<path d="M515.6 507.1l1.8 8.2" stroke="#9048a8" stroke-width="1.8" opacity="0.8"/>
<path d="M500 546.9l-0.6 12.7" stroke="#6a3098" stroke-width="2" opacity="0.8"/>
<path d="M524.7 488.8l10 9.2" stroke="#6a3098" stroke-width="1.2" opacity="0.8"/>
<path d="M506.2 514.6l0.8 13.5" stroke="#9048a8" stroke-width="1.5" opacity="0.8"/>
<path d="M549.2 487.3l12.4 4.6" stroke="#9048a8" stroke-width="2" opacity="0.8"/>
<path d="M521.3 510.5l1.9 5.3" stroke="#9048a8" stroke-width="0.8" opacity="0.8"/>
<path d="M546.8 511.1l10.2 10.2" stroke="#7a40a0" stroke-width="1.7" opacity="0.8"/>
<path d="M556.4 477.8l8.3 2.5" stroke="#8a389a" stroke-width="2" opacity="0.8"/>
<path d="M576.4 528.2l7.9 7.9" stroke="#6a3098" stroke-width="1.9" opacity="0.8"/>
<path d="M568.9 485.9l4.3 -0.1" stroke="#6a3098" stroke-width="1.2" opacity="0.8"/>
<path d="M546.1 510l3.5 2.5" stroke="#7a40a0" stroke-width="2.1" opacity="0.8"/>
<path d="M558.6 527.6l4.2 2.8" stroke="#fff" stroke-width="1.8" opacity="0.85"/>
<path d="M557.6 518.2l7.6 4.8" stroke="#fff" stroke-width="1" opacity="0.85"/>
<path d="M564.7 536.5l3.7 2.7" stroke="#fff" stroke-width="1.8" opacity="0.85"/>
<path d="M543.9 530.6l7.8 7" stroke="#fff" stroke-width="1.1" opacity="0.85"/>
<path d="M533 510.6l1.9 3.7" stroke="#fff" stroke-width="0.9" opacity="0.85"/>
<path d="M521.8 522.2l0.9 7" stroke="#fff" stroke-width="1.7" opacity="0.85"/>
<path d="M533.3 508.2l6.8 9.5" stroke="#fff" stroke-width="1.2" opacity="0.85"/>
<path d="M550.1 494.3l4 1.7" stroke="#fff" stroke-width="1.2" opacity="0.85"/>
<path d="M497.7 526.6l1.4 10.4" stroke="#fff" stroke-width="0.9" opacity="0.85"/>
<path d="M525.7 522.3l2.3 4.6" stroke="#fff" stroke-width="1.7" opacity="0.85"/>
<path d="M523 500l6.5 10.9" stroke="#fff" stroke-width="1.4" opacity="0.85"/>
<path d="M567.8 526.7l7.4 4.1" stroke="#fff" stroke-width="1.4" opacity="0.85"/>
<path d="M576.5 493.4l5.9 1.9" stroke="#fff" stroke-width="0.9" opacity="0.85"/>
<path d="M536 503.6l9.5 8.8" stroke="#fff" stroke-width="1.2" opacity="0.85"/>
<path d="M499.2 515.2l0 6.9" stroke="#fff" stroke-width="1" opacity="0.85"/>
<path d="M512.9 491.2l5.7 10.1" stroke="#fff" stroke-width="1.6" opacity="0.85"/>
<path d="M552.5 493.1l9.3 3.4" stroke="#fff" stroke-width="1.8" opacity="0.85"/>
<path d="M558.7 530.3l2.9 3" stroke="#fff" stroke-width="1.1" opacity="0.85"/>
<path d="M563.3 548l2.6 3.1" stroke="#fff" stroke-width="1.5" opacity="0.85"/>
<path d="M564.5 484.8l5.9 1.3" stroke="#fff" stroke-width="1.2" opacity="0.85"/>
<path d="M532.6 543.4l3 6.4" stroke="#fff" stroke-width="1.8" opacity="0.85"/>
<path d="M529 544.8l1.2 10.5" stroke="#fff" stroke-width="1.8" opacity="0.85"/>
<path d="M542.3 514.7l7 6.5" stroke="#fff" stroke-width="1.3" opacity="0.85"/>
<path d="M581.5 520.7l4.9 1.9" stroke="#fff" stroke-width="1.3" opacity="0.85"/>
<path d="M550.2 511.5l10.2 9.3" stroke="#fff" stroke-width="1.8" opacity="0.85"/>
<path d="M519.7 523.4l0.4 5.9" stroke="#fff" stroke-width="0.9" opacity="0.85"/>
<path d="M549.5 483.6l7 3.5" stroke="#fff" stroke-width="1.3" opacity="0.85"/>
<path d="M550.2 529.9l7.8 7.6" stroke="#fff" stroke-width="1.5" opacity="0.85"/>
<path d="M559.9 531.4l7.6 5.5" stroke="#fff" stroke-width="1.2" opacity="0.85"/>
<path d="M526.7 528.7l2.2 7.6" stroke="#fff" stroke-width="1.3" opacity="0.85"/>
<path d="M503.2 512l0.5 7.7" stroke="#fff" stroke-width="1.2" opacity="0.85"/>
<path d="M512.9 485l4.5 5.4" stroke="#fff" stroke-width="1.3" opacity="0.85"/>
<path d="M545.8 497.5l5.4 2.3" stroke="#fff" stroke-width="1.2" opacity="0.85"/>
<path d="M499.7 487.5l4.8 12" stroke="#fff" stroke-width="1.1" opacity="0.85"/>
<path d="M565.7 537.3l9 6.1" stroke="#fff" stroke-width="0.9" opacity="0.85"/>
<path d="M579.4 541.6l8.9 9.7" stroke="#fff" stroke-width="1.8" opacity="0.85"/>
<path d="M539.6 516l3 3.5" stroke="#fff" stroke-width="1.1" opacity="0.85"/>
<path d="M498.9 505.7l1.5 13.6" stroke="#fff" stroke-width="1.4" opacity="0.85"/>
<path d="M564.2 491l10.7 4.1" stroke="#fff" stroke-width="1.2" opacity="0.85"/>
<path d="M573.1 540.5l5.6 4.4" stroke="#fff" stroke-width="0.9" opacity="0.85"/>
<path d="M522.1 527.1l2.3 13.3" stroke="#fff" stroke-width="1.3" opacity="0.85"/>
<path d="M561.3 486.6l11.4 2.5" stroke="#fff" stroke-width="1.8" opacity="0.85"/>
<path d="M538.6 537.6l2 4.9" stroke="#fff" stroke-width="1.4" opacity="0.85"/>
<path d="M563.3 491.1l12.9 3.5" stroke="#fff" stroke-width="1.4" opacity="0.85"/>
<path d="M509.3 490.2l3.9 6.9" stroke="#fff" stroke-width="1" opacity="0.85"/>
<path d="M532.8 523.5l4.3 7.7" stroke="#fff" stroke-width="1.2" opacity="0.85"/>
<path d="M557.9 510.1l5.3 4.5" stroke="#fff" stroke-width="1" opacity="0.85"/>
<path d="M527.3 481.9l5.4 2.6" stroke="#fff" stroke-width="1.6" opacity="0.85"/>
<path d="M552.6 518.4l6.8 6.6" stroke="#fff" stroke-width="1.4" opacity="0.85"/>
<path d="M547.9 536.5l6.2 6" stroke="#fff" stroke-width="1.7" opacity="0.85"/>
<path d="M549 483.4l4.5 1.6" stroke="#fff" stroke-width="1.1" opacity="0.85"/>
<path d="M541.6 500.4l7.3 4.5" stroke="#fff" stroke-width="1.4" opacity="0.85"/>
<path d="M560.8 529.3l10.7 6.4" stroke="#fff" stroke-width="1.3" opacity="0.85"/>
<path d="M574.3 543.8l4.7 2.9" stroke="#fff" stroke-width="1.6" opacity="0.85"/>
<path d="M544.6 503.3l6.7 4.9" stroke="#fff" stroke-width="1.3" opacity="0.85"/>
<path d="M541.9 526.7l8 8.8" stroke="#fff" stroke-width="1.5" opacity="0.85"/>
<path d="M553.9 481.7l6.7 2.3" stroke="#fff" stroke-width="1.3" opacity="0.85"/>
<path d="M548.6 529.1l6 6" stroke="#fff" stroke-width="1.3" opacity="0.85"/>
<path d="M499.4 522.7l0.2 8.1" stroke="#fff" stroke-width="1.8" opacity="0.85"/>
<path d="M568.9 512.1l10.8 4.5" stroke="#fff" stroke-width="1.6" opacity="0.85"/>
<path d="M556.8 547.5l8.2 7.3" stroke="#301450" stroke-width="0.7" opacity="0.85"/>
<path d="M528.6 513.9l2.6 5.6" stroke="#3a1860" stroke-width="1.2" opacity="0.85"/>
<path d="M558.5 532.8l9.5 6.8" stroke="#3a1860" stroke-width="1.2" opacity="0.85"/>
<path d="M512.5 493.7l3.7 6.1" stroke="#3a1860" stroke-width="1.1" opacity="0.85"/>
<path d="M554 479.2l5.1 2.4" stroke="#3a1860" stroke-width="1" opacity="0.85"/>
<path d="M521.2 515.1l0.5 7.1" stroke="#3a1860" stroke-width="1" opacity="0.85"/>
<path d="M521.9 501.3l2.4 4.5" stroke="#301450" stroke-width="0.8" opacity="0.85"/>
<path d="M578 489.1l7.7 2.1" stroke="#3a1860" stroke-width="0.8" opacity="0.85"/>
<path d="M543.3 533.1l3.8 4.3" stroke="#301450" stroke-width="1" opacity="0.85"/>
<path d="M514.4 518.6l1 6.6" stroke="#301450" stroke-width="0.9" opacity="0.85"/>
<path d="M516.3 544.8l0.6 4" stroke="#3a1860" stroke-width="1.3" opacity="0.85"/>
<path d="M526.1 498.6l5 4.8" stroke="#3a1860" stroke-width="1.3" opacity="0.85"/>
<path d="M580.2 552l9.6 5.9" stroke="#301450" stroke-width="1.1" opacity="0.85"/>
<path d="M569.4 498.3l9.1 4.7" stroke="#3a1860" stroke-width="0.7" opacity="0.85"/>
<path d="M504.6 552.8l-0.2 4.2" stroke="#3a1860" stroke-width="0.9" opacity="0.85"/>
<path d="M492.9 474.3l1.8 9.7" stroke="#3a1860" stroke-width="1.4" opacity="0.85"/>
<path d="M512.6 543.8l0.4 11.8" stroke="#301450" stroke-width="1.1" opacity="0.85"/>
<path d="M511.3 496.9l3.5 9" stroke="#301450" stroke-width="0.8" opacity="0.85"/>
<path d="M490.1 481.2l3.5 11" stroke="#3a1860" stroke-width="1.2" opacity="0.85"/>
<path d="M506.2 496.8l2.5 7.1" stroke="#3a1860" stroke-width="1" opacity="0.85"/>
<path d="M556.1 549.1l3.6 3.6" stroke="#301450" stroke-width="1.1" opacity="0.85"/>
<path d="M493.9 494.8l-0.2 4.2" stroke="#301450" stroke-width="0.9" opacity="0.85"/>
<path d="M580.3 486.6l4.7 -0.2" stroke="#301450" stroke-width="0.8" opacity="0.85"/>
<path d="M515.6 549.5l1.1 4.4" stroke="#301450" stroke-width="1.1" opacity="0.85"/>
<path d="M506.7 501.2l2.5 9.9" stroke="#3a1860" stroke-width="1.2" opacity="0.85"/>
<path d="M545.2 478.8l8.6 1.5" stroke="#3a1860" stroke-width="1.1" opacity="0.85"/>
<path d="M534.3 511.2l5.5 9.1" stroke="#301450" stroke-width="1.2" opacity="0.85"/>
<path d="M497.7 488.2l1.7 8.7" stroke="#3a1860" stroke-width="0.8" opacity="0.85"/>
<path d="M584 494.8l5.7 2" stroke="#3a1860" stroke-width="0.7" opacity="0.85"/>
<path d="M524.5 542.4l2.4 11.5" stroke="#301450" stroke-width="0.8" opacity="0.85"/>
<path d="M575.5 519.3l6.5 3.9" stroke="#3a1860" stroke-width="1.2" opacity="0.85"/>
<path d="M493.2 546.6l0.6 6.4" stroke="#3a1860" stroke-width="1.2" opacity="0.85"/>
<path d="M571.4 482.3l7.4 0.1" stroke="#301450" stroke-width="1.4" opacity="0.85"/>
<path d="M524.5 505.6l5.5 7.6" stroke="#301450" stroke-width="1" opacity="0.85"/>
<path d="M553.5 515.5l5.4 4.1" stroke="#301450" stroke-width="1.3" opacity="0.85"/>
<path d="M531.8 526.2l2.4 4.4" stroke="#301450" stroke-width="0.8" opacity="0.85"/>
<path d="M566.6 505.6l6.9 1.4" stroke="#3a1860" stroke-width="1.2" opacity="0.85"/>
<path d="M523.5 486.6l6.1 4.8" stroke="#301450" stroke-width="1" opacity="0.85"/>
<path d="M579.1 517l4.7 1.9" stroke="#3a1860" stroke-width="1.1" opacity="0.85"/>
<path d="M487.1 540.8l0.3 7.9" stroke="#301450" stroke-width="1" opacity="0.85"/>
<path d="M572.7 539.6l4.1 2.6" stroke="#3a1860" stroke-width="0.8" opacity="0.85"/>
<path d="M574.7 516.4l8 4.5" stroke="#301450" stroke-width="1.2" opacity="0.85"/>
<path d="M540 552.2l3.5 4.8" stroke="#301450" stroke-width="1.3" opacity="0.85"/>
<path d="M583.5 498.9l8.9 5.2" stroke="#3a1860" stroke-width="1.1" opacity="0.85"/>
<path d="M575.5 546.7l9.4 5.3" stroke="#301450" stroke-width="1.2" opacity="0.85"/>
<path d="M568.9 502l9.6 4.4" stroke="#301450" stroke-width="1.1" opacity="0.85"/>
<path d="M581.5 477.6l8.6 2.9" stroke="#3a1860" stroke-width="0.8" opacity="0.85"/>
<path d="M554.3 542.3l3.3 3.8" stroke="#3a1860" stroke-width="1" opacity="0.85"/>
<path d="M553.6 528.8l5.4 7.4" stroke="#3a1860" stroke-width="1.3" opacity="0.85"/>
<path d="M580.3 508.6l7.2 2.5" stroke="#301450" stroke-width="0.9" opacity="0.85"/>
<path d="M534.4 522.9l7.6 8.2" stroke="#301450" stroke-width="0.9" opacity="0.85"/>
<path d="M548.4 549.9l1.5 1.9" stroke="#321858" stroke-width="1.1" opacity="0.85"/>
<path d="M575.4 526.3l2.2 0.7" stroke="#281048" stroke-width="1.2" opacity="0.85"/>
<path d="M519.5 494l0.9 1.5" stroke="#321858" stroke-width="1.2" opacity="0.85"/>
<path d="M487 501.7l1.4 1.3" stroke="#321858" stroke-width="1.5" opacity="0.85"/>
<path d="M537.5 553.7l0.6 2.5" stroke="#281048" stroke-width="1.4" opacity="0.85"/>
<path d="M566.3 478.6l2.3 1.4" stroke="#281048" stroke-width="1.1" opacity="0.85"/>
<path d="M494 545.7l-0.2 2.1" stroke="#321858" stroke-width="1.4" opacity="0.85"/>
<path d="M576.5 539.4l1.8 1.2" stroke="#281048" stroke-width="1.6" opacity="0.85"/>
<path d="M521.5 526.1l-0.6 1.8" stroke="#281048" stroke-width="1.4" opacity="0.85"/>
<path d="M587.2 528l2 1.4" stroke="#321858" stroke-width="1.6" opacity="0.85"/>
<path d="M523 501.9l2.1 1.1" stroke="#281048" stroke-width="1.1" opacity="0.85"/>
<path d="M547.1 541.4l1.9 0.9" stroke="#281048" stroke-width="1.1" opacity="0.85"/>
<path d="M573.8 536.4l1.5 0.5" stroke="#281048" stroke-width="1.5" opacity="0.85"/>
<path d="M549.4 519.8l2.5 1.1" stroke="#321858" stroke-width="1.3" opacity="0.85"/>
<path d="M500.4 497.9l-1 1.4" stroke="#281048" stroke-width="1.4" opacity="0.85"/>
<path d="M555 513.4l1.8 0.6" stroke="#321858" stroke-width="1.3" opacity="0.85"/>
<path d="M500 518.9l-2.4 -0.1" stroke="#321858" stroke-width="1.1" opacity="0.85"/>
<path d="M549.5 521.4l0.8 2.2" stroke="#281048" stroke-width="1.4" opacity="0.85"/>
<path d="M551.1 547.7l1.3 0.4" stroke="#281048" stroke-width="1.6" opacity="0.85"/>
<path d="M501.2 522.8l0.1 2.1" stroke="#321858" stroke-width="1.4" opacity="0.85"/>
<path d="M515.8 491.9l2.3 1.3" stroke="#281048" stroke-width="1.4" opacity="0.85"/>
<path d="M520.3 536.5l-0.6 1.5" stroke="#321858" stroke-width="1.3" opacity="0.85"/>
<path d="M502.1 506.8l-0.4 2.4" stroke="#321858" stroke-width="1.5" opacity="0.85"/>
<path d="M512.2 486.5l2 0.6" stroke="#281048" stroke-width="1.1" opacity="0.85"/>
<path d="M544.7 497.3l0.8 0.9" stroke="#281048" stroke-width="1.1" opacity="0.85"/>
<path d="M581.1 526.5l0.3 1.5" stroke="#281048" stroke-width="1.5" opacity="0.85"/>
<path d="M532.8 514.2l0.7 2.6" stroke="#281048" stroke-width="1.4" opacity="0.85"/>
<path d="M517.6 505.8l0 2.1" stroke="#321858" stroke-width="1.6" opacity="0.85"/>
<path d="M572.1 478l0.9 1.1" stroke="#321858" stroke-width="1.2" opacity="0.85"/>
<path d="M578.8 552.6l0.2 2.4" stroke="#321858" stroke-width="1.4" opacity="0.85"/>
<path d="M517.8 491.4l0.4 2.2" stroke="#281048" stroke-width="1.1" opacity="0.85"/>
<path d="M561.3 487.3l1.2 0.8" stroke="#321858" stroke-width="1.2" opacity="0.85"/>
<path d="M517.7 522.5l-0.2 1.4" stroke="#321858" stroke-width="1.6" opacity="0.85"/>
<path d="M510.8 529.7l-0.7 2.5" stroke="#281048" stroke-width="1.4" opacity="0.85"/>
<path d="M520.7 488.4l1.2 2.2" stroke="#281048" stroke-width="1.6" opacity="0.85"/>
<path d="M567.3 536.7l0.4 1.2" stroke="#281048" stroke-width="1.2" opacity="0.85"/>
<path d="M568.6 485.3l1.2 -0.7" stroke="#321858" stroke-width="1.2" opacity="0.85"/>
<path d="M562.5 541.9l1.3 0.6" stroke="#281048" stroke-width="1.4" opacity="0.85"/>
<path d="M495.1 499.3l0.5 1.7" stroke="#321858" stroke-width="1.5" opacity="0.85"/>
<path d="M486.9 489.4l-0.3 2.5" stroke="#281048" stroke-width="1.3" opacity="0.85"/>
<path d="M516.5 532.9l-1.1 1.5" stroke="#321858" stroke-width="1.3" opacity="0.85"/>
<path d="M549.4 501.4l1.8 0.6" stroke="#321858" stroke-width="1.5" opacity="0.85"/>
<path d="M488.3 516.4l0 1.6" stroke="#321858" stroke-width="1.1" opacity="0.85"/>
<path d="M513.3 520.5l-0.6 1.8" stroke="#321858" stroke-width="1.5" opacity="0.85"/>
<path d="M493.8 487.7l0.8 2.7" stroke="#321858" stroke-width="1.2" opacity="0.85"/>
<path d="M536.6 486.3l0.6 1" stroke="#321858" stroke-width="1.5" opacity="0.85"/>
<path d="M535.6 523.8l1.9 1" stroke="#321858" stroke-width="1.2" opacity="0.85"/>
<path d="M576.6 482.3l1.2 1.2" stroke="#281048" stroke-width="1.2" opacity="0.85"/>
<path d="M489.1 513.1l-0.7 1.4" stroke="#321858" stroke-width="1.3" opacity="0.85"/>
<path d="M588.5 516.4l2.3 0.6" stroke="#281048" stroke-width="1.3" opacity="0.85"/>
<path d="M543.7 497.9l0 1.6" stroke="#321858" stroke-width="1.5" opacity="0.85"/>
<path d="M575.3 551.7l1.8 1.2" stroke="#321858" stroke-width="1.2" opacity="0.85"/>
<path d="M551.9 490.6l2 1.2" stroke="#281048" stroke-width="1.3" opacity="0.85"/>
<path d="M546.8 515.5l1.4 1.5" stroke="#321858" stroke-width="1.4" opacity="0.85"/>
<path d="M524.1 495l1.6 0.6" stroke="#281048" stroke-width="1.3" opacity="0.85"/>
<path d="M497.2 540.1l2.1 0.7" stroke="#281048" stroke-width="1.6" opacity="0.85"/>
<path d="M526.3 538.2l0.6 2" stroke="#321858" stroke-width="1.2" opacity="0.85"/>
<path d="M518.5 478.3l1.7 1" stroke="#281048" stroke-width="1.2" opacity="0.85"/>
<path d="M550.5 531l1 2.1" stroke="#281048" stroke-width="1.7" opacity="0.85"/>
<path d="M584.3 482.4l2.8 -0" stroke="#321858" stroke-width="1.3" opacity="0.85"/>
<path d="M500.1 521.3l1.5 1.9" stroke="#321858" stroke-width="1.3" opacity="0.85"/>
<path d="M510.3 537.8l-0.8 1.8" stroke="#281048" stroke-width="1.7" opacity="0.85"/>
<path d="M498.2 531.4l1 1.8" stroke="#281048" stroke-width="1.3" opacity="0.85"/>
<path d="M564.7 496.1l0.7 1.8" stroke="#321858" stroke-width="1.4" opacity="0.85"/>
<path d="M534.5 478.5l1.5 1.7" stroke="#321858" stroke-width="1.3" opacity="0.85"/>
<path d="M543.5 509.7l1.7 1.5" stroke="#321858" stroke-width="1.3" opacity="0.85"/>
<path d="M570 535.8l1.3 2" stroke="#281048" stroke-width="1.3" opacity="0.85"/>
<path d="M561.5 493l1.8 0.1" stroke="#281048" stroke-width="1.5" opacity="0.85"/>
<path d="M489.5 527.7l-1 0.8" stroke="#321858" stroke-width="1.4" opacity="0.85"/>
<path d="M526.7 546.8l0.3 1.6" stroke="#281048" stroke-width="1.2" opacity="0.85"/>
<path d="M576.6 524.5l1.8 -0.2" stroke="#281048" stroke-width="1.7" opacity="0.85"/>
<path d="M573.4 505.9l1.9 1.4" stroke="#281048" stroke-width="1.7" opacity="0.85"/>
<path d="M553.3 531.3l1.6 2.2" stroke="#281048" stroke-width="1.3" opacity="0.85"/>
<path d="M555 489.6l2.2 0.3" stroke="#321858" stroke-width="1.2" opacity="0.85"/>
<path d="M501 538.5l0.2 1.6" stroke="#281048" stroke-width="1.6" opacity="0.85"/>
<path d="M550.5 545l1.8 1.8" stroke="#281048" stroke-width="1.2" opacity="0.85"/>
<path d="M510 516.8l-0.4 2.8" stroke="#281048" stroke-width="1.4" opacity="0.85"/>
<path d="M488 528.9l-0.4 1.3" stroke="#321858" stroke-width="1.3" opacity="0.85"/>
<path d="M567.7 495.7l2.2 -0.5" stroke="#281048" stroke-width="1.2" opacity="0.85"/>
<path d="M530.4 493.9l-0.5 2.3" stroke="#321858" stroke-width="1.3" opacity="0.85"/>
<path d="M505.2 480.5l-0.1 1.4" stroke="#321858" stroke-width="1.2" opacity="0.85"/>
<path d="M590.5 539.8l0.9 1.4" stroke="#281048" stroke-width="1.2" opacity="0.85"/>
<path d="M534.3 516.8l0.8 2.4" stroke="#321858" stroke-width="1.7" opacity="0.85"/>
<path d="M488.6 513.7l0.3 2.4" stroke="#281048" stroke-width="1.3" opacity="0.85"/>
<path d="M489.3 480.9l1 1" stroke="#281048" stroke-width="1.7" opacity="0.85"/>
<path d="M563.5 505.3l2.4 -0.1" stroke="#321858" stroke-width="1.2" opacity="0.85"/>
<path d="M535.9 508l1.3 0.9" stroke="#321858" stroke-width="1.4" opacity="0.85"/>
<path d="M534.3 504.5l1.5 0.2" stroke="#321858" stroke-width="1.4" opacity="0.85"/>
<path d="M557.3 481.7l2 0.1" stroke="#321858" stroke-width="1.2" opacity="0.85"/>
<path d="M497.9 554.1l0.4 1.3" stroke="#321858" stroke-width="1.6" opacity="0.85"/>
<path d="M528.3 485l1.2 0.4" stroke="#281048" stroke-width="1.3" opacity="0.85"/>
<path d="M581.3 554.3l2.7 -0.1" stroke="#281048" stroke-width="1.5" opacity="0.85"/>
<path d="M529.5 482.2l1.2 2" stroke="#321858" stroke-width="1.6" opacity="0.85"/>
<path d="M559.9 502.3l2 0.9" stroke="#281048" stroke-width="1.3" opacity="0.85"/>
<path d="M553 483.8l1.3 -0.4" stroke="#321858" stroke-width="1.3" opacity="0.85"/>
<path d="M556.5 548.7l0.3 2.1" stroke="#281048" stroke-width="1.5" opacity="0.85"/>
<path d="M508.5 518.8l0.6 2.2" stroke="#321858" stroke-width="1.6" opacity="0.85"/>
<path d="M566.9 506.8l2.7 -0.1" stroke="#281048" stroke-width="1.5" opacity="0.85"/>
<path d="M493.1 507.7l-0.2 1.6" stroke="#281048" stroke-width="1.7" opacity="0.85"/>
<path d="M543.9 548.5l1.7 0.9" stroke="#281048" stroke-width="1.1" opacity="0.85"/>
<path d="M542.7 551.5l0.1 2.7" stroke="#281048" stroke-width="1.6" opacity="0.85"/>
<path d="M518.8 545.6l2.3 1.4" stroke="#321858" stroke-width="1.5" opacity="0.85"/>
<path d="M518.3 483.9l-0.2 2.8" stroke="#281048" stroke-width="1.1" opacity="0.85"/>
<path d="M503.2 495.5l0 2" stroke="#281048" stroke-width="1.3" opacity="0.85"/>
<path d="M495.4 494.8l0.7 2.1" stroke="#281048" stroke-width="1.7" opacity="0.85"/>
<path d="M536.4 552.2l0.5 2.7" stroke="#321858" stroke-width="1.5" opacity="0.85"/>
<path d="M533.6 485.3l2.5 -0.7" stroke="#321858" stroke-width="1.4" opacity="0.85"/>
<path d="M581.1 548.5l1.4 -0.7" stroke="#321858" stroke-width="1.4" opacity="0.85"/>
<path d="M491.2 515.8l-0.4 2" stroke="#321858" stroke-width="1.2" opacity="0.85"/>
<path d="M582.4 533.1l1.1 0.9" stroke="#321858" stroke-width="1.3" opacity="0.85"/>
<path d="M501.1 553l0.2 2.2" stroke="#321858" stroke-width="1.4" opacity="0.85"/>
<path d="M559 525.2l2 1.7" stroke="#321858" stroke-width="1.2" opacity="0.85"/>
<path d="M527.6 497.3l0.8 2" stroke="#321858" stroke-width="1.6" opacity="0.85"/>
<path d="M573.4 483.6l2.6 -0.6" stroke="#281048" stroke-width="1.1" opacity="0.85"/>
<path d="M522.4 554l0.6 1.1" stroke="#281048" stroke-width="1.1" opacity="0.85"/>
<path d="M535.9 525.3l2.2 0.9" stroke="#281048" stroke-width="1.2" opacity="0.85"/>
<path d="M517.5 494.5l0.9 2" stroke="#321858" stroke-width="1.7" opacity="0.85"/>
<path d="M568.1 492.7l1.3 0.5" stroke="#281048" stroke-width="1.5" opacity="0.85"/>
<path d="M552.1 542.3l-0.4 2" stroke="#281048" stroke-width="1.5" opacity="0.85"/>
<path d="M491.6 516.5l1.3 2.4" stroke="#321858" stroke-width="1.6" opacity="0.85"/>
<path d="M551.7 541l-0.4 1.8" stroke="#281048" stroke-width="1.4" opacity="0.85"/>
<path d="M504.2 534l2.4 -0.4" stroke="#321858" stroke-width="1.1" opacity="0.8"/>
<path d="M557.3 522.2l0.1 2.4" stroke="#8a389a" stroke-width="1.2" opacity="0.8"/>
<path d="M568.1 538.5l0.7 2.5" stroke="#321858" stroke-width="1.3" opacity="0.8"/>
<path d="M556.5 498.2l1.2 -0.9" stroke="#281048" stroke-width="1.4" opacity="0.8"/>
<path d="M540.1 484.8l0.3 2.4" stroke="#5a2888" stroke-width="1.1" opacity="0.8"/>
<path d="M535.9 506.3l2.1 -0.9" stroke="#8a389a" stroke-width="0.9" opacity="0.8"/>
<path d="M541 484.7l1.7 0.3" stroke="#321858" stroke-width="1.1" opacity="0.8"/>
<path d="M554.4 530.6l0.5 1" stroke="#7a40a0" stroke-width="0.9" opacity="0.8"/>
<path d="M505.8 498.2l0.7 1.9" stroke="#321858" stroke-width="1" opacity="0.8"/>
<path d="M537 488l-0.2 2.2" stroke="#9048a8" stroke-width="1.4" opacity="0.8"/>
<path d="M508.9 547.8l0.9 0.5" stroke="#8a389a" stroke-width="1.3" opacity="0.8"/>
<path d="M571 545.4l0.7 1.4" stroke="#7a40a0" stroke-width="1.2" opacity="0.8"/>
<path d="M568.9 510.8l1.8 1.7" stroke="#281048" stroke-width="0.9" opacity="0.8"/>
<path d="M519.8 543.2l0.9 1.9" stroke="#8a389a" stroke-width="1" opacity="0.8"/>
<path d="M539.7 516.9l2.1 1.4" stroke="#321858" stroke-width="1" opacity="0.8"/>
<path d="M571.6 528.1l1.7 1.2" stroke="#5a2888" stroke-width="1" opacity="0.8"/>
<path d="M531.5 535.7l1.6 0" stroke="#9048a8" stroke-width="1" opacity="0.8"/>
<path d="M564.7 521.6l-1.5 1.7" stroke="#9048a8" stroke-width="1.3" opacity="0.8"/>
<path d="M571.6 521.4l0.9 0.5" stroke="#9048a8" stroke-width="0.9" opacity="0.8"/>
<path d="M527.6 522.7l0.9 0.4" stroke="#321858" stroke-width="1" opacity="0.8"/>
<path d="M502.4 532.8l-0.7 1.2" stroke="#5a2888" stroke-width="1.1" opacity="0.8"/>
<path d="M522.6 507.4l1 1.1" stroke="#321858" stroke-width="1.2" opacity="0.8"/>
<path d="M555.2 529l1.3 0.7" stroke="#321858" stroke-width="1.3" opacity="0.8"/>
<path d="M573 504.7l2 0.7" stroke="#321858" stroke-width="1.2" opacity="0.8"/>
<path d="M523.3 511.5l1.1 0" stroke="#7a40a0" stroke-width="0.9" opacity="0.8"/>
<path d="M525.7 501l1.6 1.2" stroke="#321858" stroke-width="1.3" opacity="0.8"/>
<path d="M554.8 540.9l1.2 -0" stroke="#7a40a0" stroke-width="1" opacity="0.8"/>
<path d="M574.7 544.4l1.8 1.4" stroke="#281048" stroke-width="1.1" opacity="0.8"/>
<path d="M526.6 508.3l-1 2.4" stroke="#8a389a" stroke-width="0.9" opacity="0.8"/>
<path d="M525.6 536.1l0.7 1.7" stroke="#6a3098" stroke-width="1.2" opacity="0.8"/>
<path d="M529.1 543.5l-0.8 0.7" stroke="#281048" stroke-width="1.2" opacity="0.8"/>
<path d="M501.2 506.5l-0.9 1.2" stroke="#281048" stroke-width="0.9" opacity="0.8"/>
<path d="M541.7 520.4l-0.1 1.6" stroke="#7a40a0" stroke-width="1.2" opacity="0.8"/>
<path d="M568.1 517l1.6 0.7" stroke="#5a2888" stroke-width="0.9" opacity="0.8"/>
<path d="M511.8 497.9l0.4 1.2" stroke="#321858" stroke-width="1.2" opacity="0.8"/>
<path d="M526.5 502.8l0.9 0.8" stroke="#6a3098" stroke-width="1.2" opacity="0.8"/>
<path d="M578.9 494.4l0.7 0.8" stroke="#7a40a0" stroke-width="1.2" opacity="0.8"/>
<path d="M499.1 513.6l-0.5 1.8" stroke="#9048a8" stroke-width="1.1" opacity="0.8"/>
<path d="M573.5 542.8l1.1 1.2" stroke="#321858" stroke-width="1.4" opacity="0.8"/>
<path d="M492 504.9l2 1" stroke="#9048a8" stroke-width="1.2" opacity="0.8"/>
<path d="M493.9 531.3l-0.9 2" stroke="#9048a8" stroke-width="1.3" opacity="0.8"/>
<path d="M563.5 526.4l2.1 1.1" stroke="#8a389a" stroke-width="1.4" opacity="0.8"/>
<path d="M560.3 509.1l1.3 0.3" stroke="#281048" stroke-width="0.9" opacity="0.8"/>
<path d="M501.4 525.3l0.1 1.2" stroke="#321858" stroke-width="1.3" opacity="0.8"/>
<path d="M538.3 487.8l1 1.9" stroke="#6a3098" stroke-width="1.2" opacity="0.8"/>
<path d="M514 550.7l1.3 -0" stroke="#8a389a" stroke-width="1.4" opacity="0.8"/>
<path d="M580.5 495.2l2.5 0.3" stroke="#321858" stroke-width="1" opacity="0.8"/>
<path d="M550 511.2l0.5 2.4" stroke="#8a389a" stroke-width="1.4" opacity="0.8"/>
<path d="M518.7 544.1l-0.1 1.2" stroke="#8a389a" stroke-width="1" opacity="0.8"/>
<path d="M500.1 515l0.1 1.2" stroke="#281048" stroke-width="0.9" opacity="0.8"/>
<path d="M507.1 549.6l0.6 1.8" stroke="#6a3098" stroke-width="1.1" opacity="0.8"/>
<path d="M544.1 511.3l0.8 0.6" stroke="#5a2888" stroke-width="1.4" opacity="0.8"/>
<path d="M498.2 533.8l-1.3 1.8" stroke="#321858" stroke-width="1.3" opacity="0.8"/>
<path d="M541.4 526.4l-0.4 1.8" stroke="#8a389a" stroke-width="0.9" opacity="0.8"/>
<path d="M535.9 496.5l1.6 0.4" stroke="#321858" stroke-width="1" opacity="0.8"/>
<path d="M582.2 490.2l0.8 -1.4" stroke="#6a3098" stroke-width="1" opacity="0.8"/>
<path d="M536.9 549.8l0.1 1.2" stroke="#5a2888" stroke-width="1" opacity="0.8"/>
<path d="M531.9 482.8l2 0.5" stroke="#5a2888" stroke-width="1.4" opacity="0.8"/>
<path d="M506 534.3l0.6 1" stroke="#321858" stroke-width="0.9" opacity="0.8"/>
<path d="M493.5 533l0.6 1.9" stroke="#5a2888" stroke-width="1" opacity="0.8"/>
<path d="M577.2 485.2l1.8 1.4" stroke="#321858" stroke-width="1.3" opacity="0.8"/>
<path d="M582.7 492.5l2 -0.1" stroke="#5a2888" stroke-width="1" opacity="0.8"/>
<path d="M572.8 527.8l1.7 1.5" stroke="#6a3098" stroke-width="0.9" opacity="0.8"/>
<path d="M509.8 541.1l0.3 1.6" stroke="#6a3098" stroke-width="1.3" opacity="0.8"/>
<path d="M543.3 525.1l1.8 1.7" stroke="#281048" stroke-width="1.1" opacity="0.8"/>
<path d="M537.8 549.8l1.9 1.3" stroke="#321858" stroke-width="1.1" opacity="0.8"/>
<path d="M554.7 532.7l-0.6 0.9" stroke="#8a389a" stroke-width="1.2" opacity="0.8"/>
<path d="M528.1 548.1l1.4 1.8" stroke="#5a2888" stroke-width="1.2" opacity="0.8"/>
<path d="M527.3 490.7l1.7 -0.4" stroke="#7a40a0" stroke-width="1.2" opacity="0.8"/>
<path d="M497.2 494.9l0.3 1.2" stroke="#8a389a" stroke-width="1" opacity="0.8"/>
<path d="M503.6 506l1.8 0.2" stroke="#9048a8" stroke-width="1.4" opacity="0.8"/>
<path d="M517.5 482.2l0.4 2.1" stroke="#8a389a" stroke-width="1" opacity="0.8"/>
<path d="M520.8 528.7l-0.6 1.5" stroke="#7a40a0" stroke-width="1.1" opacity="0.8"/>
<path d="M552.4 531.9l1.4 0.3" stroke="#5a2888" stroke-width="1.2" opacity="0.8"/>
<path d="M531.5 535.9l2.1 1.4" stroke="#281048" stroke-width="1.1" opacity="0.8"/>
<path d="M568.1 519.8l2.1 0.5" stroke="#321858" stroke-width="1.3" opacity="0.8"/>
<path d="M521.3 537l0.4 1" stroke="#321858" stroke-width="1" opacity="0.8"/>
<path d="M576.1 510.3l1.3 -1" stroke="#6a3098" stroke-width="1.4" opacity="0.8"/>
<path d="M509.6 527.8l0.8 0.7" stroke="#9048a8" stroke-width="1.1" opacity="0.8"/>
<path d="M556.8 530.8l1 2" stroke="#9048a8" stroke-width="1.2" opacity="0.8"/>
<path d="M557.8 513.5l1.9 1.7" stroke="#5a2888" stroke-width="1.3" opacity="0.8"/>
<path d="M537 488.1l0.5 2.2" stroke="#321858" stroke-width="0.9" opacity="0.8"/>
<path d="M550.2 492.4l2.1 0.9" stroke="#281048" stroke-width="1" opacity="0.8"/>
<path d="M579.3 528.6l2.5 -0.2" stroke="#9048a8" stroke-width="1.3" opacity="0.8"/>
<path d="M558.4 517l0 2.1" stroke="#9048a8" stroke-width="1.1" opacity="0.8"/>
<path d="M562 518l1.4 -1.4" stroke="#321858" stroke-width="1.3" opacity="0.8"/>
<path d="M583.6 499.2l2 -0.4" stroke="#5a2888" stroke-width="1.1" opacity="0.8"/>
<path d="M562.8 482.2l2.5 -0.2" stroke="#5a2888" stroke-width="1" opacity="0.8"/>
<path d="M572.9 492.6l1.8 -0.7" stroke="#281048" stroke-width="1.4" opacity="0.8"/>
<path d="M563.1 486.6l2.4 -0.3" stroke="#6a3098" stroke-width="1.3" opacity="0.8"/>
<path d="M516.7 534l0.6 2.3" stroke="#7a40a0" stroke-width="1.4" opacity="0.8"/>
<path d="M514.2 543.8l0.3 1.7" stroke="#5a2888" stroke-width="1.3" opacity="0.8"/>
<path d="M538.1 503.7l1.6 0.3" stroke="#9048a8" stroke-width="1" opacity="0.8"/>
<path d="M558 529.6l0.5 0.9" stroke="#6a3098" stroke-width="1" opacity="0.8"/>
<path d="M496.9 505.8l2.3 -0.6" stroke="#9048a8" stroke-width="0.9" opacity="0.8"/>
<path d="M549.5 498.5l1.5 0.5" stroke="#6a3098" stroke-width="1" opacity="0.8"/>
<path d="M512.5 505.4l-2.2 0.1" stroke="#9048a8" stroke-width="1.3" opacity="0.8"/>
<path d="M578.6 509.6l1 0.8" stroke="#8a389a" stroke-width="1.3" opacity="0.8"/>
<path d="M568.1 489.9l1.4 1.4" stroke="#6a3098" stroke-width="1.1" opacity="0.8"/>
<path d="M567.6 541.3l2.2 -0.7" stroke="#321858" stroke-width="1.3" opacity="0.8"/>
<path d="M582.7 502.4l1.6 1" stroke="#281048" stroke-width="1.4" opacity="0.8"/>
<path d="M509 542.2l1.4 0" stroke="#7a40a0" stroke-width="0.9" opacity="0.8"/>
<path d="M510.4 497.5l1.5 0.9" stroke="#7a40a0" stroke-width="1.3" opacity="0.8"/>
<path d="M503 495L506 520L507 540" stroke="#5a2080" stroke-width="2" fill="none" opacity="0.8"/>
</g></g>
<rect x="492.1" y="482.6" width="93.8" height="68.3" fill="none" stroke="#000" stroke-width="1.4"/>
<rect x="460" y="469.6" width="20" height="2.4" fill="#000"/>
<rect x="563" y="469.8" width="20" height="2.4" fill="#000"/>
<rect x="460" y="545.9" width="20" height="2.8" fill="#000"/>
<rect x="563" y="545.9" width="20" height="2.8" fill="#000"/>
<text x="0.5" y="9.5" font-size="13.2" text-anchor="start" font-weight="bold" >a</text>
<rect x="45" y="118.83" width="16.7" height="26.87" fill="#fff" stroke="#000" stroke-width="1.45"/>
<rect x="61.7" y="44.5" width="16.7" height="101.2" fill="#000" stroke="#000" stroke-width="1.45"/>
<rect x="103.3" y="126.89" width="16.7" height="18.81" fill="#fff" stroke="#000" stroke-width="1.45"/>
<rect x="120" y="122.64" width="16.7" height="23.06" fill="#000" stroke="#000" stroke-width="1.45"/>
<rect x="161.6" y="119.95" width="16.7" height="25.75" fill="#fff" stroke="#000" stroke-width="1.45"/>
<rect x="178.3" y="122.41" width="16.7" height="23.29" fill="#000" stroke="#000" stroke-width="1.45"/>
<line x1="53.35" y1="116.59" x2="53.35" y2="121.07" stroke="#1a1a1a" stroke-width="0.85"/>
<line x1="51.35" y1="116.59" x2="55.35" y2="116.59" stroke="#1a1a1a" stroke-width="0.85"/>
<line x1="51.35" y1="121.07" x2="55.35" y2="121.07" stroke="#1a1a1a" stroke-width="0.85"/>
<line x1="70.05" y1="32.18" x2="70.05" y2="56.81" stroke="#000" stroke-width="0.85"/>
<line x1="68.05" y1="32.18" x2="72.05" y2="32.18" stroke="#000" stroke-width="0.85"/>
<line x1="68.05" y1="56.81" x2="72.05" y2="56.81" stroke="#000" stroke-width="0.85"/>
<line x1="111.65" y1="123.53" x2="111.65" y2="130.25" stroke="#1a1a1a" stroke-width="0.85"/>
<line x1="109.65" y1="123.53" x2="113.65" y2="123.53" stroke="#1a1a1a" stroke-width="0.85"/>
<line x1="109.65" y1="130.25" x2="113.65" y2="130.25" stroke="#1a1a1a" stroke-width="0.85"/>
<line x1="128.35" y1="121.97" x2="128.35" y2="123.31" stroke="#000" stroke-width="0.85"/>
<line x1="126.35" y1="121.97" x2="130.35" y2="121.97" stroke="#000" stroke-width="0.85"/>
<line x1="126.35" y1="123.31" x2="130.35" y2="123.31" stroke="#000" stroke-width="0.85"/>
<line x1="169.95" y1="118.83" x2="169.95" y2="121.07" stroke="#1a1a1a" stroke-width="0.85"/>
<line x1="167.95" y1="118.83" x2="171.95" y2="118.83" stroke="#1a1a1a" stroke-width="0.85"/>
<line x1="167.95" y1="121.07" x2="171.95" y2="121.07" stroke="#1a1a1a" stroke-width="0.85"/>
<line x1="186.65" y1="117.94" x2="186.65" y2="126.89" stroke="#000" stroke-width="0.85"/>
<line x1="184.65" y1="117.94" x2="188.65" y2="117.94" stroke="#000" stroke-width="0.85"/>
<line x1="184.65" y1="126.89" x2="188.65" y2="126.89" stroke="#000" stroke-width="0.85"/>
<path d="M32.55 11.36V145.7H207.45" fill="none" stroke="#000" stroke-width="1.5"/>
<line x1="29.95" y1="145.7" x2="32.55" y2="145.7" stroke="#000" stroke-width="1.5"/>
<text x="26.55" y="149.1" font-size="10" text-anchor="end" >0</text>
<line x1="29.95" y1="123.31" x2="32.55" y2="123.31" stroke="#000" stroke-width="1.5"/>
<text x="26.55" y="126.71" font-size="10" text-anchor="end" >1</text>
<line x1="29.95" y1="100.92" x2="32.55" y2="100.92" stroke="#000" stroke-width="1.5"/>
<text x="26.55" y="104.32" font-size="10" text-anchor="end" >2</text>
<line x1="29.95" y1="78.53" x2="32.55" y2="78.53" stroke="#000" stroke-width="1.5"/>
<text x="26.55" y="81.93" font-size="10" text-anchor="end" >3</text>
<line x1="29.95" y1="56.14" x2="32.55" y2="56.14" stroke="#000" stroke-width="1.5"/>
<text x="26.55" y="59.54" font-size="10" text-anchor="end" >4</text>
<line x1="29.95" y1="33.75" x2="32.55" y2="33.75" stroke="#000" stroke-width="1.5"/>
<text x="26.55" y="37.15" font-size="10" text-anchor="end" >5</text>
<line x1="29.95" y1="11.36" x2="32.55" y2="11.36" stroke="#000" stroke-width="1.5"/>
<text x="26.55" y="14.76" font-size="10" text-anchor="end" >6</text>
<line x1="32.55" y1="145.7" x2="32.55" y2="148.2" stroke="#000" stroke-width="1.5"/>
<line x1="90.85" y1="145.7" x2="90.85" y2="148.2" stroke="#000" stroke-width="1.5"/>
<line x1="149.15" y1="145.7" x2="149.15" y2="148.2" stroke="#000" stroke-width="1.5"/>
<line x1="207.45" y1="145.7" x2="207.45" y2="148.2" stroke="#000" stroke-width="1.5"/>
<text x="61.7" y="160" font-size="10" text-anchor="middle" >24</text>
<text x="120" y="160" font-size="10" text-anchor="middle" >48</text>
<text x="178.3" y="160" font-size="10" text-anchor="middle" >72</text>
<text x="120" y="175.8" font-size="10" text-anchor="middle" >Time (h)</text>
<text transform="translate(11.5,78.53) rotate(-90)" font-size="10" text-anchor="middle">mRNA expression (<tspan font-style="italic">Il6</tspan>)</text>
<text x="70.05" y="31.08" font-size="10" text-anchor="middle" font-weight="bold">*</text>
<rect x="167.72" y="11.12" width="8.55" height="8.55" fill="#fff" stroke="#000" stroke-width="1.45"/>
<text x="182" y="18" font-size="8.5" text-anchor="start" >Control</text>
<rect x="167" y="23.6" width="10" height="10" fill="#000"/>
<text x="182" y="31.2" font-size="8.5" text-anchor="start" >Irisin</text>
<text x="235.5" y="10" font-size="13.2" text-anchor="start" font-weight="bold" >b</text>
<rect x="286.5" y="86.05" width="16.7" height="59.65" fill="#fff" stroke="#000" stroke-width="1.45"/>
<rect x="303.2" y="38.31" width="16.7" height="107.39" fill="#000" stroke="#000" stroke-width="1.45"/>
<rect x="344.8" y="83.39" width="16.7" height="62.31" fill="#fff" stroke="#000" stroke-width="1.45"/>
<rect x="361.5" y="78.81" width="16.7" height="66.89" fill="#000" stroke="#000" stroke-width="1.45"/>
<rect x="403.1" y="80.44" width="16.7" height="65.26" fill="#fff" stroke="#000" stroke-width="1.45"/>
<rect x="419.8" y="63.81" width="16.7" height="81.89" fill="#000" stroke="#000" stroke-width="1.45"/>
<line x1="294.85" y1="77.41" x2="294.85" y2="94.7" stroke="#1a1a1a" stroke-width="0.85"/>
<line x1="292.85" y1="77.41" x2="296.85" y2="77.41" stroke="#1a1a1a" stroke-width="0.85"/>
<line x1="292.85" y1="94.7" x2="296.85" y2="94.7" stroke="#1a1a1a" stroke-width="0.85"/>
<line x1="311.55" y1="32.69" x2="311.55" y2="43.93" stroke="#000" stroke-width="0.85"/>
<line x1="309.55" y1="32.69" x2="313.55" y2="32.69" stroke="#000" stroke-width="0.85"/>
<line x1="309.55" y1="43.93" x2="313.55" y2="43.93" stroke="#000" stroke-width="0.85"/>
<line x1="353.15" y1="79.18" x2="353.15" y2="87.61" stroke="#1a1a1a" stroke-width="0.85"/>
<line x1="351.15" y1="79.18" x2="355.15" y2="79.18" stroke="#1a1a1a" stroke-width="0.85"/>
<line x1="351.15" y1="87.61" x2="355.15" y2="87.61" stroke="#1a1a1a" stroke-width="0.85"/>
<line x1="369.85" y1="76.82" x2="369.85" y2="80.81" stroke="#000" stroke-width="0.85"/>
<line x1="367.85" y1="76.82" x2="371.85" y2="76.82" stroke="#000" stroke-width="0.85"/>
<line x1="367.85" y1="80.81" x2="371.85" y2="80.81" stroke="#000" stroke-width="0.85"/>
<line x1="411.45" y1="78.44" x2="411.45" y2="82.43" stroke="#1a1a1a" stroke-width="0.85"/>
<line x1="409.45" y1="78.44" x2="413.45" y2="78.44" stroke="#1a1a1a" stroke-width="0.85"/>
<line x1="409.45" y1="82.43" x2="413.45" y2="82.43" stroke="#1a1a1a" stroke-width="0.85"/>
<line x1="428.15" y1="58.78" x2="428.15" y2="68.83" stroke="#000" stroke-width="0.85"/>
<line x1="426.15" y1="58.78" x2="430.15" y2="58.78" stroke="#000" stroke-width="0.85"/>
<line x1="426.15" y1="68.83" x2="430.15" y2="68.83" stroke="#000" stroke-width="0.85"/>
<path d="M274.05 12.66V145.7H448.95" fill="none" stroke="#000" stroke-width="1.5"/>
<line x1="271.45" y1="145.7" x2="274.05" y2="145.7" stroke="#000" stroke-width="1.5"/>
<text x="268.05" y="149.1" font-size="10" text-anchor="end" >0</text>
<line x1="271.45" y1="130.92" x2="274.05" y2="130.92" stroke="#000" stroke-width="1.5"/>
<text x="268.05" y="134.32" font-size="10" text-anchor="end" >0.2</text>
<line x1="271.45" y1="116.14" x2="274.05" y2="116.14" stroke="#000" stroke-width="1.5"/>
<text x="268.05" y="119.54" font-size="10" text-anchor="end" >0.4</text>
<line x1="271.45" y1="101.35" x2="274.05" y2="101.35" stroke="#000" stroke-width="1.5"/>
<text x="268.05" y="104.75" font-size="10" text-anchor="end" >0.6</text>
<line x1="271.45" y1="86.57" x2="274.05" y2="86.57" stroke="#000" stroke-width="1.5"/>
<text x="268.05" y="89.97" font-size="10" text-anchor="end" >0.8</text>
<line x1="271.45" y1="71.79" x2="274.05" y2="71.79" stroke="#000" stroke-width="1.5"/>
<text x="268.05" y="75.19" font-size="10" text-anchor="end" >1.0</text>
<line x1="271.45" y1="57.01" x2="274.05" y2="57.01" stroke="#000" stroke-width="1.5"/>
<text x="268.05" y="60.41" font-size="10" text-anchor="end" >1.2</text>
<line x1="271.45" y1="42.23" x2="274.05" y2="42.23" stroke="#000" stroke-width="1.5"/>
<text x="268.05" y="45.63" font-size="10" text-anchor="end" >1.4</text>
<line x1="271.45" y1="27.44" x2="274.05" y2="27.44" stroke="#000" stroke-width="1.5"/>
<text x="268.05" y="30.84" font-size="10" text-anchor="end" >1.6</text>
<line x1="271.45" y1="12.66" x2="274.05" y2="12.66" stroke="#000" stroke-width="1.5"/>
<text x="268.05" y="16.06" font-size="10" text-anchor="end" >1.8</text>
<line x1="274.05" y1="145.7" x2="274.05" y2="148.2" stroke="#000" stroke-width="1.5"/>
<line x1="332.35" y1="145.7" x2="332.35" y2="148.2" stroke="#000" stroke-width="1.5"/>
<line x1="390.65" y1="145.7" x2="390.65" y2="148.2" stroke="#000" stroke-width="1.5"/>
<line x1="448.95" y1="145.7" x2="448.95" y2="148.2" stroke="#000" stroke-width="1.5"/>
<text x="303.2" y="160" font-size="10" text-anchor="middle" >24</text>
<text x="361.5" y="160" font-size="10" text-anchor="middle" >48</text>
<text x="419.8" y="160" font-size="10" text-anchor="middle" >72</text>
<text x="361.5" y="175.8" font-size="10" text-anchor="middle" >Time (h)</text>
<text transform="translate(244,79.18) rotate(-90)" font-size="10" text-anchor="middle">mRNA expression (<tspan font-style="italic">Stat3</tspan>)</text>
<text x="311.55" y="31.59" font-size="10" text-anchor="middle" font-weight="bold">*</text>
<rect x="403.12" y="9.32" width="8.55" height="8.55" fill="#fff" stroke="#000" stroke-width="1.45"/>
<text x="417.4" y="16.2" font-size="8.5" text-anchor="start" >Control</text>
<rect x="402.4" y="21.8" width="10" height="10" fill="#000"/>
<text x="417.4" y="29.4" font-size="8.5" text-anchor="start" >Irisin</text>
<text x="469" y="10" font-size="13.2" text-anchor="start" font-weight="bold" >c</text>
<rect x="519.45" y="88.32" width="17" height="57.38" fill="#fff" stroke="#000" stroke-width="1.45"/>
<rect x="536.45" y="39.38" width="17" height="106.32" fill="#000" stroke="#000" stroke-width="1.45"/>
<rect x="577.75" y="59.59" width="17" height="86.11" fill="#fff" stroke="#000" stroke-width="1.45"/>
<rect x="594.75" y="24.57" width="17" height="121.13" fill="#000" stroke="#000" stroke-width="1.45"/>
<rect x="636.05" y="88.91" width="17" height="56.79" fill="#fff" stroke="#000" stroke-width="1.45"/>
<rect x="653.05" y="49" width="17" height="96.7" fill="#000" stroke="#000" stroke-width="1.45"/>
<line x1="527.95" y1="83.51" x2="527.95" y2="93.13" stroke="#1a1a1a" stroke-width="0.85"/>
<line x1="525.95" y1="83.51" x2="529.95" y2="83.51" stroke="#1a1a1a" stroke-width="0.85"/>
<line x1="525.95" y1="93.13" x2="529.95" y2="93.13" stroke="#1a1a1a" stroke-width="0.85"/>
<line x1="544.95" y1="26.42" x2="544.95" y2="52.34" stroke="#000" stroke-width="0.85"/>
<line x1="542.95" y1="26.42" x2="546.95" y2="26.42" stroke="#000" stroke-width="0.85"/>
<line x1="542.95" y1="52.34" x2="546.95" y2="52.34" stroke="#000" stroke-width="0.85"/>
<line x1="586.25" y1="59.15" x2="586.25" y2="60.04" stroke="#1a1a1a" stroke-width="0.85"/>
<line x1="584.25" y1="59.15" x2="588.25" y2="59.15" stroke="#1a1a1a" stroke-width="0.85"/>
<line x1="584.25" y1="60.04" x2="588.25" y2="60.04" stroke="#1a1a1a" stroke-width="0.85"/>
<line x1="603.25" y1="19.24" x2="603.25" y2="29.9" stroke="#000" stroke-width="0.85"/>
<line x1="601.25" y1="19.24" x2="605.25" y2="19.24" stroke="#000" stroke-width="0.85"/>
<line x1="601.25" y1="29.9" x2="605.25" y2="29.9" stroke="#000" stroke-width="0.85"/>
<line x1="644.55" y1="86.91" x2="644.55" y2="90.91" stroke="#1a1a1a" stroke-width="0.85"/>
<line x1="642.55" y1="86.91" x2="646.55" y2="86.91" stroke="#1a1a1a" stroke-width="0.85"/>
<line x1="642.55" y1="90.91" x2="646.55" y2="90.91" stroke="#1a1a1a" stroke-width="0.85"/>
<line x1="661.55" y1="48.56" x2="661.55" y2="49.45" stroke="#000" stroke-width="0.85"/>
<line x1="659.55" y1="48.56" x2="663.55" y2="48.56" stroke="#000" stroke-width="0.85"/>
<line x1="659.55" y1="49.45" x2="663.55" y2="49.45" stroke="#000" stroke-width="0.85"/>
<path d="M507.3 12.43V145.7H682.2" fill="none" stroke="#000" stroke-width="1.5"/>
<line x1="504.7" y1="145.7" x2="507.3" y2="145.7" stroke="#000" stroke-width="1.5"/>
<text x="501.3" y="149.1" font-size="10" text-anchor="end" >0</text>
<line x1="504.7" y1="130.89" x2="507.3" y2="130.89" stroke="#000" stroke-width="1.5"/>
<text x="501.3" y="134.29" font-size="10" text-anchor="end" >0.2</text>
<line x1="504.7" y1="116.08" x2="507.3" y2="116.08" stroke="#000" stroke-width="1.5"/>
<text x="501.3" y="119.48" font-size="10" text-anchor="end" >0.4</text>
<line x1="504.7" y1="101.28" x2="507.3" y2="101.28" stroke="#000" stroke-width="1.5"/>
<text x="501.3" y="104.68" font-size="10" text-anchor="end" >0.6</text>
<line x1="504.7" y1="86.47" x2="507.3" y2="86.47" stroke="#000" stroke-width="1.5"/>
<text x="501.3" y="89.87" font-size="10" text-anchor="end" >0.8</text>
<line x1="504.7" y1="71.66" x2="507.3" y2="71.66" stroke="#000" stroke-width="1.5"/>
<text x="501.3" y="75.06" font-size="10" text-anchor="end" >1.0</text>
<line x1="504.7" y1="56.85" x2="507.3" y2="56.85" stroke="#000" stroke-width="1.5"/>
<text x="501.3" y="60.25" font-size="10" text-anchor="end" >1.2</text>
<line x1="504.7" y1="42.04" x2="507.3" y2="42.04" stroke="#000" stroke-width="1.5"/>
<text x="501.3" y="45.44" font-size="10" text-anchor="end" >1.4</text>
<line x1="504.7" y1="27.24" x2="507.3" y2="27.24" stroke="#000" stroke-width="1.5"/>
<text x="501.3" y="30.64" font-size="10" text-anchor="end" >1.6</text>
<line x1="504.7" y1="12.43" x2="507.3" y2="12.43" stroke="#000" stroke-width="1.5"/>
<text x="501.3" y="15.83" font-size="10" text-anchor="end" >1.8</text>
<line x1="507.3" y1="145.7" x2="507.3" y2="148.2" stroke="#000" stroke-width="1.5"/>
<line x1="565.6" y1="145.7" x2="565.6" y2="148.2" stroke="#000" stroke-width="1.5"/>
<line x1="623.9" y1="145.7" x2="623.9" y2="148.2" stroke="#000" stroke-width="1.5"/>
<line x1="682.2" y1="145.7" x2="682.2" y2="148.2" stroke="#000" stroke-width="1.5"/>
<text x="536.45" y="160" font-size="10" text-anchor="middle" >24</text>
<text x="594.75" y="160" font-size="10" text-anchor="middle" >48</text>
<text x="653.05" y="160" font-size="10" text-anchor="middle" >72</text>
<text x="594.75" y="175.8" font-size="10" text-anchor="middle" >Time (h)</text>
<text transform="translate(479.5,79.06) rotate(-90)" font-size="10" text-anchor="middle">mRNA expression (<tspan font-style="italic">Socs3</tspan>)</text>
<text x="544.95" y="25.32" font-size="10" text-anchor="middle" font-weight="bold">*</text>
<text x="603.25" y="18.14" font-size="10" text-anchor="middle" font-weight="bold">*</text>
<text x="662.05" y="47.46" font-size="10" text-anchor="middle" letter-spacing="1" font-weight="bold">***</text>
<rect x="639.12" y="9.12" width="8.55" height="8.55" fill="#fff" stroke="#000" stroke-width="1.45"/>
<text x="653.4" y="16" font-size="8.5" text-anchor="start" >Control</text>
<rect x="638.4" y="21.6" width="10" height="10" fill="#000"/>
<text x="653.4" y="29.2" font-size="8.5" text-anchor="start" >Irisin</text>
<text x="0.5" y="203" font-size="13.2" text-anchor="start" font-weight="bold" >d</text>
<rect x="48.95" y="323.39" width="12.2" height="14.51" fill="#fff" stroke="#000" stroke-width="1.45"/>
<rect x="61.15" y="313.01" width="12.2" height="24.89" fill="#000" stroke="#000" stroke-width="1.45"/>
<rect x="93.25" y="301.96" width="12.2" height="35.94" fill="#fff" stroke="#000" stroke-width="1.45"/>
<rect x="105.45" y="304.64" width="12.2" height="33.26" fill="#000" stroke="#000" stroke-width="1.45"/>
<rect x="137.55" y="287.68" width="12.2" height="50.22" fill="#fff" stroke="#000" stroke-width="1.45"/>
<rect x="149.75" y="259.11" width="12.2" height="78.79" fill="#000" stroke="#000" stroke-width="1.45"/>
<rect x="181.85" y="272.5" width="12.2" height="65.4" fill="#fff" stroke="#000" stroke-width="1.45"/>
<rect x="194.05" y="239.69" width="12.2" height="98.21" fill="#000" stroke="#000" stroke-width="1.45"/>
<line x1="55.05" y1="322.72" x2="55.05" y2="324.06" stroke="#1a1a1a" stroke-width="0.85"/>
<line x1="53.05" y1="322.72" x2="57.05" y2="322.72" stroke="#1a1a1a" stroke-width="0.85"/>
<line x1="53.05" y1="324.06" x2="57.05" y2="324.06" stroke="#1a1a1a" stroke-width="0.85"/>
<line x1="67.25" y1="307.21" x2="67.25" y2="318.82" stroke="#000" stroke-width="0.85"/>
<line x1="65.25" y1="307.21" x2="69.25" y2="307.21" stroke="#000" stroke-width="0.85"/>
<line x1="65.25" y1="318.82" x2="69.25" y2="318.82" stroke="#000" stroke-width="0.85"/>
<line x1="99.35" y1="297.05" x2="99.35" y2="306.88" stroke="#1a1a1a" stroke-width="0.85"/>
<line x1="97.35" y1="297.05" x2="101.35" y2="297.05" stroke="#1a1a1a" stroke-width="0.85"/>
<line x1="97.35" y1="306.88" x2="101.35" y2="306.88" stroke="#1a1a1a" stroke-width="0.85"/>
<line x1="111.55" y1="299.51" x2="111.55" y2="309.78" stroke="#000" stroke-width="0.85"/>
<line x1="109.55" y1="299.51" x2="113.55" y2="299.51" stroke="#000" stroke-width="0.85"/>
<line x1="109.55" y1="309.78" x2="113.55" y2="309.78" stroke="#000" stroke-width="0.85"/>
<line x1="143.65" y1="282.77" x2="143.65" y2="292.59" stroke="#1a1a1a" stroke-width="0.85"/>
<line x1="141.65" y1="282.77" x2="145.65" y2="282.77" stroke="#1a1a1a" stroke-width="0.85"/>
<line x1="141.65" y1="292.59" x2="145.65" y2="292.59" stroke="#1a1a1a" stroke-width="0.85"/>
<line x1="155.85" y1="255.32" x2="155.85" y2="262.9" stroke="#000" stroke-width="0.85"/>
<line x1="153.85" y1="255.32" x2="157.85" y2="255.32" stroke="#000" stroke-width="0.85"/>
<line x1="153.85" y1="262.9" x2="157.85" y2="262.9" stroke="#000" stroke-width="0.85"/>
<line x1="187.95" y1="269.6" x2="187.95" y2="275.4" stroke="#1a1a1a" stroke-width="0.85"/>
<line x1="185.95" y1="269.6" x2="189.95" y2="269.6" stroke="#1a1a1a" stroke-width="0.85"/>
<line x1="185.95" y1="275.4" x2="189.95" y2="275.4" stroke="#1a1a1a" stroke-width="0.85"/>
<line x1="200.15" y1="227.42" x2="200.15" y2="251.97" stroke="#000" stroke-width="0.85"/>
<line x1="198.15" y1="227.42" x2="202.15" y2="227.42" stroke="#000" stroke-width="0.85"/>
<line x1="198.15" y1="251.97" x2="202.15" y2="251.97" stroke="#000" stroke-width="0.85"/>
<path d="M39 203.98V337.9H216.2" fill="none" stroke="#000" stroke-width="1.5"/>
<line x1="36.4" y1="337.9" x2="39" y2="337.9" stroke="#000" stroke-width="1.5"/>
<text x="33" y="341.3" font-size="10" text-anchor="end" >0</text>
<line x1="36.4" y1="315.58" x2="39" y2="315.58" stroke="#000" stroke-width="1.5"/>
<text x="33" y="318.98" font-size="10" text-anchor="end" >0.1</text>
<line x1="36.4" y1="293.26" x2="39" y2="293.26" stroke="#000" stroke-width="1.5"/>
<text x="33" y="296.66" font-size="10" text-anchor="end" >0.2</text>
<line x1="36.4" y1="270.94" x2="39" y2="270.94" stroke="#000" stroke-width="1.5"/>
<text x="33" y="274.34" font-size="10" text-anchor="end" >0.3</text>
<line x1="36.4" y1="248.62" x2="39" y2="248.62" stroke="#000" stroke-width="1.5"/>
<text x="33" y="252.02" font-size="10" text-anchor="end" >0.4</text>
<line x1="36.4" y1="226.3" x2="39" y2="226.3" stroke="#000" stroke-width="1.5"/>
<text x="33" y="229.7" font-size="10" text-anchor="end" >0.5</text>
<line x1="36.4" y1="203.98" x2="39" y2="203.98" stroke="#000" stroke-width="1.5"/>
<text x="33" y="207.38" font-size="10" text-anchor="end" >0.6</text>
<line x1="39" y1="337.9" x2="39" y2="340.4" stroke="#000" stroke-width="1.5"/>
<line x1="83.3" y1="337.9" x2="83.3" y2="340.4" stroke="#000" stroke-width="1.5"/>
<line x1="127.6" y1="337.9" x2="127.6" y2="340.4" stroke="#000" stroke-width="1.5"/>
<line x1="171.9" y1="337.9" x2="171.9" y2="340.4" stroke="#000" stroke-width="1.5"/>
<line x1="216.2" y1="337.9" x2="216.2" y2="340.4" stroke="#000" stroke-width="1.5"/>
<text x="61.15" y="351" font-size="10" text-anchor="middle" >24</text>
<text x="105.45" y="351" font-size="10" text-anchor="middle" >48</text>
<text x="149.75" y="351" font-size="10" text-anchor="middle" >72</text>
<text x="194.05" y="351" font-size="10" text-anchor="middle" >96</text>
<text x="127.6" y="367" font-size="10" text-anchor="middle" >Time (h)</text>
<text transform="translate(11,270.94) rotate(-90)" font-size="10" text-anchor="middle">mRNA expression (<tspan font-style="italic">Il6</tspan>)</text>
<text x="155.85" y="254.22" font-size="10" text-anchor="middle" font-weight="bold">*</text>
<rect x="45.12" y="205.12" width="8.55" height="8.55" fill="#fff" stroke="#000" stroke-width="1.45"/>
<text x="59.4" y="212" font-size="8.5" text-anchor="start" >Control</text>
<rect x="44.4" y="217.6" width="10" height="10" fill="#000"/>
<text x="59.4" y="225.2" font-size="8.5" text-anchor="start" >Irisin</text>
<text x="236" y="202.5" font-size="13.2" text-anchor="start" font-weight="bold" >e</text>
<rect x="282.98" y="260.04" width="12.2" height="78.06" fill="#fff" stroke="#000" stroke-width="1.45"/>
<rect x="295.18" y="246.61" width="12.2" height="91.49" fill="#000" stroke="#000" stroke-width="1.45"/>
<rect x="327.32" y="236.6" width="12.2" height="101.5" fill="#fff" stroke="#000" stroke-width="1.45"/>
<rect x="339.52" y="220.42" width="12.2" height="117.68" fill="#000" stroke="#000" stroke-width="1.45"/>
<rect x="371.68" y="244.36" width="12.2" height="93.74" fill="#fff" stroke="#000" stroke-width="1.45"/>
<rect x="383.88" y="222.59" width="12.2" height="115.51" fill="#000" stroke="#000" stroke-width="1.45"/>
<rect x="416.03" y="227.6" width="12.2" height="110.5" fill="#fff" stroke="#000" stroke-width="1.45"/>
<rect x="428.23" y="215" width="12.2" height="123.1" fill="#000" stroke="#000" stroke-width="1.45"/>
<line x1="289.08" y1="253.37" x2="289.08" y2="266.71" stroke="#1a1a1a" stroke-width="0.85"/>
<line x1="287.08" y1="253.37" x2="291.08" y2="253.37" stroke="#1a1a1a" stroke-width="0.85"/>
<line x1="287.08" y1="266.71" x2="291.08" y2="266.71" stroke="#1a1a1a" stroke-width="0.85"/>
<line x1="301.28" y1="232.02" x2="301.28" y2="261.21" stroke="#000" stroke-width="0.85"/>
<line x1="299.28" y1="232.02" x2="303.28" y2="232.02" stroke="#000" stroke-width="0.85"/>
<line x1="299.28" y1="261.21" x2="303.28" y2="261.21" stroke="#000" stroke-width="0.85"/>
<line x1="333.43" y1="235.1" x2="333.43" y2="238.1" stroke="#1a1a1a" stroke-width="0.85"/>
<line x1="331.43" y1="235.1" x2="335.43" y2="235.1" stroke="#1a1a1a" stroke-width="0.85"/>
<line x1="331.43" y1="238.1" x2="335.43" y2="238.1" stroke="#1a1a1a" stroke-width="0.85"/>
<line x1="345.62" y1="212.42" x2="345.62" y2="228.43" stroke="#000" stroke-width="0.85"/>
<line x1="343.62" y1="212.42" x2="347.62" y2="212.42" stroke="#000" stroke-width="0.85"/>
<line x1="343.62" y1="228.43" x2="347.62" y2="228.43" stroke="#000" stroke-width="0.85"/>
<line x1="377.78" y1="236.02" x2="377.78" y2="252.7" stroke="#1a1a1a" stroke-width="0.85"/>
<line x1="375.78" y1="236.02" x2="379.78" y2="236.02" stroke="#1a1a1a" stroke-width="0.85"/>
<line x1="375.78" y1="252.7" x2="379.78" y2="252.7" stroke="#1a1a1a" stroke-width="0.85"/>
<line x1="389.98" y1="217" x2="389.98" y2="228.18" stroke="#000" stroke-width="0.85"/>
<line x1="387.98" y1="217" x2="391.98" y2="217" stroke="#000" stroke-width="0.85"/>
<line x1="387.98" y1="228.18" x2="391.98" y2="228.18" stroke="#000" stroke-width="0.85"/>
<line x1="422.13" y1="221.76" x2="422.13" y2="233.43" stroke="#1a1a1a" stroke-width="0.85"/>
<line x1="420.13" y1="221.76" x2="424.13" y2="221.76" stroke="#1a1a1a" stroke-width="0.85"/>
<line x1="420.13" y1="233.43" x2="424.13" y2="233.43" stroke="#1a1a1a" stroke-width="0.85"/>
<line x1="434.33" y1="212.42" x2="434.33" y2="217.59" stroke="#000" stroke-width="0.85"/>
<line x1="432.33" y1="212.42" x2="436.33" y2="212.42" stroke="#000" stroke-width="0.85"/>
<line x1="432.33" y1="217.59" x2="436.33" y2="217.59" stroke="#000" stroke-width="0.85"/>
<path d="M273 204.66V338.1H450.4" fill="none" stroke="#000" stroke-width="1.5"/>
<line x1="270.4" y1="338.1" x2="273" y2="338.1" stroke="#000" stroke-width="1.5"/>
<text x="267" y="341.5" font-size="10" text-anchor="end" >0</text>
<line x1="270.4" y1="321.42" x2="273" y2="321.42" stroke="#000" stroke-width="1.5"/>
<text x="267" y="324.82" font-size="10" text-anchor="end" >0.2</text>
<line x1="270.4" y1="304.74" x2="273" y2="304.74" stroke="#000" stroke-width="1.5"/>
<text x="267" y="308.14" font-size="10" text-anchor="end" >0.4</text>
<line x1="270.4" y1="288.06" x2="273" y2="288.06" stroke="#000" stroke-width="1.5"/>
<text x="267" y="291.46" font-size="10" text-anchor="end" >0.6</text>
<line x1="270.4" y1="271.38" x2="273" y2="271.38" stroke="#000" stroke-width="1.5"/>
<text x="267" y="274.78" font-size="10" text-anchor="end" >0.8</text>
<line x1="270.4" y1="254.7" x2="273" y2="254.7" stroke="#000" stroke-width="1.5"/>
<text x="267" y="258.1" font-size="10" text-anchor="end" >1.0</text>
<line x1="270.4" y1="238.02" x2="273" y2="238.02" stroke="#000" stroke-width="1.5"/>
<text x="267" y="241.42" font-size="10" text-anchor="end" >1.2</text>
<line x1="270.4" y1="221.34" x2="273" y2="221.34" stroke="#000" stroke-width="1.5"/>
<text x="267" y="224.74" font-size="10" text-anchor="end" >1.4</text>
<line x1="270.4" y1="204.66" x2="273" y2="204.66" stroke="#000" stroke-width="1.5"/>
<text x="267" y="208.06" font-size="10" text-anchor="end" >1.6</text>
<line x1="273" y1="338.1" x2="273" y2="340.6" stroke="#000" stroke-width="1.5"/>
<line x1="317.35" y1="338.1" x2="317.35" y2="340.6" stroke="#000" stroke-width="1.5"/>
<line x1="361.7" y1="338.1" x2="361.7" y2="340.6" stroke="#000" stroke-width="1.5"/>
<line x1="406.05" y1="338.1" x2="406.05" y2="340.6" stroke="#000" stroke-width="1.5"/>
<line x1="450.4" y1="338.1" x2="450.4" y2="340.6" stroke="#000" stroke-width="1.5"/>
<text x="295.18" y="351" font-size="10" text-anchor="middle" >24</text>
<text x="339.52" y="351" font-size="10" text-anchor="middle" >48</text>
<text x="383.88" y="351" font-size="10" text-anchor="middle" >72</text>
<text x="428.23" y="351" font-size="10" text-anchor="middle" >96</text>
<text x="361.7" y="367" font-size="10" text-anchor="middle" >Time (h)</text>
<text transform="translate(244,271.38) rotate(-90)" font-size="10" text-anchor="middle">mRNA expression (<tspan font-style="italic">Stat3</tspan>)</text>
<rect x="279.73" y="207.12" width="8.55" height="8.55" fill="#fff" stroke="#000" stroke-width="1.45"/>
<text x="294.4" y="214.2" font-size="10" text-anchor="start" >Control</text>
<rect x="279" y="219.6" width="10" height="10" fill="#000"/>
<text x="294.4" y="227.4" font-size="10" text-anchor="start" >Irisin</text>
<text x="468.5" y="203.5" font-size="13.2" text-anchor="start" font-weight="bold" >f</text>
<rect x="516.96" y="276.99" width="12.2" height="61.31" fill="#fff" stroke="#000" stroke-width="1.45"/>
<rect x="529.16" y="225.01" width="12.2" height="113.29" fill="#000" stroke="#000" stroke-width="1.45"/>
<rect x="561.29" y="260.41" width="12.2" height="77.89" fill="#fff" stroke="#000" stroke-width="1.45"/>
<rect x="573.5" y="262" width="12.2" height="76.3" fill="#000" stroke="#000" stroke-width="1.45"/>
<rect x="605.62" y="289.4" width="12.2" height="48.9" fill="#fff" stroke="#000" stroke-width="1.45"/>
<rect x="617.83" y="282.41" width="12.2" height="55.89" fill="#000" stroke="#000" stroke-width="1.45"/>
<rect x="649.95" y="284.4" width="12.2" height="53.9" fill="#fff" stroke="#000" stroke-width="1.45"/>
<rect x="662.15" y="281.57" width="12.2" height="56.73" fill="#000" stroke="#000" stroke-width="1.45"/>
<line x1="523.06" y1="271.99" x2="523.06" y2="281.99" stroke="#1a1a1a" stroke-width="0.85"/>
<line x1="521.06" y1="271.99" x2="525.06" y2="271.99" stroke="#1a1a1a" stroke-width="0.85"/>
<line x1="521.06" y1="281.99" x2="525.06" y2="281.99" stroke="#1a1a1a" stroke-width="0.85"/>
<line x1="535.26" y1="219.43" x2="535.26" y2="230.59" stroke="#000" stroke-width="0.85"/>
<line x1="533.26" y1="219.43" x2="537.26" y2="219.43" stroke="#000" stroke-width="0.85"/>
<line x1="533.26" y1="230.59" x2="537.26" y2="230.59" stroke="#000" stroke-width="0.85"/>
<line x1="567.39" y1="254.75" x2="567.39" y2="266.08" stroke="#1a1a1a" stroke-width="0.85"/>
<line x1="565.39" y1="254.75" x2="569.39" y2="254.75" stroke="#1a1a1a" stroke-width="0.85"/>
<line x1="565.39" y1="266.08" x2="569.39" y2="266.08" stroke="#1a1a1a" stroke-width="0.85"/>
<line x1="579.6" y1="253.42" x2="579.6" y2="270.58" stroke="#000" stroke-width="0.85"/>
<line x1="577.6" y1="253.42" x2="581.6" y2="253.42" stroke="#000" stroke-width="0.85"/>
<line x1="577.6" y1="270.58" x2="581.6" y2="270.58" stroke="#000" stroke-width="0.85"/>
<line x1="611.73" y1="279.99" x2="611.73" y2="298.82" stroke="#1a1a1a" stroke-width="0.85"/>
<line x1="609.73" y1="279.99" x2="613.73" y2="279.99" stroke="#1a1a1a" stroke-width="0.85"/>
<line x1="609.73" y1="298.82" x2="613.73" y2="298.82" stroke="#1a1a1a" stroke-width="0.85"/>
<line x1="623.93" y1="277.41" x2="623.93" y2="287.4" stroke="#000" stroke-width="0.85"/>
<line x1="621.93" y1="277.41" x2="625.93" y2="277.41" stroke="#000" stroke-width="0.85"/>
<line x1="621.93" y1="287.4" x2="625.93" y2="287.4" stroke="#000" stroke-width="0.85"/>
<line x1="656.05" y1="279.91" x2="656.05" y2="288.9" stroke="#1a1a1a" stroke-width="0.85"/>
<line x1="654.05" y1="279.91" x2="658.05" y2="279.91" stroke="#1a1a1a" stroke-width="0.85"/>
<line x1="654.05" y1="288.9" x2="658.05" y2="288.9" stroke="#1a1a1a" stroke-width="0.85"/>
<line x1="668.25" y1="277.41" x2="668.25" y2="285.74" stroke="#000" stroke-width="0.85"/>
<line x1="666.25" y1="277.41" x2="670.25" y2="277.41" stroke="#000" stroke-width="0.85"/>
<line x1="666.25" y1="285.74" x2="670.25" y2="285.74" stroke="#000" stroke-width="0.85"/>
<path d="M507 205.02V338.3H684.32" fill="none" stroke="#000" stroke-width="1.5"/>
<line x1="504.4" y1="338.3" x2="507" y2="338.3" stroke="#000" stroke-width="1.5"/>
<text x="501" y="341.7" font-size="10" text-anchor="end" >0</text>
<line x1="504.4" y1="321.64" x2="507" y2="321.64" stroke="#000" stroke-width="1.5"/>
<text x="501" y="325.04" font-size="10" text-anchor="end" >0.2</text>
<line x1="504.4" y1="304.98" x2="507" y2="304.98" stroke="#000" stroke-width="1.5"/>
<text x="501" y="308.38" font-size="10" text-anchor="end" >0.4</text>
<line x1="504.4" y1="288.32" x2="507" y2="288.32" stroke="#000" stroke-width="1.5"/>
<text x="501" y="291.72" font-size="10" text-anchor="end" >0.6</text>
<line x1="504.4" y1="271.66" x2="507" y2="271.66" stroke="#000" stroke-width="1.5"/>
<text x="501" y="275.06" font-size="10" text-anchor="end" >0.8</text>
<line x1="504.4" y1="255" x2="507" y2="255" stroke="#000" stroke-width="1.5"/>
<text x="501" y="258.4" font-size="10" text-anchor="end" >1.0</text>
<line x1="504.4" y1="238.34" x2="507" y2="238.34" stroke="#000" stroke-width="1.5"/>
<text x="501" y="241.74" font-size="10" text-anchor="end" >1.2</text>
<line x1="504.4" y1="221.68" x2="507" y2="221.68" stroke="#000" stroke-width="1.5"/>
<text x="501" y="225.08" font-size="10" text-anchor="end" >1.4</text>
<line x1="504.4" y1="205.02" x2="507" y2="205.02" stroke="#000" stroke-width="1.5"/>
<text x="501" y="208.42" font-size="10" text-anchor="end" >1.6</text>
<line x1="507" y1="338.3" x2="507" y2="340.8" stroke="#000" stroke-width="1.5"/>
<line x1="551.33" y1="338.3" x2="551.33" y2="340.8" stroke="#000" stroke-width="1.5"/>
<line x1="595.66" y1="338.3" x2="595.66" y2="340.8" stroke="#000" stroke-width="1.5"/>
<line x1="639.99" y1="338.3" x2="639.99" y2="340.8" stroke="#000" stroke-width="1.5"/>
<line x1="684.32" y1="338.3" x2="684.32" y2="340.8" stroke="#000" stroke-width="1.5"/>
<text x="529.16" y="351" font-size="10" text-anchor="middle" >24</text>
<text x="573.5" y="351" font-size="10" text-anchor="middle" >48</text>
<text x="617.83" y="351" font-size="10" text-anchor="middle" >72</text>
<text x="662.15" y="351" font-size="10" text-anchor="middle" >96</text>
<text x="595.66" y="366" font-size="10" text-anchor="middle" >Time (h)</text>
<text transform="translate(480,271.66) rotate(-90)" font-size="10" text-anchor="middle">mRNA expression (<tspan font-style="italic">Socs3</tspan>)</text>
<text x="535.76" y="218.33" font-size="10" text-anchor="middle" letter-spacing="1" font-weight="bold">**</text>
<rect x="639.12" y="206.72" width="8.55" height="8.55" fill="#fff" stroke="#000" stroke-width="1.45"/>
<text x="653.4" y="213.6" font-size="8.5" text-anchor="start" >Control</text>
<rect x="638.4" y="219.2" width="10" height="10" fill="#000"/>
<text x="653.4" y="226.8" font-size="8.5" text-anchor="start" >Irisin</text>
<text x="0.5" y="396" font-size="13.2" text-anchor="start" font-weight="bold" >g</text>
<rect x="58.6" y="508.3" width="25" height="58" fill="#fff" stroke="#000" stroke-width="1.45"/>
<rect x="83.6" y="450.3" width="25" height="116" fill="#000" stroke="#000" stroke-width="1.45"/>
<rect x="108.6" y="554.47" width="25" height="11.83" fill="#5f5f5f" stroke="#000" stroke-width="1.45"/>
<rect x="133.6" y="545.42" width="25" height="20.88" fill="#bdbdbd" stroke="#000" stroke-width="1.45"/>
<line x1="71.1" y1="504.24" x2="71.1" y2="512.36" stroke="#1a1a1a" stroke-width="1.0"/>
<line x1="69.1" y1="504.24" x2="73.1" y2="504.24" stroke="#1a1a1a" stroke-width="1.0"/>
<line x1="69.1" y1="512.36" x2="73.1" y2="512.36" stroke="#1a1a1a" stroke-width="1.0"/>
<line x1="96.1" y1="445.66" x2="96.1" y2="454.94" stroke="#000" stroke-width="1.0"/>
<line x1="94.1" y1="445.66" x2="98.1" y2="445.66" stroke="#000" stroke-width="1.0"/>
<line x1="94.1" y1="454.94" x2="98.1" y2="454.94" stroke="#000" stroke-width="1.0"/>
<line x1="121.1" y1="550.99" x2="121.1" y2="557.95" stroke="#1a1a1a" stroke-width="1.0"/>
<line x1="119.1" y1="550.99" x2="123.1" y2="550.99" stroke="#1a1a1a" stroke-width="1.0"/>
<line x1="119.1" y1="557.95" x2="123.1" y2="557.95" stroke="#1a1a1a" stroke-width="1.0"/>
<line x1="146.1" y1="540.2" x2="146.1" y2="550.64" stroke="#1a1a1a" stroke-width="1.0"/>
<line x1="144.1" y1="540.2" x2="148.1" y2="540.2" stroke="#1a1a1a" stroke-width="1.0"/>
<line x1="144.1" y1="550.64" x2="148.1" y2="550.64" stroke="#1a1a1a" stroke-width="1.0"/>
<path d="M39.6 421.3V566.3H180" fill="none" stroke="#000" stroke-width="1.5"/>
<line x1="37" y1="566.3" x2="39.6" y2="566.3" stroke="#000" stroke-width="1.5"/>
<text x="32.2" y="569.7" font-size="10.2" text-anchor="end" >0</text>
<line x1="37" y1="537.3" x2="39.6" y2="537.3" stroke="#000" stroke-width="1.5"/>
<text x="32.2" y="540.7" font-size="10.2" text-anchor="end" >0.5</text>
<line x1="37" y1="508.3" x2="39.6" y2="508.3" stroke="#000" stroke-width="1.5"/>
<text x="32.2" y="511.7" font-size="10.2" text-anchor="end" >1.0</text>
<line x1="37" y1="479.3" x2="39.6" y2="479.3" stroke="#000" stroke-width="1.5"/>
<text x="32.2" y="482.7" font-size="10.2" text-anchor="end" >1.5</text>
<line x1="37" y1="450.3" x2="39.6" y2="450.3" stroke="#000" stroke-width="1.5"/>
<text x="32.2" y="453.7" font-size="10.2" text-anchor="end" >2.0</text>
<line x1="37" y1="421.3" x2="39.6" y2="421.3" stroke="#000" stroke-width="1.5"/>
<text x="32.2" y="424.7" font-size="10.2" text-anchor="end" >2.5</text>
<line x1="39.6" y1="566.3" x2="39.6" y2="568.8" stroke="#000" stroke-width="1.5"/>
<line x1="180" y1="566.3" x2="180" y2="568.8" stroke="#000" stroke-width="1.5"/>
<text transform="translate(8.8,495) rotate(-90)" font-size="10" text-anchor="middle">Fold change (<tspan font-style="italic">Il6</tspan>)</text>
<line x1="68.1" y1="442" x2="96.9" y2="442" stroke="#000" stroke-width="1.25"/>
<text x="83" y="441.2" font-size="10" text-anchor="middle" letter-spacing="1.0" font-weight="bold">***</text>
<line x1="68.1" y1="430.5" x2="119.8" y2="430.5" stroke="#111" stroke-width="1"/>
<text x="94.45" y="429" font-size="10" text-anchor="middle" letter-spacing="1.0" font-weight="bold">***</text>
<line x1="95.8" y1="417" x2="147.9" y2="417" stroke="#000" stroke-width="1.25"/>
<text x="122.35" y="415.5" font-size="10" text-anchor="middle" letter-spacing="1.0" font-weight="bold">***</text>
<rect x="182.92" y="398.12" width="9.15" height="9.15" fill="#fff" stroke="#000" stroke-width="1.45"/>
<text x="198" y="405.6" font-size="8.5" text-anchor="start" >scramb-siRNA DB</text>
<rect x="182.2" y="410.6" width="10.6" height="10.6" fill="#000"/>
<text x="198" y="418.8" font-size="8.5" text-anchor="start" >scramb-siRNA Irisin</text>
<rect x="182.92" y="424.73" width="9.15" height="9.15" fill="#5f5f5f" stroke="#000" stroke-width="1.45"/>
<text x="198" y="432.2" font-size="8.5" text-anchor="start" >IL6 siRNA DB</text>
<rect x="182.92" y="437.93" width="9.15" height="9.15" fill="#bdbdbd" stroke="#000" stroke-width="1.45"/>
<text x="198" y="445.4" font-size="8.5" text-anchor="start" >IL6 siRNA Irisin</text>
<text x="0.5" y="599" font-size="13.2" text-anchor="start" font-weight="bold" >i</text>
<rect x="58.2" y="659.51" width="25.45" height="89.19" fill="#fff" stroke="#000" stroke-width="1.45"/>
<rect x="83.65" y="635.32" width="25.45" height="113.38" fill="#000" stroke="#000" stroke-width="1.45"/>
<rect x="109.1" y="676.35" width="25.45" height="72.35" fill="#5a5a5a" stroke="#000" stroke-width="1.45"/>
<rect x="134.55" y="678.96" width="25.45" height="69.74" fill="#a8a8a8" stroke="#000" stroke-width="1.45"/>
<line x1="70.92" y1="656.9" x2="70.92" y2="663.31" stroke="#1a1a1a" stroke-width="1.0"/>
<line x1="68.92" y1="656.9" x2="72.92" y2="656.9" stroke="#1a1a1a" stroke-width="1.0"/>
<line x1="68.92" y1="663.31" x2="72.92" y2="663.31" stroke="#1a1a1a" stroke-width="1.0"/>
<line x1="96.38" y1="629.39" x2="96.38" y2="641.25" stroke="#000" stroke-width="1.0"/>
<line x1="94.38" y1="629.39" x2="98.38" y2="629.39" stroke="#000" stroke-width="1.0"/>
<line x1="94.38" y1="641.25" x2="98.38" y2="641.25" stroke="#000" stroke-width="1.0"/>
<line x1="121.82" y1="667.1" x2="121.82" y2="685.13" stroke="#1a1a1a" stroke-width="1.0"/>
<line x1="119.82" y1="667.1" x2="123.82" y2="667.1" stroke="#1a1a1a" stroke-width="1.0"/>
<line x1="119.82" y1="685.13" x2="123.82" y2="685.13" stroke="#1a1a1a" stroke-width="1.0"/>
<line x1="147.28" y1="672.56" x2="147.28" y2="686.08" stroke="#1a1a1a" stroke-width="1.0"/>
<line x1="145.28" y1="672.56" x2="149.28" y2="672.56" stroke="#1a1a1a" stroke-width="1.0"/>
<line x1="145.28" y1="686.08" x2="149.28" y2="686.08" stroke="#1a1a1a" stroke-width="1.0"/>
<path d="M37.8 606.38V748.7H180.4" fill="none" stroke="#000" stroke-width="1.5"/>
<line x1="35.2" y1="748.7" x2="37.8" y2="748.7" stroke="#000" stroke-width="1.5"/>
<text x="30.6" y="752.1" font-size="10.2" text-anchor="end" >0</text>
<line x1="35.2" y1="724.98" x2="37.8" y2="724.98" stroke="#000" stroke-width="1.5"/>
<text x="30.6" y="728.38" font-size="10.2" text-anchor="end" >0.1</text>
<line x1="35.2" y1="701.26" x2="37.8" y2="701.26" stroke="#000" stroke-width="1.5"/>
<text x="30.6" y="704.66" font-size="10.2" text-anchor="end" >0.2</text>
<line x1="35.2" y1="677.54" x2="37.8" y2="677.54" stroke="#000" stroke-width="1.5"/>
<text x="30.6" y="680.94" font-size="10.2" text-anchor="end" >0.3</text>
<line x1="35.2" y1="653.82" x2="37.8" y2="653.82" stroke="#000" stroke-width="1.5"/>
<text x="30.6" y="657.22" font-size="10.2" text-anchor="end" >0.4</text>
<line x1="35.2" y1="630.1" x2="37.8" y2="630.1" stroke="#000" stroke-width="1.5"/>
<text x="30.6" y="633.5" font-size="10.2" text-anchor="end" >0.5</text>
<line x1="35.2" y1="606.38" x2="37.8" y2="606.38" stroke="#000" stroke-width="1.5"/>
<text x="30.6" y="609.78" font-size="10.2" text-anchor="end" >0.6</text>
<line x1="37.8" y1="748.7" x2="37.8" y2="751.2" stroke="#000" stroke-width="1.5"/>
<line x1="180.4" y1="748.7" x2="180.4" y2="751.2" stroke="#000" stroke-width="1.5"/>
<text transform="translate(8.5,677) rotate(-90)" font-size="10" text-anchor="middle">Fusion index (a.u.)</text>
<line x1="68" y1="627.5" x2="96.7" y2="627.5" stroke="#111" stroke-width="1"/>
<text x="82.85" y="625.7" font-size="10" text-anchor="middle" letter-spacing="1.0" font-weight="bold">*</text>
<line x1="68" y1="615" x2="119.6" y2="615" stroke="#000" stroke-width="1.25"/>
<text x="97.8" y="611" font-size="10" text-anchor="middle" ><tspan font-style="italic">p</tspan>=0.09</text>
<line x1="95.1" y1="601.5" x2="147" y2="601.5" stroke="#111" stroke-width="1"/>
<text x="121.55" y="599.4" font-size="10" text-anchor="middle" letter-spacing="1.0" font-weight="bold">***</text>
<rect x="166.72" y="595.73" width="8.95" height="8.95" fill="#fff" stroke="#000" stroke-width="1.45"/>
<text x="182" y="603" font-size="8.6" text-anchor="start" >scramb-siRNA DB</text>
<rect x="166" y="608.4" width="10.4" height="10.4" fill="#000"/>
<text x="182" y="616.4" font-size="8.6" text-anchor="start" >scramb- siRNA Irisin</text>
<rect x="166.72" y="622.73" width="8.95" height="8.95" fill="#5a5a5a" stroke="#000" stroke-width="1.45"/>
<text x="182" y="630" font-size="8.6" text-anchor="start" >IL6 siRNA DB</text>
<rect x="166.72" y="636.33" width="8.95" height="8.95" fill="#a8a8a8" stroke="#000" stroke-width="1.45"/>
<text x="182" y="643.6" font-size="8.6" text-anchor="start" >IL6 siRNA Irisin</text>
<text x="346.6" y="596.5" font-size="13.2" text-anchor="start" font-weight="bold" >j</text>
<rect x="399.2" y="654.36" width="25.55" height="95.04" fill="#fff" stroke="#000" stroke-width="1.45"/>
<rect x="424.75" y="637.08" width="25.55" height="112.32" fill="#000" stroke="#000" stroke-width="1.45"/>
<rect x="450.3" y="671.16" width="25.55" height="78.24" fill="#5a5a5a" stroke="#000" stroke-width="1.45"/>
<rect x="475.85" y="670.39" width="25.55" height="79.01" fill="#a6a6a6" stroke="#000" stroke-width="1.45"/>
<line x1="411.97" y1="651.24" x2="411.97" y2="657.48" stroke="#1a1a1a" stroke-width="1.0"/>
<line x1="409.97" y1="651.24" x2="413.97" y2="651.24" stroke="#1a1a1a" stroke-width="1.0"/>
<line x1="409.97" y1="657.48" x2="413.97" y2="657.48" stroke="#1a1a1a" stroke-width="1.0"/>
<line x1="437.52" y1="631.32" x2="437.52" y2="642.84" stroke="#000" stroke-width="1.0"/>
<line x1="435.52" y1="631.32" x2="439.52" y2="631.32" stroke="#000" stroke-width="1.0"/>
<line x1="435.52" y1="642.84" x2="439.52" y2="642.84" stroke="#000" stroke-width="1.0"/>
<line x1="463.07" y1="665.64" x2="463.07" y2="676.68" stroke="#1a1a1a" stroke-width="1.0"/>
<line x1="461.07" y1="665.64" x2="465.07" y2="665.64" stroke="#1a1a1a" stroke-width="1.0"/>
<line x1="461.07" y1="676.68" x2="465.07" y2="676.68" stroke="#1a1a1a" stroke-width="1.0"/>
<line x1="488.62" y1="667.03" x2="488.62" y2="673.75" stroke="#1a1a1a" stroke-width="1.0"/>
<line x1="486.62" y1="667.03" x2="490.62" y2="667.03" stroke="#1a1a1a" stroke-width="1.0"/>
<line x1="486.62" y1="673.75" x2="490.62" y2="673.75" stroke="#1a1a1a" stroke-width="1.0"/>
<path d="M378.8 605.4V749.4H521" fill="none" stroke="#000" stroke-width="1.5"/>
<line x1="376.2" y1="749.4" x2="378.8" y2="749.4" stroke="#000" stroke-width="1.5"/>
<text x="372.8" y="752.8" font-size="10.2" text-anchor="end" >0</text>
<line x1="376.2" y1="725.4" x2="378.8" y2="725.4" stroke="#000" stroke-width="1.5"/>
<text x="372.8" y="728.8" font-size="10.2" text-anchor="end" >5</text>
<line x1="376.2" y1="701.4" x2="378.8" y2="701.4" stroke="#000" stroke-width="1.5"/>
<text x="372.8" y="704.8" font-size="10.2" text-anchor="end" >10</text>
<line x1="376.2" y1="677.4" x2="378.8" y2="677.4" stroke="#000" stroke-width="1.5"/>
<text x="372.8" y="680.8" font-size="10.2" text-anchor="end" >15</text>
<line x1="376.2" y1="653.4" x2="378.8" y2="653.4" stroke="#000" stroke-width="1.5"/>
<text x="372.8" y="656.8" font-size="10.2" text-anchor="end" >20</text>
<line x1="376.2" y1="629.4" x2="378.8" y2="629.4" stroke="#000" stroke-width="1.5"/>
<text x="372.8" y="632.8" font-size="10.2" text-anchor="end" >25</text>
<line x1="376.2" y1="605.4" x2="378.8" y2="605.4" stroke="#000" stroke-width="1.5"/>
<text x="372.8" y="608.8" font-size="10.2" text-anchor="end" >30</text>
<line x1="378.8" y1="749.4" x2="378.8" y2="751.9" stroke="#000" stroke-width="1.5"/>
<line x1="521" y1="749.4" x2="521" y2="751.9" stroke="#000" stroke-width="1.5"/>
<text transform="translate(353.8,677.8) rotate(-90)" font-size="10" text-anchor="middle">Myotube number</text>
<line x1="410" y1="628" x2="438.6" y2="628" stroke="#000" stroke-width="1.25"/>
<text x="424.8" y="626.4" font-size="10" text-anchor="middle" letter-spacing="1.0" font-weight="bold">*</text>
<line x1="410" y1="615.5" x2="462" y2="615.5" stroke="#111" stroke-width="1"/>
<text x="436.5" y="614" font-size="10" text-anchor="middle" letter-spacing="1.0" font-weight="bold">*</text>
<line x1="437" y1="603.5" x2="489" y2="603.5" stroke="#111" stroke-width="1"/>
<text x="463.5" y="601.8" font-size="10" text-anchor="middle" letter-spacing="1.0" font-weight="bold">***</text>
<rect x="510.33" y="593.93" width="8.75" height="8.75" fill="#fff" stroke="#000" stroke-width="1.45"/>
<text x="526" y="601.8" font-size="10" text-anchor="start" >scramb-siRNA DB</text>
<rect x="509.6" y="606.4" width="10.2" height="10.2" fill="#000"/>
<text x="526" y="615" font-size="10" text-anchor="start" >scramb-siRNA Irisin</text>
<rect x="510.33" y="620.52" width="8.75" height="8.75" fill="#5a5a5a" stroke="#000" stroke-width="1.45"/>
<text x="526" y="628.4" font-size="10" text-anchor="start" >IL6 siRNA DB</text>
<rect x="510.33" y="633.93" width="8.75" height="8.75" fill="#a6a6a6" stroke="#000" stroke-width="1.45"/>
<text x="526" y="641.8" font-size="10" text-anchor="start" >IL6 siRNA Irisin</text>
<text x="317" y="398" font-size="13.2" text-anchor="start" font-weight="bold" >h</text>
<text x="436.3" y="401" font-size="10" text-anchor="middle" >DB</text>
<text x="539" y="401" font-size="10" text-anchor="middle" >Irisin</text>
<text x="382.5" y="443.6" font-size="10" text-anchor="end" >scramb-siRNA</text>
<text x="382.5" y="518.6" font-size="10" text-anchor="end" >IL6-siRNA</text></svg></body></html>
